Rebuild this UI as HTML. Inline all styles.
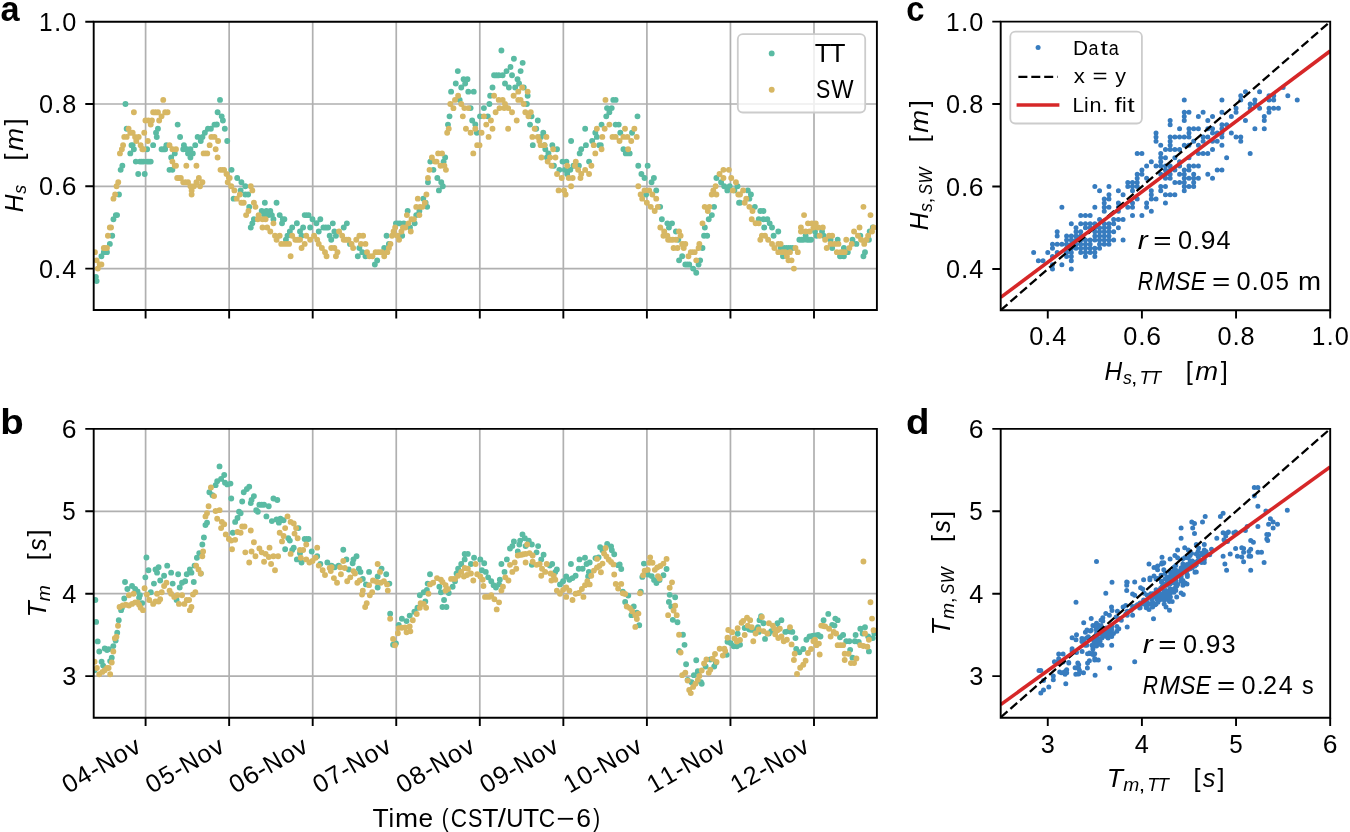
<!DOCTYPE html><html><head><meta charset="utf-8"><style>html,body{margin:0;padding:0;background:#fff;overflow:hidden}svg{display:block;will-change:transform}</style></head><body><svg width="1350" height="832" viewBox="0 0 1350 832" font-family='"Liberation Sans", sans-serif'><path d="M145.6 21.7V310.0M145.6 428.9V717.7M229.15 21.7V310.0M229.15 428.9V717.7M312.7 21.7V310.0M312.7 428.9V717.7M396.25 21.7V310.0M396.25 428.9V717.7M479.8 21.7V310.0M479.8 428.9V717.7M563.35 21.7V310.0M563.35 428.9V717.7M646.9 21.7V310.0M646.9 428.9V717.7M730.45 21.7V310.0M730.45 428.9V717.7M814 21.7V310.0M814 428.9V717.7M93.7 268.6H876.9M93.7 186.3H876.9M93.7 104H876.9M93.7 676.1H876.9M93.7 593.7H876.9M93.7 511.3H876.9" stroke="#b0b0b0" stroke-width="1.7" fill="none"/>
<clipPath id="ca"><rect x="93.7" y="21.7" width="783.2" height="288.3"/></clipPath>
<clipPath id="cb"><rect x="93.7" y="428.9" width="783.2" height="288.8"/></clipPath>
<clipPath id="cc"><rect x="1000.7" y="21.6" width="329.5" height="288.6"/></clipPath>
<clipPath id="cd"><rect x="1000.7" y="428.9" width="329.5" height="288.8"/></clipPath>
<path d="M92.94 276.83a2.95 2.95 0 1 0 5.9 0a2.95 2.95 0 1 0 -5.9 0M93.66 280.94a2.95 2.95 0 1 0 5.9 0a2.95 2.95 0 1 0 -5.9 0M98.47 256.26a2.95 2.95 0 1 0 5.9 0a2.95 2.95 0 1 0 -5.9 0M100.87 252.14a2.95 2.95 0 1 0 5.9 0a2.95 2.95 0 1 0 -5.9 0M104 252.14a2.95 2.95 0 1 0 5.9 0a2.95 2.95 0 1 0 -5.9 0M106.89 243.91a2.95 2.95 0 1 0 5.9 0a2.95 2.95 0 1 0 -5.9 0M109.29 235.68a2.95 2.95 0 1 0 5.9 0a2.95 2.95 0 1 0 -5.9 0M110.5 219.22a2.95 2.95 0 1 0 5.9 0a2.95 2.95 0 1 0 -5.9 0M112.9 215.1a2.95 2.95 0 1 0 5.9 0a2.95 2.95 0 1 0 -5.9 0M114.1 215.1a2.95 2.95 0 1 0 5.9 0a2.95 2.95 0 1 0 -5.9 0M116.03 194.53a2.95 2.95 0 1 0 5.9 0a2.95 2.95 0 1 0 -5.9 0M117.71 169.84a2.95 2.95 0 1 0 5.9 0a2.95 2.95 0 1 0 -5.9 0M119.4 165.72a2.95 2.95 0 1 0 5.9 0a2.95 2.95 0 1 0 -5.9 0M122.52 104a2.95 2.95 0 1 0 5.9 0a2.95 2.95 0 1 0 -5.9 0M123.73 128.69a2.95 2.95 0 1 0 5.9 0a2.95 2.95 0 1 0 -5.9 0M127.34 153.38a2.95 2.95 0 1 0 5.9 0a2.95 2.95 0 1 0 -5.9 0M128.54 145.15a2.95 2.95 0 1 0 5.9 0a2.95 2.95 0 1 0 -5.9 0M129.74 145.15a2.95 2.95 0 1 0 5.9 0a2.95 2.95 0 1 0 -5.9 0M130.94 149.27a2.95 2.95 0 1 0 5.9 0a2.95 2.95 0 1 0 -5.9 0M132.87 161.61a2.95 2.95 0 1 0 5.9 0a2.95 2.95 0 1 0 -5.9 0M135.27 173.95a2.95 2.95 0 1 0 5.9 0a2.95 2.95 0 1 0 -5.9 0M136.96 161.61a2.95 2.95 0 1 0 5.9 0a2.95 2.95 0 1 0 -5.9 0M140.57 161.61a2.95 2.95 0 1 0 5.9 0a2.95 2.95 0 1 0 -5.9 0M141.77 173.95a2.95 2.95 0 1 0 5.9 0a2.95 2.95 0 1 0 -5.9 0M144.17 149.27a2.95 2.95 0 1 0 5.9 0a2.95 2.95 0 1 0 -5.9 0M144.17 161.61a2.95 2.95 0 1 0 5.9 0a2.95 2.95 0 1 0 -5.9 0M147.78 161.61a2.95 2.95 0 1 0 5.9 0a2.95 2.95 0 1 0 -5.9 0M150.19 145.15a2.95 2.95 0 1 0 5.9 0a2.95 2.95 0 1 0 -5.9 0M153.07 132.81a2.95 2.95 0 1 0 5.9 0a2.95 2.95 0 1 0 -5.9 0M153.8 136.92a2.95 2.95 0 1 0 5.9 0a2.95 2.95 0 1 0 -5.9 0M155 128.69a2.95 2.95 0 1 0 5.9 0a2.95 2.95 0 1 0 -5.9 0M158.61 149.27a2.95 2.95 0 1 0 5.9 0a2.95 2.95 0 1 0 -5.9 0M162.21 149.27a2.95 2.95 0 1 0 5.9 0a2.95 2.95 0 1 0 -5.9 0M163.42 145.15a2.95 2.95 0 1 0 5.9 0a2.95 2.95 0 1 0 -5.9 0M166.54 169.84a2.95 2.95 0 1 0 5.9 0a2.95 2.95 0 1 0 -5.9 0M168.23 157.49a2.95 2.95 0 1 0 5.9 0a2.95 2.95 0 1 0 -5.9 0M169.43 169.84a2.95 2.95 0 1 0 5.9 0a2.95 2.95 0 1 0 -5.9 0M171.84 153.38a2.95 2.95 0 1 0 5.9 0a2.95 2.95 0 1 0 -5.9 0M174.72 124.58a2.95 2.95 0 1 0 5.9 0a2.95 2.95 0 1 0 -5.9 0M177.13 136.92a2.95 2.95 0 1 0 5.9 0a2.95 2.95 0 1 0 -5.9 0M180.26 149.27a2.95 2.95 0 1 0 5.9 0a2.95 2.95 0 1 0 -5.9 0M180.98 145.15a2.95 2.95 0 1 0 5.9 0a2.95 2.95 0 1 0 -5.9 0M183.86 149.27a2.95 2.95 0 1 0 5.9 0a2.95 2.95 0 1 0 -5.9 0M185.07 153.38a2.95 2.95 0 1 0 5.9 0a2.95 2.95 0 1 0 -5.9 0M187.47 149.27a2.95 2.95 0 1 0 5.9 0a2.95 2.95 0 1 0 -5.9 0M187.47 157.49a2.95 2.95 0 1 0 5.9 0a2.95 2.95 0 1 0 -5.9 0M189.88 153.38a2.95 2.95 0 1 0 5.9 0a2.95 2.95 0 1 0 -5.9 0M192.28 145.15a2.95 2.95 0 1 0 5.9 0a2.95 2.95 0 1 0 -5.9 0M194.69 136.92a2.95 2.95 0 1 0 5.9 0a2.95 2.95 0 1 0 -5.9 0M197.82 141.03a2.95 2.95 0 1 0 5.9 0a2.95 2.95 0 1 0 -5.9 0M199.5 136.92a2.95 2.95 0 1 0 5.9 0a2.95 2.95 0 1 0 -5.9 0M201.91 132.81a2.95 2.95 0 1 0 5.9 0a2.95 2.95 0 1 0 -5.9 0M205.03 128.69a2.95 2.95 0 1 0 5.9 0a2.95 2.95 0 1 0 -5.9 0M207.92 128.69a2.95 2.95 0 1 0 5.9 0a2.95 2.95 0 1 0 -5.9 0M211.53 124.58a2.95 2.95 0 1 0 5.9 0a2.95 2.95 0 1 0 -5.9 0M213.93 124.58a2.95 2.95 0 1 0 5.9 0a2.95 2.95 0 1 0 -5.9 0M214.65 112.23a2.95 2.95 0 1 0 5.9 0a2.95 2.95 0 1 0 -5.9 0M217.06 99.88a2.95 2.95 0 1 0 5.9 0a2.95 2.95 0 1 0 -5.9 0M218.74 116.34a2.95 2.95 0 1 0 5.9 0a2.95 2.95 0 1 0 -5.9 0M219.95 120.46a2.95 2.95 0 1 0 5.9 0a2.95 2.95 0 1 0 -5.9 0M221.87 128.69a2.95 2.95 0 1 0 5.9 0a2.95 2.95 0 1 0 -5.9 0M224.28 141.03a2.95 2.95 0 1 0 5.9 0a2.95 2.95 0 1 0 -5.9 0M228.61 169.84a2.95 2.95 0 1 0 5.9 0a2.95 2.95 0 1 0 -5.9 0M230.64 198.65a2.95 2.95 0 1 0 5.9 0a2.95 2.95 0 1 0 -5.9 0M234.24 178.07a2.95 2.95 0 1 0 5.9 0a2.95 2.95 0 1 0 -5.9 0M237.68 190.41a2.95 2.95 0 1 0 5.9 0a2.95 2.95 0 1 0 -5.9 0M238.46 182.19a2.95 2.95 0 1 0 5.9 0a2.95 2.95 0 1 0 -5.9 0M242.36 186.3a2.95 2.95 0 1 0 5.9 0a2.95 2.95 0 1 0 -5.9 0M242.36 194.53a2.95 2.95 0 1 0 5.9 0a2.95 2.95 0 1 0 -5.9 0M245.18 194.53a2.95 2.95 0 1 0 5.9 0a2.95 2.95 0 1 0 -5.9 0M246.27 206.87a2.95 2.95 0 1 0 5.9 0a2.95 2.95 0 1 0 -5.9 0M247.83 227.45a2.95 2.95 0 1 0 5.9 0a2.95 2.95 0 1 0 -5.9 0M249.39 223.33a2.95 2.95 0 1 0 5.9 0a2.95 2.95 0 1 0 -5.9 0M250.96 219.22a2.95 2.95 0 1 0 5.9 0a2.95 2.95 0 1 0 -5.9 0M258.77 210.99a2.95 2.95 0 1 0 5.9 0a2.95 2.95 0 1 0 -5.9 0M261.11 215.1a2.95 2.95 0 1 0 5.9 0a2.95 2.95 0 1 0 -5.9 0M261.89 202.76a2.95 2.95 0 1 0 5.9 0a2.95 2.95 0 1 0 -5.9 0M263.46 210.99a2.95 2.95 0 1 0 5.9 0a2.95 2.95 0 1 0 -5.9 0M265.8 215.1a2.95 2.95 0 1 0 5.9 0a2.95 2.95 0 1 0 -5.9 0M267.36 210.99a2.95 2.95 0 1 0 5.9 0a2.95 2.95 0 1 0 -5.9 0M268.93 215.1a2.95 2.95 0 1 0 5.9 0a2.95 2.95 0 1 0 -5.9 0M270.49 219.22a2.95 2.95 0 1 0 5.9 0a2.95 2.95 0 1 0 -5.9 0M273.61 202.76a2.95 2.95 0 1 0 5.9 0a2.95 2.95 0 1 0 -5.9 0M276.74 215.1a2.95 2.95 0 1 0 5.9 0a2.95 2.95 0 1 0 -5.9 0M279.08 223.33a2.95 2.95 0 1 0 5.9 0a2.95 2.95 0 1 0 -5.9 0M279.86 219.22a2.95 2.95 0 1 0 5.9 0a2.95 2.95 0 1 0 -5.9 0M281.43 219.22a2.95 2.95 0 1 0 5.9 0a2.95 2.95 0 1 0 -5.9 0M282.99 239.79a2.95 2.95 0 1 0 5.9 0a2.95 2.95 0 1 0 -5.9 0M284.55 235.68a2.95 2.95 0 1 0 5.9 0a2.95 2.95 0 1 0 -5.9 0M286.89 231.56a2.95 2.95 0 1 0 5.9 0a2.95 2.95 0 1 0 -5.9 0M289.24 227.45a2.95 2.95 0 1 0 5.9 0a2.95 2.95 0 1 0 -5.9 0M293.93 223.33a2.95 2.95 0 1 0 5.9 0a2.95 2.95 0 1 0 -5.9 0M297.05 231.56a2.95 2.95 0 1 0 5.9 0a2.95 2.95 0 1 0 -5.9 0M298.61 235.68a2.95 2.95 0 1 0 5.9 0a2.95 2.95 0 1 0 -5.9 0M300.18 227.45a2.95 2.95 0 1 0 5.9 0a2.95 2.95 0 1 0 -5.9 0M301.74 215.1a2.95 2.95 0 1 0 5.9 0a2.95 2.95 0 1 0 -5.9 0M305.64 215.1a2.95 2.95 0 1 0 5.9 0a2.95 2.95 0 1 0 -5.9 0M307.21 227.45a2.95 2.95 0 1 0 5.9 0a2.95 2.95 0 1 0 -5.9 0M309.55 219.22a2.95 2.95 0 1 0 5.9 0a2.95 2.95 0 1 0 -5.9 0M313.46 223.33a2.95 2.95 0 1 0 5.9 0a2.95 2.95 0 1 0 -5.9 0M315.8 231.56a2.95 2.95 0 1 0 5.9 0a2.95 2.95 0 1 0 -5.9 0M317.36 219.22a2.95 2.95 0 1 0 5.9 0a2.95 2.95 0 1 0 -5.9 0M320.49 227.45a2.95 2.95 0 1 0 5.9 0a2.95 2.95 0 1 0 -5.9 0M325.18 227.45a2.95 2.95 0 1 0 5.9 0a2.95 2.95 0 1 0 -5.9 0M326.74 235.68a2.95 2.95 0 1 0 5.9 0a2.95 2.95 0 1 0 -5.9 0M328.3 239.79a2.95 2.95 0 1 0 5.9 0a2.95 2.95 0 1 0 -5.9 0M329.86 223.33a2.95 2.95 0 1 0 5.9 0a2.95 2.95 0 1 0 -5.9 0M331.43 231.56a2.95 2.95 0 1 0 5.9 0a2.95 2.95 0 1 0 -5.9 0M332.99 235.68a2.95 2.95 0 1 0 5.9 0a2.95 2.95 0 1 0 -5.9 0M340.8 227.45a2.95 2.95 0 1 0 5.9 0a2.95 2.95 0 1 0 -5.9 0M343.93 223.33a2.95 2.95 0 1 0 5.9 0a2.95 2.95 0 1 0 -5.9 0M347.05 243.91a2.95 2.95 0 1 0 5.9 0a2.95 2.95 0 1 0 -5.9 0M354.86 256.26a2.95 2.95 0 1 0 5.9 0a2.95 2.95 0 1 0 -5.9 0M356.43 248.03a2.95 2.95 0 1 0 5.9 0a2.95 2.95 0 1 0 -5.9 0M359.39 252.14a2.95 2.95 0 1 0 5.9 0a2.95 2.95 0 1 0 -5.9 0M362.52 256.26a2.95 2.95 0 1 0 5.9 0a2.95 2.95 0 1 0 -5.9 0M371.89 264.49a2.95 2.95 0 1 0 5.9 0a2.95 2.95 0 1 0 -5.9 0M374.24 260.37a2.95 2.95 0 1 0 5.9 0a2.95 2.95 0 1 0 -5.9 0M381.27 248.03a2.95 2.95 0 1 0 5.9 0a2.95 2.95 0 1 0 -5.9 0M383.61 235.68a2.95 2.95 0 1 0 5.9 0a2.95 2.95 0 1 0 -5.9 0M385.96 243.91a2.95 2.95 0 1 0 5.9 0a2.95 2.95 0 1 0 -5.9 0M392.99 223.33a2.95 2.95 0 1 0 5.9 0a2.95 2.95 0 1 0 -5.9 0M396.89 223.33a2.95 2.95 0 1 0 5.9 0a2.95 2.95 0 1 0 -5.9 0M399.24 235.68a2.95 2.95 0 1 0 5.9 0a2.95 2.95 0 1 0 -5.9 0M400.8 223.33a2.95 2.95 0 1 0 5.9 0a2.95 2.95 0 1 0 -5.9 0M404.71 210.99a2.95 2.95 0 1 0 5.9 0a2.95 2.95 0 1 0 -5.9 0M407.05 227.45a2.95 2.95 0 1 0 5.9 0a2.95 2.95 0 1 0 -5.9 0M411.74 223.33a2.95 2.95 0 1 0 5.9 0a2.95 2.95 0 1 0 -5.9 0M413.3 215.1a2.95 2.95 0 1 0 5.9 0a2.95 2.95 0 1 0 -5.9 0M416.43 210.99a2.95 2.95 0 1 0 5.9 0a2.95 2.95 0 1 0 -5.9 0M420.33 198.65a2.95 2.95 0 1 0 5.9 0a2.95 2.95 0 1 0 -5.9 0M422.68 202.76a2.95 2.95 0 1 0 5.9 0a2.95 2.95 0 1 0 -5.9 0M424.24 206.87a2.95 2.95 0 1 0 5.9 0a2.95 2.95 0 1 0 -5.9 0M425.02 182.19a2.95 2.95 0 1 0 5.9 0a2.95 2.95 0 1 0 -5.9 0M427.36 161.61a2.95 2.95 0 1 0 5.9 0a2.95 2.95 0 1 0 -5.9 0M430.49 169.84a2.95 2.95 0 1 0 5.9 0a2.95 2.95 0 1 0 -5.9 0M434.39 178.07a2.95 2.95 0 1 0 5.9 0a2.95 2.95 0 1 0 -5.9 0M435.96 190.41a2.95 2.95 0 1 0 5.9 0a2.95 2.95 0 1 0 -5.9 0M438.3 182.19a2.95 2.95 0 1 0 5.9 0a2.95 2.95 0 1 0 -5.9 0M439.86 186.3a2.95 2.95 0 1 0 5.9 0a2.95 2.95 0 1 0 -5.9 0M440.64 161.61a2.95 2.95 0 1 0 5.9 0a2.95 2.95 0 1 0 -5.9 0M442.21 157.49a2.95 2.95 0 1 0 5.9 0a2.95 2.95 0 1 0 -5.9 0M445.02 124.58a2.95 2.95 0 1 0 5.9 0a2.95 2.95 0 1 0 -5.9 0M446.58 116.34a2.95 2.95 0 1 0 5.9 0a2.95 2.95 0 1 0 -5.9 0M448.14 91.66a2.95 2.95 0 1 0 5.9 0a2.95 2.95 0 1 0 -5.9 0M452.83 83.43a2.95 2.95 0 1 0 5.9 0a2.95 2.95 0 1 0 -5.9 0M454.86 71.08a2.95 2.95 0 1 0 5.9 0a2.95 2.95 0 1 0 -5.9 0M456.74 99.88a2.95 2.95 0 1 0 5.9 0a2.95 2.95 0 1 0 -5.9 0M458.3 87.54a2.95 2.95 0 1 0 5.9 0a2.95 2.95 0 1 0 -5.9 0M460.64 79.31a2.95 2.95 0 1 0 5.9 0a2.95 2.95 0 1 0 -5.9 0M462.21 83.43a2.95 2.95 0 1 0 5.9 0a2.95 2.95 0 1 0 -5.9 0M464.55 79.31a2.95 2.95 0 1 0 5.9 0a2.95 2.95 0 1 0 -5.9 0M465.33 91.66a2.95 2.95 0 1 0 5.9 0a2.95 2.95 0 1 0 -5.9 0M467.68 108.11a2.95 2.95 0 1 0 5.9 0a2.95 2.95 0 1 0 -5.9 0M469.24 120.46a2.95 2.95 0 1 0 5.9 0a2.95 2.95 0 1 0 -5.9 0M470.8 91.66a2.95 2.95 0 1 0 5.9 0a2.95 2.95 0 1 0 -5.9 0M472.36 124.58a2.95 2.95 0 1 0 5.9 0a2.95 2.95 0 1 0 -5.9 0M473.93 132.81a2.95 2.95 0 1 0 5.9 0a2.95 2.95 0 1 0 -5.9 0M477.05 116.34a2.95 2.95 0 1 0 5.9 0a2.95 2.95 0 1 0 -5.9 0M480.96 108.11a2.95 2.95 0 1 0 5.9 0a2.95 2.95 0 1 0 -5.9 0M484.86 116.34a2.95 2.95 0 1 0 5.9 0a2.95 2.95 0 1 0 -5.9 0M486.43 104a2.95 2.95 0 1 0 5.9 0a2.95 2.95 0 1 0 -5.9 0M487.21 95.77a2.95 2.95 0 1 0 5.9 0a2.95 2.95 0 1 0 -5.9 0M489.55 87.54a2.95 2.95 0 1 0 5.9 0a2.95 2.95 0 1 0 -5.9 0M491.11 75.2a2.95 2.95 0 1 0 5.9 0a2.95 2.95 0 1 0 -5.9 0M495.8 75.2a2.95 2.95 0 1 0 5.9 0a2.95 2.95 0 1 0 -5.9 0M498.46 50.5a2.95 2.95 0 1 0 5.9 0a2.95 2.95 0 1 0 -5.9 0M499.71 75.2a2.95 2.95 0 1 0 5.9 0a2.95 2.95 0 1 0 -5.9 0M502.05 83.43a2.95 2.95 0 1 0 5.9 0a2.95 2.95 0 1 0 -5.9 0M503.61 71.08a2.95 2.95 0 1 0 5.9 0a2.95 2.95 0 1 0 -5.9 0M505.96 87.54a2.95 2.95 0 1 0 5.9 0a2.95 2.95 0 1 0 -5.9 0M507.52 66.96a2.95 2.95 0 1 0 5.9 0a2.95 2.95 0 1 0 -5.9 0M509.08 75.2a2.95 2.95 0 1 0 5.9 0a2.95 2.95 0 1 0 -5.9 0M510.96 58.73a2.95 2.95 0 1 0 5.9 0a2.95 2.95 0 1 0 -5.9 0M512.21 87.54a2.95 2.95 0 1 0 5.9 0a2.95 2.95 0 1 0 -5.9 0M514.55 79.31a2.95 2.95 0 1 0 5.9 0a2.95 2.95 0 1 0 -5.9 0M516.11 83.43a2.95 2.95 0 1 0 5.9 0a2.95 2.95 0 1 0 -5.9 0M517.67 71.08a2.95 2.95 0 1 0 5.9 0a2.95 2.95 0 1 0 -5.9 0M519.71 62.85a2.95 2.95 0 1 0 5.9 0a2.95 2.95 0 1 0 -5.9 0M520.8 87.54a2.95 2.95 0 1 0 5.9 0a2.95 2.95 0 1 0 -5.9 0M523.92 104a2.95 2.95 0 1 0 5.9 0a2.95 2.95 0 1 0 -5.9 0M524.71 95.77a2.95 2.95 0 1 0 5.9 0a2.95 2.95 0 1 0 -5.9 0M527.05 124.58a2.95 2.95 0 1 0 5.9 0a2.95 2.95 0 1 0 -5.9 0M528.61 116.34a2.95 2.95 0 1 0 5.9 0a2.95 2.95 0 1 0 -5.9 0M529.86 145.15a2.95 2.95 0 1 0 5.9 0a2.95 2.95 0 1 0 -5.9 0M533.3 128.69a2.95 2.95 0 1 0 5.9 0a2.95 2.95 0 1 0 -5.9 0M534.86 120.46a2.95 2.95 0 1 0 5.9 0a2.95 2.95 0 1 0 -5.9 0M537.99 136.92a2.95 2.95 0 1 0 5.9 0a2.95 2.95 0 1 0 -5.9 0M540.33 132.81a2.95 2.95 0 1 0 5.9 0a2.95 2.95 0 1 0 -5.9 0M541.58 145.15a2.95 2.95 0 1 0 5.9 0a2.95 2.95 0 1 0 -5.9 0M542.36 149.27a2.95 2.95 0 1 0 5.9 0a2.95 2.95 0 1 0 -5.9 0M543.92 157.49a2.95 2.95 0 1 0 5.9 0a2.95 2.95 0 1 0 -5.9 0M545.49 153.38a2.95 2.95 0 1 0 5.9 0a2.95 2.95 0 1 0 -5.9 0M549.39 145.15a2.95 2.95 0 1 0 5.9 0a2.95 2.95 0 1 0 -5.9 0M550.96 165.72a2.95 2.95 0 1 0 5.9 0a2.95 2.95 0 1 0 -5.9 0M554.08 149.27a2.95 2.95 0 1 0 5.9 0a2.95 2.95 0 1 0 -5.9 0M556.42 169.84a2.95 2.95 0 1 0 5.9 0a2.95 2.95 0 1 0 -5.9 0M559.55 161.61a2.95 2.95 0 1 0 5.9 0a2.95 2.95 0 1 0 -5.9 0M561.89 169.84a2.95 2.95 0 1 0 5.9 0a2.95 2.95 0 1 0 -5.9 0M563.46 161.61a2.95 2.95 0 1 0 5.9 0a2.95 2.95 0 1 0 -5.9 0M564.24 173.95a2.95 2.95 0 1 0 5.9 0a2.95 2.95 0 1 0 -5.9 0M567.36 169.84a2.95 2.95 0 1 0 5.9 0a2.95 2.95 0 1 0 -5.9 0M568.14 141.03a2.95 2.95 0 1 0 5.9 0a2.95 2.95 0 1 0 -5.9 0M570.49 165.72a2.95 2.95 0 1 0 5.9 0a2.95 2.95 0 1 0 -5.9 0M575.96 165.72a2.95 2.95 0 1 0 5.9 0a2.95 2.95 0 1 0 -5.9 0M576.74 153.38a2.95 2.95 0 1 0 5.9 0a2.95 2.95 0 1 0 -5.9 0M578.3 149.27a2.95 2.95 0 1 0 5.9 0a2.95 2.95 0 1 0 -5.9 0M582.21 128.69a2.95 2.95 0 1 0 5.9 0a2.95 2.95 0 1 0 -5.9 0M582.99 145.15a2.95 2.95 0 1 0 5.9 0a2.95 2.95 0 1 0 -5.9 0M586.11 161.61a2.95 2.95 0 1 0 5.9 0a2.95 2.95 0 1 0 -5.9 0M589.24 141.03a2.95 2.95 0 1 0 5.9 0a2.95 2.95 0 1 0 -5.9 0M592.36 132.81a2.95 2.95 0 1 0 5.9 0a2.95 2.95 0 1 0 -5.9 0M593.92 136.92a2.95 2.95 0 1 0 5.9 0a2.95 2.95 0 1 0 -5.9 0M596.27 145.15a2.95 2.95 0 1 0 5.9 0a2.95 2.95 0 1 0 -5.9 0M597.83 145.15a2.95 2.95 0 1 0 5.9 0a2.95 2.95 0 1 0 -5.9 0M598.61 124.58a2.95 2.95 0 1 0 5.9 0a2.95 2.95 0 1 0 -5.9 0M603.3 116.34a2.95 2.95 0 1 0 5.9 0a2.95 2.95 0 1 0 -5.9 0M604.08 108.11a2.95 2.95 0 1 0 5.9 0a2.95 2.95 0 1 0 -5.9 0M606.42 112.23a2.95 2.95 0 1 0 5.9 0a2.95 2.95 0 1 0 -5.9 0M608.77 108.11a2.95 2.95 0 1 0 5.9 0a2.95 2.95 0 1 0 -5.9 0M610.33 99.88a2.95 2.95 0 1 0 5.9 0a2.95 2.95 0 1 0 -5.9 0M612.67 99.88a2.95 2.95 0 1 0 5.9 0a2.95 2.95 0 1 0 -5.9 0M612.67 124.58a2.95 2.95 0 1 0 5.9 0a2.95 2.95 0 1 0 -5.9 0M615.8 124.58a2.95 2.95 0 1 0 5.9 0a2.95 2.95 0 1 0 -5.9 0M617.36 132.81a2.95 2.95 0 1 0 5.9 0a2.95 2.95 0 1 0 -5.9 0M620.49 149.27a2.95 2.95 0 1 0 5.9 0a2.95 2.95 0 1 0 -5.9 0M622.83 153.38a2.95 2.95 0 1 0 5.9 0a2.95 2.95 0 1 0 -5.9 0M626.74 153.38a2.95 2.95 0 1 0 5.9 0a2.95 2.95 0 1 0 -5.9 0M629.08 132.81a2.95 2.95 0 1 0 5.9 0a2.95 2.95 0 1 0 -5.9 0M634.55 116.34a2.95 2.95 0 1 0 5.9 0a2.95 2.95 0 1 0 -5.9 0M635.33 165.72a2.95 2.95 0 1 0 5.9 0a2.95 2.95 0 1 0 -5.9 0M638.46 173.95a2.95 2.95 0 1 0 5.9 0a2.95 2.95 0 1 0 -5.9 0M641.58 178.07a2.95 2.95 0 1 0 5.9 0a2.95 2.95 0 1 0 -5.9 0M643.14 194.53a2.95 2.95 0 1 0 5.9 0a2.95 2.95 0 1 0 -5.9 0M644.71 165.72a2.95 2.95 0 1 0 5.9 0a2.95 2.95 0 1 0 -5.9 0M648.61 182.19a2.95 2.95 0 1 0 5.9 0a2.95 2.95 0 1 0 -5.9 0M650.96 178.07a2.95 2.95 0 1 0 5.9 0a2.95 2.95 0 1 0 -5.9 0M653.3 190.41a2.95 2.95 0 1 0 5.9 0a2.95 2.95 0 1 0 -5.9 0M657.21 206.87a2.95 2.95 0 1 0 5.9 0a2.95 2.95 0 1 0 -5.9 0M658.92 219.22a2.95 2.95 0 1 0 5.9 0a2.95 2.95 0 1 0 -5.9 0M664.39 223.33a2.95 2.95 0 1 0 5.9 0a2.95 2.95 0 1 0 -5.9 0M665.96 227.45a2.95 2.95 0 1 0 5.9 0a2.95 2.95 0 1 0 -5.9 0M669.08 223.33a2.95 2.95 0 1 0 5.9 0a2.95 2.95 0 1 0 -5.9 0M672.99 231.56a2.95 2.95 0 1 0 5.9 0a2.95 2.95 0 1 0 -5.9 0M675.33 239.79a2.95 2.95 0 1 0 5.9 0a2.95 2.95 0 1 0 -5.9 0M676.11 260.37a2.95 2.95 0 1 0 5.9 0a2.95 2.95 0 1 0 -5.9 0M679.24 256.26a2.95 2.95 0 1 0 5.9 0a2.95 2.95 0 1 0 -5.9 0M682.36 264.49a2.95 2.95 0 1 0 5.9 0a2.95 2.95 0 1 0 -5.9 0M686.27 264.49a2.95 2.95 0 1 0 5.9 0a2.95 2.95 0 1 0 -5.9 0M690.17 268.6a2.95 2.95 0 1 0 5.9 0a2.95 2.95 0 1 0 -5.9 0M693.3 272.71a2.95 2.95 0 1 0 5.9 0a2.95 2.95 0 1 0 -5.9 0M695.64 264.49a2.95 2.95 0 1 0 5.9 0a2.95 2.95 0 1 0 -5.9 0M697.21 260.37a2.95 2.95 0 1 0 5.9 0a2.95 2.95 0 1 0 -5.9 0M699.55 248.03a2.95 2.95 0 1 0 5.9 0a2.95 2.95 0 1 0 -5.9 0M701.11 235.68a2.95 2.95 0 1 0 5.9 0a2.95 2.95 0 1 0 -5.9 0M701.89 227.45a2.95 2.95 0 1 0 5.9 0a2.95 2.95 0 1 0 -5.9 0M704.24 235.68a2.95 2.95 0 1 0 5.9 0a2.95 2.95 0 1 0 -5.9 0M705.8 219.22a2.95 2.95 0 1 0 5.9 0a2.95 2.95 0 1 0 -5.9 0M708.92 215.1a2.95 2.95 0 1 0 5.9 0a2.95 2.95 0 1 0 -5.9 0M711.11 206.87a2.95 2.95 0 1 0 5.9 0a2.95 2.95 0 1 0 -5.9 0M713.46 178.07a2.95 2.95 0 1 0 5.9 0a2.95 2.95 0 1 0 -5.9 0M718.14 182.19a2.95 2.95 0 1 0 5.9 0a2.95 2.95 0 1 0 -5.9 0M721.27 186.3a2.95 2.95 0 1 0 5.9 0a2.95 2.95 0 1 0 -5.9 0M724.39 190.41a2.95 2.95 0 1 0 5.9 0a2.95 2.95 0 1 0 -5.9 0M726.74 186.3a2.95 2.95 0 1 0 5.9 0a2.95 2.95 0 1 0 -5.9 0M731.42 190.41a2.95 2.95 0 1 0 5.9 0a2.95 2.95 0 1 0 -5.9 0M734.55 186.3a2.95 2.95 0 1 0 5.9 0a2.95 2.95 0 1 0 -5.9 0M736.11 202.76a2.95 2.95 0 1 0 5.9 0a2.95 2.95 0 1 0 -5.9 0M737.05 202.76a2.95 2.95 0 1 0 5.9 0a2.95 2.95 0 1 0 -5.9 0M744.86 190.41a2.95 2.95 0 1 0 5.9 0a2.95 2.95 0 1 0 -5.9 0M746.42 198.65a2.95 2.95 0 1 0 5.9 0a2.95 2.95 0 1 0 -5.9 0M747.99 194.53a2.95 2.95 0 1 0 5.9 0a2.95 2.95 0 1 0 -5.9 0M751.89 206.87a2.95 2.95 0 1 0 5.9 0a2.95 2.95 0 1 0 -5.9 0M755.8 219.22a2.95 2.95 0 1 0 5.9 0a2.95 2.95 0 1 0 -5.9 0M757.36 210.99a2.95 2.95 0 1 0 5.9 0a2.95 2.95 0 1 0 -5.9 0M760.49 210.99a2.95 2.95 0 1 0 5.9 0a2.95 2.95 0 1 0 -5.9 0M760.49 219.22a2.95 2.95 0 1 0 5.9 0a2.95 2.95 0 1 0 -5.9 0M761.27 227.45a2.95 2.95 0 1 0 5.9 0a2.95 2.95 0 1 0 -5.9 0M764.39 219.22a2.95 2.95 0 1 0 5.9 0a2.95 2.95 0 1 0 -5.9 0M766.74 223.33a2.95 2.95 0 1 0 5.9 0a2.95 2.95 0 1 0 -5.9 0M769.08 227.45a2.95 2.95 0 1 0 5.9 0a2.95 2.95 0 1 0 -5.9 0M770.64 235.68a2.95 2.95 0 1 0 5.9 0a2.95 2.95 0 1 0 -5.9 0M775.33 231.56a2.95 2.95 0 1 0 5.9 0a2.95 2.95 0 1 0 -5.9 0M777.67 248.03a2.95 2.95 0 1 0 5.9 0a2.95 2.95 0 1 0 -5.9 0M780.02 256.26a2.95 2.95 0 1 0 5.9 0a2.95 2.95 0 1 0 -5.9 0M781.58 248.03a2.95 2.95 0 1 0 5.9 0a2.95 2.95 0 1 0 -5.9 0M785.49 248.03a2.95 2.95 0 1 0 5.9 0a2.95 2.95 0 1 0 -5.9 0M789.39 248.03a2.95 2.95 0 1 0 5.9 0a2.95 2.95 0 1 0 -5.9 0M796.42 239.79a2.95 2.95 0 1 0 5.9 0a2.95 2.95 0 1 0 -5.9 0M800.33 239.79a2.95 2.95 0 1 0 5.9 0a2.95 2.95 0 1 0 -5.9 0M802.67 235.68a2.95 2.95 0 1 0 5.9 0a2.95 2.95 0 1 0 -5.9 0M804.24 239.79a2.95 2.95 0 1 0 5.9 0a2.95 2.95 0 1 0 -5.9 0M808.14 239.79a2.95 2.95 0 1 0 5.9 0a2.95 2.95 0 1 0 -5.9 0M812.05 231.56a2.95 2.95 0 1 0 5.9 0a2.95 2.95 0 1 0 -5.9 0M813.61 235.68a2.95 2.95 0 1 0 5.9 0a2.95 2.95 0 1 0 -5.9 0M819.08 231.56a2.95 2.95 0 1 0 5.9 0a2.95 2.95 0 1 0 -5.9 0M820.64 235.68a2.95 2.95 0 1 0 5.9 0a2.95 2.95 0 1 0 -5.9 0M827.67 239.79a2.95 2.95 0 1 0 5.9 0a2.95 2.95 0 1 0 -5.9 0M829.24 248.03a2.95 2.95 0 1 0 5.9 0a2.95 2.95 0 1 0 -5.9 0M834.71 239.79a2.95 2.95 0 1 0 5.9 0a2.95 2.95 0 1 0 -5.9 0M837.05 256.26a2.95 2.95 0 1 0 5.9 0a2.95 2.95 0 1 0 -5.9 0M840.96 248.03a2.95 2.95 0 1 0 5.9 0a2.95 2.95 0 1 0 -5.9 0M840.96 256.26a2.95 2.95 0 1 0 5.9 0a2.95 2.95 0 1 0 -5.9 0M844.86 252.14a2.95 2.95 0 1 0 5.9 0a2.95 2.95 0 1 0 -5.9 0M849.55 239.79a2.95 2.95 0 1 0 5.9 0a2.95 2.95 0 1 0 -5.9 0M853.46 243.91a2.95 2.95 0 1 0 5.9 0a2.95 2.95 0 1 0 -5.9 0M857.36 235.68a2.95 2.95 0 1 0 5.9 0a2.95 2.95 0 1 0 -5.9 0M860.49 256.26a2.95 2.95 0 1 0 5.9 0a2.95 2.95 0 1 0 -5.9 0M862.05 252.14a2.95 2.95 0 1 0 5.9 0a2.95 2.95 0 1 0 -5.9 0M865.96 239.79a2.95 2.95 0 1 0 5.9 0a2.95 2.95 0 1 0 -5.9 0M866.74 231.56a2.95 2.95 0 1 0 5.9 0a2.95 2.95 0 1 0 -5.9 0M869.86 227.45a2.95 2.95 0 1 0 5.9 0a2.95 2.95 0 1 0 -5.9 0M138.76 161.61a2.95 2.95 0 1 0 5.9 0a2.95 2.95 0 1 0 -5.9 0M145.98 161.61a2.95 2.95 0 1 0 5.9 0a2.95 2.95 0 1 0 -5.9 0M160.41 149.27a2.95 2.95 0 1 0 5.9 0a2.95 2.95 0 1 0 -5.9 0M303.69 215.1a2.95 2.95 0 1 0 5.9 0a2.95 2.95 0 1 0 -5.9 0M322.83 227.45a2.95 2.95 0 1 0 5.9 0a2.95 2.95 0 1 0 -5.9 0M394.94 223.33a2.95 2.95 0 1 0 5.9 0a2.95 2.95 0 1 0 -5.9 0M493.46 75.2a2.95 2.95 0 1 0 5.9 0a2.95 2.95 0 1 0 -5.9 0M573.22 165.72a2.95 2.95 0 1 0 5.9 0a2.95 2.95 0 1 0 -5.9 0M624.78 153.38a2.95 2.95 0 1 0 5.9 0a2.95 2.95 0 1 0 -5.9 0M684.32 264.49a2.95 2.95 0 1 0 5.9 0a2.95 2.95 0 1 0 -5.9 0M783.53 248.03a2.95 2.95 0 1 0 5.9 0a2.95 2.95 0 1 0 -5.9 0M787.44 248.03a2.95 2.95 0 1 0 5.9 0a2.95 2.95 0 1 0 -5.9 0M798.38 239.79a2.95 2.95 0 1 0 5.9 0a2.95 2.95 0 1 0 -5.9 0M806.19 239.79a2.95 2.95 0 1 0 5.9 0a2.95 2.95 0 1 0 -5.9 0" fill="#5abba3" clip-path="url(#ca)"/>
<path d="M91.97 252.14a2.95 2.95 0 1 0 5.9 0a2.95 2.95 0 1 0 -5.9 0M93.66 260.37a2.95 2.95 0 1 0 5.9 0a2.95 2.95 0 1 0 -5.9 0M94.86 268.6a2.95 2.95 0 1 0 5.9 0a2.95 2.95 0 1 0 -5.9 0M96.79 264.49a2.95 2.95 0 1 0 5.9 0a2.95 2.95 0 1 0 -5.9 0M98.47 264.49a2.95 2.95 0 1 0 5.9 0a2.95 2.95 0 1 0 -5.9 0M100.87 248.03a2.95 2.95 0 1 0 5.9 0a2.95 2.95 0 1 0 -5.9 0M102.08 248.03a2.95 2.95 0 1 0 5.9 0a2.95 2.95 0 1 0 -5.9 0M104 248.03a2.95 2.95 0 1 0 5.9 0a2.95 2.95 0 1 0 -5.9 0M104.96 235.68a2.95 2.95 0 1 0 5.9 0a2.95 2.95 0 1 0 -5.9 0M106.89 227.45a2.95 2.95 0 1 0 5.9 0a2.95 2.95 0 1 0 -5.9 0M108.09 227.45a2.95 2.95 0 1 0 5.9 0a2.95 2.95 0 1 0 -5.9 0M110.5 198.65a2.95 2.95 0 1 0 5.9 0a2.95 2.95 0 1 0 -5.9 0M112.18 194.53a2.95 2.95 0 1 0 5.9 0a2.95 2.95 0 1 0 -5.9 0M113.62 186.3a2.95 2.95 0 1 0 5.9 0a2.95 2.95 0 1 0 -5.9 0M115.31 182.19a2.95 2.95 0 1 0 5.9 0a2.95 2.95 0 1 0 -5.9 0M116.99 153.38a2.95 2.95 0 1 0 5.9 0a2.95 2.95 0 1 0 -5.9 0M118.92 149.27a2.95 2.95 0 1 0 5.9 0a2.95 2.95 0 1 0 -5.9 0M120.12 145.15a2.95 2.95 0 1 0 5.9 0a2.95 2.95 0 1 0 -5.9 0M121.32 136.92a2.95 2.95 0 1 0 5.9 0a2.95 2.95 0 1 0 -5.9 0M123.73 136.92a2.95 2.95 0 1 0 5.9 0a2.95 2.95 0 1 0 -5.9 0M125.65 128.69a2.95 2.95 0 1 0 5.9 0a2.95 2.95 0 1 0 -5.9 0M127.34 132.81a2.95 2.95 0 1 0 5.9 0a2.95 2.95 0 1 0 -5.9 0M129.74 132.81a2.95 2.95 0 1 0 5.9 0a2.95 2.95 0 1 0 -5.9 0M130.94 112.23a2.95 2.95 0 1 0 5.9 0a2.95 2.95 0 1 0 -5.9 0M132.15 136.92a2.95 2.95 0 1 0 5.9 0a2.95 2.95 0 1 0 -5.9 0M133.35 141.03a2.95 2.95 0 1 0 5.9 0a2.95 2.95 0 1 0 -5.9 0M135.75 136.92a2.95 2.95 0 1 0 5.9 0a2.95 2.95 0 1 0 -5.9 0M137.68 145.15a2.95 2.95 0 1 0 5.9 0a2.95 2.95 0 1 0 -5.9 0M139.36 149.27a2.95 2.95 0 1 0 5.9 0a2.95 2.95 0 1 0 -5.9 0M140.57 149.27a2.95 2.95 0 1 0 5.9 0a2.95 2.95 0 1 0 -5.9 0M141.29 132.81a2.95 2.95 0 1 0 5.9 0a2.95 2.95 0 1 0 -5.9 0M142.49 120.46a2.95 2.95 0 1 0 5.9 0a2.95 2.95 0 1 0 -5.9 0M144.9 141.03a2.95 2.95 0 1 0 5.9 0a2.95 2.95 0 1 0 -5.9 0M145.38 120.46a2.95 2.95 0 1 0 5.9 0a2.95 2.95 0 1 0 -5.9 0M147.78 124.58a2.95 2.95 0 1 0 5.9 0a2.95 2.95 0 1 0 -5.9 0M148.98 120.46a2.95 2.95 0 1 0 5.9 0a2.95 2.95 0 1 0 -5.9 0M150.19 112.23a2.95 2.95 0 1 0 5.9 0a2.95 2.95 0 1 0 -5.9 0M152.59 112.23a2.95 2.95 0 1 0 5.9 0a2.95 2.95 0 1 0 -5.9 0M155 112.23a2.95 2.95 0 1 0 5.9 0a2.95 2.95 0 1 0 -5.9 0M156.2 120.46a2.95 2.95 0 1 0 5.9 0a2.95 2.95 0 1 0 -5.9 0M158.61 116.34a2.95 2.95 0 1 0 5.9 0a2.95 2.95 0 1 0 -5.9 0M160.29 99.88a2.95 2.95 0 1 0 5.9 0a2.95 2.95 0 1 0 -5.9 0M162.21 112.23a2.95 2.95 0 1 0 5.9 0a2.95 2.95 0 1 0 -5.9 0M164.62 112.23a2.95 2.95 0 1 0 5.9 0a2.95 2.95 0 1 0 -5.9 0M166.54 145.15a2.95 2.95 0 1 0 5.9 0a2.95 2.95 0 1 0 -5.9 0M169.43 149.27a2.95 2.95 0 1 0 5.9 0a2.95 2.95 0 1 0 -5.9 0M169.43 161.61a2.95 2.95 0 1 0 5.9 0a2.95 2.95 0 1 0 -5.9 0M171.84 165.72a2.95 2.95 0 1 0 5.9 0a2.95 2.95 0 1 0 -5.9 0M173.04 149.27a2.95 2.95 0 1 0 5.9 0a2.95 2.95 0 1 0 -5.9 0M173.04 165.72a2.95 2.95 0 1 0 5.9 0a2.95 2.95 0 1 0 -5.9 0M174.24 178.07a2.95 2.95 0 1 0 5.9 0a2.95 2.95 0 1 0 -5.9 0M177.85 178.07a2.95 2.95 0 1 0 5.9 0a2.95 2.95 0 1 0 -5.9 0M180.26 182.19a2.95 2.95 0 1 0 5.9 0a2.95 2.95 0 1 0 -5.9 0M182.66 182.19a2.95 2.95 0 1 0 5.9 0a2.95 2.95 0 1 0 -5.9 0M183.38 165.72a2.95 2.95 0 1 0 5.9 0a2.95 2.95 0 1 0 -5.9 0M185.07 182.19a2.95 2.95 0 1 0 5.9 0a2.95 2.95 0 1 0 -5.9 0M187.47 186.3a2.95 2.95 0 1 0 5.9 0a2.95 2.95 0 1 0 -5.9 0M188.68 190.41a2.95 2.95 0 1 0 5.9 0a2.95 2.95 0 1 0 -5.9 0M188.68 194.53a2.95 2.95 0 1 0 5.9 0a2.95 2.95 0 1 0 -5.9 0M191.08 186.3a2.95 2.95 0 1 0 5.9 0a2.95 2.95 0 1 0 -5.9 0M193.49 165.72a2.95 2.95 0 1 0 5.9 0a2.95 2.95 0 1 0 -5.9 0M193.49 182.19a2.95 2.95 0 1 0 5.9 0a2.95 2.95 0 1 0 -5.9 0M195.89 178.07a2.95 2.95 0 1 0 5.9 0a2.95 2.95 0 1 0 -5.9 0M197.09 186.3a2.95 2.95 0 1 0 5.9 0a2.95 2.95 0 1 0 -5.9 0M199.5 182.19a2.95 2.95 0 1 0 5.9 0a2.95 2.95 0 1 0 -5.9 0M200.7 153.38a2.95 2.95 0 1 0 5.9 0a2.95 2.95 0 1 0 -5.9 0M204.31 153.38a2.95 2.95 0 1 0 5.9 0a2.95 2.95 0 1 0 -5.9 0M206.72 145.15a2.95 2.95 0 1 0 5.9 0a2.95 2.95 0 1 0 -5.9 0M208.4 136.92a2.95 2.95 0 1 0 5.9 0a2.95 2.95 0 1 0 -5.9 0M211.53 136.92a2.95 2.95 0 1 0 5.9 0a2.95 2.95 0 1 0 -5.9 0M212.73 149.27a2.95 2.95 0 1 0 5.9 0a2.95 2.95 0 1 0 -5.9 0M214.65 157.49a2.95 2.95 0 1 0 5.9 0a2.95 2.95 0 1 0 -5.9 0M215.14 141.03a2.95 2.95 0 1 0 5.9 0a2.95 2.95 0 1 0 -5.9 0M217.54 169.84a2.95 2.95 0 1 0 5.9 0a2.95 2.95 0 1 0 -5.9 0M221.15 169.84a2.95 2.95 0 1 0 5.9 0a2.95 2.95 0 1 0 -5.9 0M223.56 173.95a2.95 2.95 0 1 0 5.9 0a2.95 2.95 0 1 0 -5.9 0M224.76 182.19a2.95 2.95 0 1 0 5.9 0a2.95 2.95 0 1 0 -5.9 0M225.96 178.07a2.95 2.95 0 1 0 5.9 0a2.95 2.95 0 1 0 -5.9 0M226.74 178.07a2.95 2.95 0 1 0 5.9 0a2.95 2.95 0 1 0 -5.9 0M228.3 186.3a2.95 2.95 0 1 0 5.9 0a2.95 2.95 0 1 0 -5.9 0M231.43 190.41a2.95 2.95 0 1 0 5.9 0a2.95 2.95 0 1 0 -5.9 0M233.77 198.65a2.95 2.95 0 1 0 5.9 0a2.95 2.95 0 1 0 -5.9 0M236.89 194.53a2.95 2.95 0 1 0 5.9 0a2.95 2.95 0 1 0 -5.9 0M238.46 202.76a2.95 2.95 0 1 0 5.9 0a2.95 2.95 0 1 0 -5.9 0M240.8 202.76a2.95 2.95 0 1 0 5.9 0a2.95 2.95 0 1 0 -5.9 0M243.14 215.1a2.95 2.95 0 1 0 5.9 0a2.95 2.95 0 1 0 -5.9 0M245.49 210.99a2.95 2.95 0 1 0 5.9 0a2.95 2.95 0 1 0 -5.9 0M247.83 186.3a2.95 2.95 0 1 0 5.9 0a2.95 2.95 0 1 0 -5.9 0M249.39 190.41a2.95 2.95 0 1 0 5.9 0a2.95 2.95 0 1 0 -5.9 0M250.96 202.76a2.95 2.95 0 1 0 5.9 0a2.95 2.95 0 1 0 -5.9 0M252.52 206.87a2.95 2.95 0 1 0 5.9 0a2.95 2.95 0 1 0 -5.9 0M254.86 219.22a2.95 2.95 0 1 0 5.9 0a2.95 2.95 0 1 0 -5.9 0M255.64 215.1a2.95 2.95 0 1 0 5.9 0a2.95 2.95 0 1 0 -5.9 0M259.55 219.22a2.95 2.95 0 1 0 5.9 0a2.95 2.95 0 1 0 -5.9 0M259.55 227.45a2.95 2.95 0 1 0 5.9 0a2.95 2.95 0 1 0 -5.9 0M262.68 219.22a2.95 2.95 0 1 0 5.9 0a2.95 2.95 0 1 0 -5.9 0M264.24 227.45a2.95 2.95 0 1 0 5.9 0a2.95 2.95 0 1 0 -5.9 0M267.36 231.56a2.95 2.95 0 1 0 5.9 0a2.95 2.95 0 1 0 -5.9 0M270.49 223.33a2.95 2.95 0 1 0 5.9 0a2.95 2.95 0 1 0 -5.9 0M272.05 235.68a2.95 2.95 0 1 0 5.9 0a2.95 2.95 0 1 0 -5.9 0M273.61 239.79a2.95 2.95 0 1 0 5.9 0a2.95 2.95 0 1 0 -5.9 0M276.74 235.68a2.95 2.95 0 1 0 5.9 0a2.95 2.95 0 1 0 -5.9 0M278.3 243.91a2.95 2.95 0 1 0 5.9 0a2.95 2.95 0 1 0 -5.9 0M282.99 243.91a2.95 2.95 0 1 0 5.9 0a2.95 2.95 0 1 0 -5.9 0M286.11 243.91a2.95 2.95 0 1 0 5.9 0a2.95 2.95 0 1 0 -5.9 0M287.68 256.26a2.95 2.95 0 1 0 5.9 0a2.95 2.95 0 1 0 -5.9 0M289.24 235.68a2.95 2.95 0 1 0 5.9 0a2.95 2.95 0 1 0 -5.9 0M292.36 239.79a2.95 2.95 0 1 0 5.9 0a2.95 2.95 0 1 0 -5.9 0M297.05 239.79a2.95 2.95 0 1 0 5.9 0a2.95 2.95 0 1 0 -5.9 0M298.61 248.03a2.95 2.95 0 1 0 5.9 0a2.95 2.95 0 1 0 -5.9 0M301.74 243.91a2.95 2.95 0 1 0 5.9 0a2.95 2.95 0 1 0 -5.9 0M303.3 235.68a2.95 2.95 0 1 0 5.9 0a2.95 2.95 0 1 0 -5.9 0M307.21 239.79a2.95 2.95 0 1 0 5.9 0a2.95 2.95 0 1 0 -5.9 0M311.11 235.68a2.95 2.95 0 1 0 5.9 0a2.95 2.95 0 1 0 -5.9 0M314.24 239.79a2.95 2.95 0 1 0 5.9 0a2.95 2.95 0 1 0 -5.9 0M315.8 243.91a2.95 2.95 0 1 0 5.9 0a2.95 2.95 0 1 0 -5.9 0M318.93 248.03a2.95 2.95 0 1 0 5.9 0a2.95 2.95 0 1 0 -5.9 0M322.05 252.14a2.95 2.95 0 1 0 5.9 0a2.95 2.95 0 1 0 -5.9 0M323.61 256.26a2.95 2.95 0 1 0 5.9 0a2.95 2.95 0 1 0 -5.9 0M328.3 248.03a2.95 2.95 0 1 0 5.9 0a2.95 2.95 0 1 0 -5.9 0M331.43 248.03a2.95 2.95 0 1 0 5.9 0a2.95 2.95 0 1 0 -5.9 0M332.99 256.26a2.95 2.95 0 1 0 5.9 0a2.95 2.95 0 1 0 -5.9 0M334.55 252.14a2.95 2.95 0 1 0 5.9 0a2.95 2.95 0 1 0 -5.9 0M336.11 231.56a2.95 2.95 0 1 0 5.9 0a2.95 2.95 0 1 0 -5.9 0M339.24 235.68a2.95 2.95 0 1 0 5.9 0a2.95 2.95 0 1 0 -5.9 0M340.8 239.79a2.95 2.95 0 1 0 5.9 0a2.95 2.95 0 1 0 -5.9 0M345.49 239.79a2.95 2.95 0 1 0 5.9 0a2.95 2.95 0 1 0 -5.9 0M348.61 243.91a2.95 2.95 0 1 0 5.9 0a2.95 2.95 0 1 0 -5.9 0M350.18 248.03a2.95 2.95 0 1 0 5.9 0a2.95 2.95 0 1 0 -5.9 0M353.3 239.79a2.95 2.95 0 1 0 5.9 0a2.95 2.95 0 1 0 -5.9 0M356.43 235.68a2.95 2.95 0 1 0 5.9 0a2.95 2.95 0 1 0 -5.9 0M357.99 243.91a2.95 2.95 0 1 0 5.9 0a2.95 2.95 0 1 0 -5.9 0M360.18 235.68a2.95 2.95 0 1 0 5.9 0a2.95 2.95 0 1 0 -5.9 0M362.52 243.91a2.95 2.95 0 1 0 5.9 0a2.95 2.95 0 1 0 -5.9 0M364.08 252.14a2.95 2.95 0 1 0 5.9 0a2.95 2.95 0 1 0 -5.9 0M366.43 256.26a2.95 2.95 0 1 0 5.9 0a2.95 2.95 0 1 0 -5.9 0M369.55 256.26a2.95 2.95 0 1 0 5.9 0a2.95 2.95 0 1 0 -5.9 0M372.68 252.14a2.95 2.95 0 1 0 5.9 0a2.95 2.95 0 1 0 -5.9 0M375.8 252.14a2.95 2.95 0 1 0 5.9 0a2.95 2.95 0 1 0 -5.9 0M378.93 252.14a2.95 2.95 0 1 0 5.9 0a2.95 2.95 0 1 0 -5.9 0M381.27 256.26a2.95 2.95 0 1 0 5.9 0a2.95 2.95 0 1 0 -5.9 0M384.39 252.14a2.95 2.95 0 1 0 5.9 0a2.95 2.95 0 1 0 -5.9 0M385.96 248.03a2.95 2.95 0 1 0 5.9 0a2.95 2.95 0 1 0 -5.9 0M387.52 243.91a2.95 2.95 0 1 0 5.9 0a2.95 2.95 0 1 0 -5.9 0M389.08 235.68a2.95 2.95 0 1 0 5.9 0a2.95 2.95 0 1 0 -5.9 0M390.64 231.56a2.95 2.95 0 1 0 5.9 0a2.95 2.95 0 1 0 -5.9 0M392.21 227.45a2.95 2.95 0 1 0 5.9 0a2.95 2.95 0 1 0 -5.9 0M394.55 235.68a2.95 2.95 0 1 0 5.9 0a2.95 2.95 0 1 0 -5.9 0M396.11 239.79a2.95 2.95 0 1 0 5.9 0a2.95 2.95 0 1 0 -5.9 0M398.46 231.56a2.95 2.95 0 1 0 5.9 0a2.95 2.95 0 1 0 -5.9 0M400.02 227.45a2.95 2.95 0 1 0 5.9 0a2.95 2.95 0 1 0 -5.9 0M402.36 227.45a2.95 2.95 0 1 0 5.9 0a2.95 2.95 0 1 0 -5.9 0M403.93 215.1a2.95 2.95 0 1 0 5.9 0a2.95 2.95 0 1 0 -5.9 0M405.49 223.33a2.95 2.95 0 1 0 5.9 0a2.95 2.95 0 1 0 -5.9 0M407.83 231.56a2.95 2.95 0 1 0 5.9 0a2.95 2.95 0 1 0 -5.9 0M408.61 219.22a2.95 2.95 0 1 0 5.9 0a2.95 2.95 0 1 0 -5.9 0M410.96 219.22a2.95 2.95 0 1 0 5.9 0a2.95 2.95 0 1 0 -5.9 0M413.3 206.87a2.95 2.95 0 1 0 5.9 0a2.95 2.95 0 1 0 -5.9 0M414.86 198.65a2.95 2.95 0 1 0 5.9 0a2.95 2.95 0 1 0 -5.9 0M416.43 215.1a2.95 2.95 0 1 0 5.9 0a2.95 2.95 0 1 0 -5.9 0M417.21 206.87a2.95 2.95 0 1 0 5.9 0a2.95 2.95 0 1 0 -5.9 0M419.55 206.87a2.95 2.95 0 1 0 5.9 0a2.95 2.95 0 1 0 -5.9 0M421.89 202.76a2.95 2.95 0 1 0 5.9 0a2.95 2.95 0 1 0 -5.9 0M423.46 194.53a2.95 2.95 0 1 0 5.9 0a2.95 2.95 0 1 0 -5.9 0M425.02 178.07a2.95 2.95 0 1 0 5.9 0a2.95 2.95 0 1 0 -5.9 0M426.58 169.84a2.95 2.95 0 1 0 5.9 0a2.95 2.95 0 1 0 -5.9 0M428.93 157.49a2.95 2.95 0 1 0 5.9 0a2.95 2.95 0 1 0 -5.9 0M432.05 161.61a2.95 2.95 0 1 0 5.9 0a2.95 2.95 0 1 0 -5.9 0M433.61 161.61a2.95 2.95 0 1 0 5.9 0a2.95 2.95 0 1 0 -5.9 0M435.18 153.38a2.95 2.95 0 1 0 5.9 0a2.95 2.95 0 1 0 -5.9 0M437.52 165.72a2.95 2.95 0 1 0 5.9 0a2.95 2.95 0 1 0 -5.9 0M439.08 153.38a2.95 2.95 0 1 0 5.9 0a2.95 2.95 0 1 0 -5.9 0M441.43 165.72a2.95 2.95 0 1 0 5.9 0a2.95 2.95 0 1 0 -5.9 0M442.99 169.84a2.95 2.95 0 1 0 5.9 0a2.95 2.95 0 1 0 -5.9 0M444.24 132.81a2.95 2.95 0 1 0 5.9 0a2.95 2.95 0 1 0 -5.9 0M445.8 128.69a2.95 2.95 0 1 0 5.9 0a2.95 2.95 0 1 0 -5.9 0M447.36 104a2.95 2.95 0 1 0 5.9 0a2.95 2.95 0 1 0 -5.9 0M450.49 108.11a2.95 2.95 0 1 0 5.9 0a2.95 2.95 0 1 0 -5.9 0M452.05 99.88a2.95 2.95 0 1 0 5.9 0a2.95 2.95 0 1 0 -5.9 0M455.18 95.77a2.95 2.95 0 1 0 5.9 0a2.95 2.95 0 1 0 -5.9 0M458.3 104a2.95 2.95 0 1 0 5.9 0a2.95 2.95 0 1 0 -5.9 0M459.86 116.34a2.95 2.95 0 1 0 5.9 0a2.95 2.95 0 1 0 -5.9 0M461.43 108.11a2.95 2.95 0 1 0 5.9 0a2.95 2.95 0 1 0 -5.9 0M462.99 128.69a2.95 2.95 0 1 0 5.9 0a2.95 2.95 0 1 0 -5.9 0M465.33 108.11a2.95 2.95 0 1 0 5.9 0a2.95 2.95 0 1 0 -5.9 0M467.68 132.81a2.95 2.95 0 1 0 5.9 0a2.95 2.95 0 1 0 -5.9 0M470.33 153.38a2.95 2.95 0 1 0 5.9 0a2.95 2.95 0 1 0 -5.9 0M472.36 128.69a2.95 2.95 0 1 0 5.9 0a2.95 2.95 0 1 0 -5.9 0M474.24 145.15a2.95 2.95 0 1 0 5.9 0a2.95 2.95 0 1 0 -5.9 0M476.58 145.15a2.95 2.95 0 1 0 5.9 0a2.95 2.95 0 1 0 -5.9 0M478.61 132.81a2.95 2.95 0 1 0 5.9 0a2.95 2.95 0 1 0 -5.9 0M480.96 116.34a2.95 2.95 0 1 0 5.9 0a2.95 2.95 0 1 0 -5.9 0M483.3 124.58a2.95 2.95 0 1 0 5.9 0a2.95 2.95 0 1 0 -5.9 0M485.64 136.92a2.95 2.95 0 1 0 5.9 0a2.95 2.95 0 1 0 -5.9 0M487.99 120.46a2.95 2.95 0 1 0 5.9 0a2.95 2.95 0 1 0 -5.9 0M489.55 128.69a2.95 2.95 0 1 0 5.9 0a2.95 2.95 0 1 0 -5.9 0M491.11 95.77a2.95 2.95 0 1 0 5.9 0a2.95 2.95 0 1 0 -5.9 0M492.68 112.23a2.95 2.95 0 1 0 5.9 0a2.95 2.95 0 1 0 -5.9 0M495.8 99.88a2.95 2.95 0 1 0 5.9 0a2.95 2.95 0 1 0 -5.9 0M496.58 108.11a2.95 2.95 0 1 0 5.9 0a2.95 2.95 0 1 0 -5.9 0M499.71 99.88a2.95 2.95 0 1 0 5.9 0a2.95 2.95 0 1 0 -5.9 0M501.27 108.11a2.95 2.95 0 1 0 5.9 0a2.95 2.95 0 1 0 -5.9 0M502.05 104a2.95 2.95 0 1 0 5.9 0a2.95 2.95 0 1 0 -5.9 0M505.18 108.11a2.95 2.95 0 1 0 5.9 0a2.95 2.95 0 1 0 -5.9 0M505.18 128.69a2.95 2.95 0 1 0 5.9 0a2.95 2.95 0 1 0 -5.9 0M509.08 112.23a2.95 2.95 0 1 0 5.9 0a2.95 2.95 0 1 0 -5.9 0M510.64 95.77a2.95 2.95 0 1 0 5.9 0a2.95 2.95 0 1 0 -5.9 0M513.77 120.46a2.95 2.95 0 1 0 5.9 0a2.95 2.95 0 1 0 -5.9 0M515.33 91.66a2.95 2.95 0 1 0 5.9 0a2.95 2.95 0 1 0 -5.9 0M515.33 99.88a2.95 2.95 0 1 0 5.9 0a2.95 2.95 0 1 0 -5.9 0M517.67 99.88a2.95 2.95 0 1 0 5.9 0a2.95 2.95 0 1 0 -5.9 0M519.24 87.54a2.95 2.95 0 1 0 5.9 0a2.95 2.95 0 1 0 -5.9 0M520.8 104a2.95 2.95 0 1 0 5.9 0a2.95 2.95 0 1 0 -5.9 0M522.36 112.23a2.95 2.95 0 1 0 5.9 0a2.95 2.95 0 1 0 -5.9 0M524.71 91.66a2.95 2.95 0 1 0 5.9 0a2.95 2.95 0 1 0 -5.9 0M525.49 116.34a2.95 2.95 0 1 0 5.9 0a2.95 2.95 0 1 0 -5.9 0M527.83 112.23a2.95 2.95 0 1 0 5.9 0a2.95 2.95 0 1 0 -5.9 0M529.39 136.92a2.95 2.95 0 1 0 5.9 0a2.95 2.95 0 1 0 -5.9 0M531.74 128.69a2.95 2.95 0 1 0 5.9 0a2.95 2.95 0 1 0 -5.9 0M534.86 136.92a2.95 2.95 0 1 0 5.9 0a2.95 2.95 0 1 0 -5.9 0M536.42 141.03a2.95 2.95 0 1 0 5.9 0a2.95 2.95 0 1 0 -5.9 0M537.67 145.15a2.95 2.95 0 1 0 5.9 0a2.95 2.95 0 1 0 -5.9 0M538.46 157.49a2.95 2.95 0 1 0 5.9 0a2.95 2.95 0 1 0 -5.9 0M541.58 145.15a2.95 2.95 0 1 0 5.9 0a2.95 2.95 0 1 0 -5.9 0M543.46 136.92a2.95 2.95 0 1 0 5.9 0a2.95 2.95 0 1 0 -5.9 0M544.71 161.61a2.95 2.95 0 1 0 5.9 0a2.95 2.95 0 1 0 -5.9 0M547.05 157.49a2.95 2.95 0 1 0 5.9 0a2.95 2.95 0 1 0 -5.9 0M548.61 165.72a2.95 2.95 0 1 0 5.9 0a2.95 2.95 0 1 0 -5.9 0M550.17 149.27a2.95 2.95 0 1 0 5.9 0a2.95 2.95 0 1 0 -5.9 0M552.52 157.49a2.95 2.95 0 1 0 5.9 0a2.95 2.95 0 1 0 -5.9 0M554.08 173.95a2.95 2.95 0 1 0 5.9 0a2.95 2.95 0 1 0 -5.9 0M555.64 190.41a2.95 2.95 0 1 0 5.9 0a2.95 2.95 0 1 0 -5.9 0M558.77 178.07a2.95 2.95 0 1 0 5.9 0a2.95 2.95 0 1 0 -5.9 0M561.11 190.41a2.95 2.95 0 1 0 5.9 0a2.95 2.95 0 1 0 -5.9 0M562.67 194.53a2.95 2.95 0 1 0 5.9 0a2.95 2.95 0 1 0 -5.9 0M564.24 165.72a2.95 2.95 0 1 0 5.9 0a2.95 2.95 0 1 0 -5.9 0M565.8 178.07a2.95 2.95 0 1 0 5.9 0a2.95 2.95 0 1 0 -5.9 0M568.14 186.3a2.95 2.95 0 1 0 5.9 0a2.95 2.95 0 1 0 -5.9 0M569.71 178.07a2.95 2.95 0 1 0 5.9 0a2.95 2.95 0 1 0 -5.9 0M572.05 165.72a2.95 2.95 0 1 0 5.9 0a2.95 2.95 0 1 0 -5.9 0M572.83 161.61a2.95 2.95 0 1 0 5.9 0a2.95 2.95 0 1 0 -5.9 0M575.17 169.84a2.95 2.95 0 1 0 5.9 0a2.95 2.95 0 1 0 -5.9 0M577.52 178.07a2.95 2.95 0 1 0 5.9 0a2.95 2.95 0 1 0 -5.9 0M578.3 173.95a2.95 2.95 0 1 0 5.9 0a2.95 2.95 0 1 0 -5.9 0M582.21 169.84a2.95 2.95 0 1 0 5.9 0a2.95 2.95 0 1 0 -5.9 0M586.11 173.95a2.95 2.95 0 1 0 5.9 0a2.95 2.95 0 1 0 -5.9 0M588.46 165.72a2.95 2.95 0 1 0 5.9 0a2.95 2.95 0 1 0 -5.9 0M590.8 145.15a2.95 2.95 0 1 0 5.9 0a2.95 2.95 0 1 0 -5.9 0M592.36 153.38a2.95 2.95 0 1 0 5.9 0a2.95 2.95 0 1 0 -5.9 0M593.92 128.69a2.95 2.95 0 1 0 5.9 0a2.95 2.95 0 1 0 -5.9 0M598.61 149.27a2.95 2.95 0 1 0 5.9 0a2.95 2.95 0 1 0 -5.9 0M599.39 136.92a2.95 2.95 0 1 0 5.9 0a2.95 2.95 0 1 0 -5.9 0M601.74 128.69a2.95 2.95 0 1 0 5.9 0a2.95 2.95 0 1 0 -5.9 0M602.52 99.88a2.95 2.95 0 1 0 5.9 0a2.95 2.95 0 1 0 -5.9 0M606.42 124.58a2.95 2.95 0 1 0 5.9 0a2.95 2.95 0 1 0 -5.9 0M609.55 136.92a2.95 2.95 0 1 0 5.9 0a2.95 2.95 0 1 0 -5.9 0M612.67 136.92a2.95 2.95 0 1 0 5.9 0a2.95 2.95 0 1 0 -5.9 0M616.58 141.03a2.95 2.95 0 1 0 5.9 0a2.95 2.95 0 1 0 -5.9 0M620.49 136.92a2.95 2.95 0 1 0 5.9 0a2.95 2.95 0 1 0 -5.9 0M622.05 128.69a2.95 2.95 0 1 0 5.9 0a2.95 2.95 0 1 0 -5.9 0M624.39 136.92a2.95 2.95 0 1 0 5.9 0a2.95 2.95 0 1 0 -5.9 0M625.17 149.27a2.95 2.95 0 1 0 5.9 0a2.95 2.95 0 1 0 -5.9 0M628.3 141.03a2.95 2.95 0 1 0 5.9 0a2.95 2.95 0 1 0 -5.9 0M631.42 128.69a2.95 2.95 0 1 0 5.9 0a2.95 2.95 0 1 0 -5.9 0M633.77 136.92a2.95 2.95 0 1 0 5.9 0a2.95 2.95 0 1 0 -5.9 0M635.33 186.3a2.95 2.95 0 1 0 5.9 0a2.95 2.95 0 1 0 -5.9 0M637.67 194.53a2.95 2.95 0 1 0 5.9 0a2.95 2.95 0 1 0 -5.9 0M639.24 198.65a2.95 2.95 0 1 0 5.9 0a2.95 2.95 0 1 0 -5.9 0M641.58 190.41a2.95 2.95 0 1 0 5.9 0a2.95 2.95 0 1 0 -5.9 0M643.92 202.76a2.95 2.95 0 1 0 5.9 0a2.95 2.95 0 1 0 -5.9 0M646.27 190.41a2.95 2.95 0 1 0 5.9 0a2.95 2.95 0 1 0 -5.9 0M647.83 206.87a2.95 2.95 0 1 0 5.9 0a2.95 2.95 0 1 0 -5.9 0M649.39 194.53a2.95 2.95 0 1 0 5.9 0a2.95 2.95 0 1 0 -5.9 0M651.74 210.99a2.95 2.95 0 1 0 5.9 0a2.95 2.95 0 1 0 -5.9 0M653.3 198.65a2.95 2.95 0 1 0 5.9 0a2.95 2.95 0 1 0 -5.9 0M654.86 206.87a2.95 2.95 0 1 0 5.9 0a2.95 2.95 0 1 0 -5.9 0M657.36 227.45a2.95 2.95 0 1 0 5.9 0a2.95 2.95 0 1 0 -5.9 0M660.49 235.68a2.95 2.95 0 1 0 5.9 0a2.95 2.95 0 1 0 -5.9 0M661.27 231.56a2.95 2.95 0 1 0 5.9 0a2.95 2.95 0 1 0 -5.9 0M664.39 235.68a2.95 2.95 0 1 0 5.9 0a2.95 2.95 0 1 0 -5.9 0M665.17 239.79a2.95 2.95 0 1 0 5.9 0a2.95 2.95 0 1 0 -5.9 0M669.86 239.79a2.95 2.95 0 1 0 5.9 0a2.95 2.95 0 1 0 -5.9 0M670.64 248.03a2.95 2.95 0 1 0 5.9 0a2.95 2.95 0 1 0 -5.9 0M672.99 239.79a2.95 2.95 0 1 0 5.9 0a2.95 2.95 0 1 0 -5.9 0M674.55 248.03a2.95 2.95 0 1 0 5.9 0a2.95 2.95 0 1 0 -5.9 0M676.11 231.56a2.95 2.95 0 1 0 5.9 0a2.95 2.95 0 1 0 -5.9 0M677.67 235.68a2.95 2.95 0 1 0 5.9 0a2.95 2.95 0 1 0 -5.9 0M679.24 243.91a2.95 2.95 0 1 0 5.9 0a2.95 2.95 0 1 0 -5.9 0M680.8 248.03a2.95 2.95 0 1 0 5.9 0a2.95 2.95 0 1 0 -5.9 0M682.36 243.91a2.95 2.95 0 1 0 5.9 0a2.95 2.95 0 1 0 -5.9 0M685.49 256.26a2.95 2.95 0 1 0 5.9 0a2.95 2.95 0 1 0 -5.9 0M687.83 252.14a2.95 2.95 0 1 0 5.9 0a2.95 2.95 0 1 0 -5.9 0M691.74 252.14a2.95 2.95 0 1 0 5.9 0a2.95 2.95 0 1 0 -5.9 0M693.3 260.37a2.95 2.95 0 1 0 5.9 0a2.95 2.95 0 1 0 -5.9 0M695.64 248.03a2.95 2.95 0 1 0 5.9 0a2.95 2.95 0 1 0 -5.9 0M696.42 243.91a2.95 2.95 0 1 0 5.9 0a2.95 2.95 0 1 0 -5.9 0M699.55 223.33a2.95 2.95 0 1 0 5.9 0a2.95 2.95 0 1 0 -5.9 0M701.74 206.87a2.95 2.95 0 1 0 5.9 0a2.95 2.95 0 1 0 -5.9 0M704.86 210.99a2.95 2.95 0 1 0 5.9 0a2.95 2.95 0 1 0 -5.9 0M706.42 206.87a2.95 2.95 0 1 0 5.9 0a2.95 2.95 0 1 0 -5.9 0M708.77 194.53a2.95 2.95 0 1 0 5.9 0a2.95 2.95 0 1 0 -5.9 0M710.33 190.41a2.95 2.95 0 1 0 5.9 0a2.95 2.95 0 1 0 -5.9 0M712.67 186.3a2.95 2.95 0 1 0 5.9 0a2.95 2.95 0 1 0 -5.9 0M713.46 194.53a2.95 2.95 0 1 0 5.9 0a2.95 2.95 0 1 0 -5.9 0M716.58 173.95a2.95 2.95 0 1 0 5.9 0a2.95 2.95 0 1 0 -5.9 0M720.49 169.84a2.95 2.95 0 1 0 5.9 0a2.95 2.95 0 1 0 -5.9 0M720.49 178.07a2.95 2.95 0 1 0 5.9 0a2.95 2.95 0 1 0 -5.9 0M725.96 169.84a2.95 2.95 0 1 0 5.9 0a2.95 2.95 0 1 0 -5.9 0M728.3 178.07a2.95 2.95 0 1 0 5.9 0a2.95 2.95 0 1 0 -5.9 0M729.86 190.41a2.95 2.95 0 1 0 5.9 0a2.95 2.95 0 1 0 -5.9 0M732.99 182.19a2.95 2.95 0 1 0 5.9 0a2.95 2.95 0 1 0 -5.9 0M735.33 194.53a2.95 2.95 0 1 0 5.9 0a2.95 2.95 0 1 0 -5.9 0M737.05 194.53a2.95 2.95 0 1 0 5.9 0a2.95 2.95 0 1 0 -5.9 0M740.17 190.41a2.95 2.95 0 1 0 5.9 0a2.95 2.95 0 1 0 -5.9 0M741.74 202.76a2.95 2.95 0 1 0 5.9 0a2.95 2.95 0 1 0 -5.9 0M743.3 198.65a2.95 2.95 0 1 0 5.9 0a2.95 2.95 0 1 0 -5.9 0M746.42 206.87a2.95 2.95 0 1 0 5.9 0a2.95 2.95 0 1 0 -5.9 0M748.77 219.22a2.95 2.95 0 1 0 5.9 0a2.95 2.95 0 1 0 -5.9 0M749.55 210.99a2.95 2.95 0 1 0 5.9 0a2.95 2.95 0 1 0 -5.9 0M752.67 223.33a2.95 2.95 0 1 0 5.9 0a2.95 2.95 0 1 0 -5.9 0M755.8 223.33a2.95 2.95 0 1 0 5.9 0a2.95 2.95 0 1 0 -5.9 0M757.36 239.79a2.95 2.95 0 1 0 5.9 0a2.95 2.95 0 1 0 -5.9 0M758.92 235.68a2.95 2.95 0 1 0 5.9 0a2.95 2.95 0 1 0 -5.9 0M762.05 235.68a2.95 2.95 0 1 0 5.9 0a2.95 2.95 0 1 0 -5.9 0M765.17 239.79a2.95 2.95 0 1 0 5.9 0a2.95 2.95 0 1 0 -5.9 0M769.08 243.91a2.95 2.95 0 1 0 5.9 0a2.95 2.95 0 1 0 -5.9 0M771.42 248.03a2.95 2.95 0 1 0 5.9 0a2.95 2.95 0 1 0 -5.9 0M775.33 243.91a2.95 2.95 0 1 0 5.9 0a2.95 2.95 0 1 0 -5.9 0M775.33 252.14a2.95 2.95 0 1 0 5.9 0a2.95 2.95 0 1 0 -5.9 0M777.67 243.91a2.95 2.95 0 1 0 5.9 0a2.95 2.95 0 1 0 -5.9 0M779.24 252.14a2.95 2.95 0 1 0 5.9 0a2.95 2.95 0 1 0 -5.9 0M782.36 252.14a2.95 2.95 0 1 0 5.9 0a2.95 2.95 0 1 0 -5.9 0M783.92 256.26a2.95 2.95 0 1 0 5.9 0a2.95 2.95 0 1 0 -5.9 0M785.49 260.37a2.95 2.95 0 1 0 5.9 0a2.95 2.95 0 1 0 -5.9 0M787.05 252.14a2.95 2.95 0 1 0 5.9 0a2.95 2.95 0 1 0 -5.9 0M788.61 260.37a2.95 2.95 0 1 0 5.9 0a2.95 2.95 0 1 0 -5.9 0M790.96 268.6a2.95 2.95 0 1 0 5.9 0a2.95 2.95 0 1 0 -5.9 0M792.52 248.03a2.95 2.95 0 1 0 5.9 0a2.95 2.95 0 1 0 -5.9 0M794.86 252.14a2.95 2.95 0 1 0 5.9 0a2.95 2.95 0 1 0 -5.9 0M797.99 227.45a2.95 2.95 0 1 0 5.9 0a2.95 2.95 0 1 0 -5.9 0M797.99 231.56a2.95 2.95 0 1 0 5.9 0a2.95 2.95 0 1 0 -5.9 0M801.11 215.1a2.95 2.95 0 1 0 5.9 0a2.95 2.95 0 1 0 -5.9 0M802.67 231.56a2.95 2.95 0 1 0 5.9 0a2.95 2.95 0 1 0 -5.9 0M805.02 223.33a2.95 2.95 0 1 0 5.9 0a2.95 2.95 0 1 0 -5.9 0M806.58 231.56a2.95 2.95 0 1 0 5.9 0a2.95 2.95 0 1 0 -5.9 0M808.92 223.33a2.95 2.95 0 1 0 5.9 0a2.95 2.95 0 1 0 -5.9 0M810.49 227.45a2.95 2.95 0 1 0 5.9 0a2.95 2.95 0 1 0 -5.9 0M812.83 223.33a2.95 2.95 0 1 0 5.9 0a2.95 2.95 0 1 0 -5.9 0M815.17 227.45a2.95 2.95 0 1 0 5.9 0a2.95 2.95 0 1 0 -5.9 0M816.74 235.68a2.95 2.95 0 1 0 5.9 0a2.95 2.95 0 1 0 -5.9 0M819.86 227.45a2.95 2.95 0 1 0 5.9 0a2.95 2.95 0 1 0 -5.9 0M822.21 239.79a2.95 2.95 0 1 0 5.9 0a2.95 2.95 0 1 0 -5.9 0M823.77 248.03a2.95 2.95 0 1 0 5.9 0a2.95 2.95 0 1 0 -5.9 0M826.11 235.68a2.95 2.95 0 1 0 5.9 0a2.95 2.95 0 1 0 -5.9 0M827.67 243.91a2.95 2.95 0 1 0 5.9 0a2.95 2.95 0 1 0 -5.9 0M829.24 235.68a2.95 2.95 0 1 0 5.9 0a2.95 2.95 0 1 0 -5.9 0M831.58 243.91a2.95 2.95 0 1 0 5.9 0a2.95 2.95 0 1 0 -5.9 0M833.92 252.14a2.95 2.95 0 1 0 5.9 0a2.95 2.95 0 1 0 -5.9 0M835.49 243.91a2.95 2.95 0 1 0 5.9 0a2.95 2.95 0 1 0 -5.9 0M837.83 252.14a2.95 2.95 0 1 0 5.9 0a2.95 2.95 0 1 0 -5.9 0M841.74 252.14a2.95 2.95 0 1 0 5.9 0a2.95 2.95 0 1 0 -5.9 0M843.3 239.79a2.95 2.95 0 1 0 5.9 0a2.95 2.95 0 1 0 -5.9 0M846.42 248.03a2.95 2.95 0 1 0 5.9 0a2.95 2.95 0 1 0 -5.9 0M848.77 243.91a2.95 2.95 0 1 0 5.9 0a2.95 2.95 0 1 0 -5.9 0M851.11 231.56a2.95 2.95 0 1 0 5.9 0a2.95 2.95 0 1 0 -5.9 0M855.02 235.68a2.95 2.95 0 1 0 5.9 0a2.95 2.95 0 1 0 -5.9 0M856.58 227.45a2.95 2.95 0 1 0 5.9 0a2.95 2.95 0 1 0 -5.9 0M858.14 239.79a2.95 2.95 0 1 0 5.9 0a2.95 2.95 0 1 0 -5.9 0M860.49 206.87a2.95 2.95 0 1 0 5.9 0a2.95 2.95 0 1 0 -5.9 0M861.27 243.91a2.95 2.95 0 1 0 5.9 0a2.95 2.95 0 1 0 -5.9 0M863.61 239.79a2.95 2.95 0 1 0 5.9 0a2.95 2.95 0 1 0 -5.9 0M865.17 235.68a2.95 2.95 0 1 0 5.9 0a2.95 2.95 0 1 0 -5.9 0M867.52 215.1a2.95 2.95 0 1 0 5.9 0a2.95 2.95 0 1 0 -5.9 0M869.08 231.56a2.95 2.95 0 1 0 5.9 0a2.95 2.95 0 1 0 -5.9 0M870.64 227.45a2.95 2.95 0 1 0 5.9 0a2.95 2.95 0 1 0 -5.9 0M176.05 178.07a2.95 2.95 0 1 0 5.9 0a2.95 2.95 0 1 0 -5.9 0M202.51 153.38a2.95 2.95 0 1 0 5.9 0a2.95 2.95 0 1 0 -5.9 0M219.35 169.84a2.95 2.95 0 1 0 5.9 0a2.95 2.95 0 1 0 -5.9 0M280.64 243.91a2.95 2.95 0 1 0 5.9 0a2.95 2.95 0 1 0 -5.9 0M294.71 239.79a2.95 2.95 0 1 0 5.9 0a2.95 2.95 0 1 0 -5.9 0M343.14 239.79a2.95 2.95 0 1 0 5.9 0a2.95 2.95 0 1 0 -5.9 0M667.52 239.79a2.95 2.95 0 1 0 5.9 0a2.95 2.95 0 1 0 -5.9 0M689.78 252.14a2.95 2.95 0 1 0 5.9 0a2.95 2.95 0 1 0 -5.9 0M839.78 252.14a2.95 2.95 0 1 0 5.9 0a2.95 2.95 0 1 0 -5.9 0" fill="#d7b763" clip-path="url(#ca)"/>
<path d="M91.61 670.31a2.95 2.95 0 1 0 5.9 0a2.95 2.95 0 1 0 -5.9 0M92.39 600a2.95 2.95 0 1 0 5.9 0a2.95 2.95 0 1 0 -5.9 0M93.17 621.88a2.95 2.95 0 1 0 5.9 0a2.95 2.95 0 1 0 -5.9 0M94.74 641.41a2.95 2.95 0 1 0 5.9 0a2.95 2.95 0 1 0 -5.9 0M96.3 651.56a2.95 2.95 0 1 0 5.9 0a2.95 2.95 0 1 0 -5.9 0M98.64 661.72a2.95 2.95 0 1 0 5.9 0a2.95 2.95 0 1 0 -5.9 0M100.21 665.62a2.95 2.95 0 1 0 5.9 0a2.95 2.95 0 1 0 -5.9 0M101.77 648.44a2.95 2.95 0 1 0 5.9 0a2.95 2.95 0 1 0 -5.9 0M104.11 650a2.95 2.95 0 1 0 5.9 0a2.95 2.95 0 1 0 -5.9 0M105.67 649.22a2.95 2.95 0 1 0 5.9 0a2.95 2.95 0 1 0 -5.9 0M107.24 660.94a2.95 2.95 0 1 0 5.9 0a2.95 2.95 0 1 0 -5.9 0M108.8 657.81a2.95 2.95 0 1 0 5.9 0a2.95 2.95 0 1 0 -5.9 0M110.36 646.09a2.95 2.95 0 1 0 5.9 0a2.95 2.95 0 1 0 -5.9 0M112.71 640.62a2.95 2.95 0 1 0 5.9 0a2.95 2.95 0 1 0 -5.9 0M114.27 632.81a2.95 2.95 0 1 0 5.9 0a2.95 2.95 0 1 0 -5.9 0M115.83 620.31a2.95 2.95 0 1 0 5.9 0a2.95 2.95 0 1 0 -5.9 0M118.17 610.16a2.95 2.95 0 1 0 5.9 0a2.95 2.95 0 1 0 -5.9 0M118.96 607.81a2.95 2.95 0 1 0 5.9 0a2.95 2.95 0 1 0 -5.9 0M121.3 598.44a2.95 2.95 0 1 0 5.9 0a2.95 2.95 0 1 0 -5.9 0M122.08 582.03a2.95 2.95 0 1 0 5.9 0a2.95 2.95 0 1 0 -5.9 0M124.42 589.06a2.95 2.95 0 1 0 5.9 0a2.95 2.95 0 1 0 -5.9 0M129.11 585.94a2.95 2.95 0 1 0 5.9 0a2.95 2.95 0 1 0 -5.9 0M132.24 589.06a2.95 2.95 0 1 0 5.9 0a2.95 2.95 0 1 0 -5.9 0M134.58 591.41a2.95 2.95 0 1 0 5.9 0a2.95 2.95 0 1 0 -5.9 0M136.14 597.66a2.95 2.95 0 1 0 5.9 0a2.95 2.95 0 1 0 -5.9 0M136.93 595.31a2.95 2.95 0 1 0 5.9 0a2.95 2.95 0 1 0 -5.9 0M139.27 603.12a2.95 2.95 0 1 0 5.9 0a2.95 2.95 0 1 0 -5.9 0M142.39 577.34a2.95 2.95 0 1 0 5.9 0a2.95 2.95 0 1 0 -5.9 0M143.49 557.5a2.95 2.95 0 1 0 5.9 0a2.95 2.95 0 1 0 -5.9 0M145.52 570.31a2.95 2.95 0 1 0 5.9 0a2.95 2.95 0 1 0 -5.9 0M147.86 592.19a2.95 2.95 0 1 0 5.9 0a2.95 2.95 0 1 0 -5.9 0M150.99 583.59a2.95 2.95 0 1 0 5.9 0a2.95 2.95 0 1 0 -5.9 0M152.55 569.53a2.95 2.95 0 1 0 5.9 0a2.95 2.95 0 1 0 -5.9 0M154.11 572.66a2.95 2.95 0 1 0 5.9 0a2.95 2.95 0 1 0 -5.9 0M155.68 567.19a2.95 2.95 0 1 0 5.9 0a2.95 2.95 0 1 0 -5.9 0M157.24 580.47a2.95 2.95 0 1 0 5.9 0a2.95 2.95 0 1 0 -5.9 0M161.14 575.78a2.95 2.95 0 1 0 5.9 0a2.95 2.95 0 1 0 -5.9 0M164.27 565.62a2.95 2.95 0 1 0 5.9 0a2.95 2.95 0 1 0 -5.9 0M168.18 572.66a2.95 2.95 0 1 0 5.9 0a2.95 2.95 0 1 0 -5.9 0M169.74 583.59a2.95 2.95 0 1 0 5.9 0a2.95 2.95 0 1 0 -5.9 0M173.64 600a2.95 2.95 0 1 0 5.9 0a2.95 2.95 0 1 0 -5.9 0M175.21 574.22a2.95 2.95 0 1 0 5.9 0a2.95 2.95 0 1 0 -5.9 0M176.77 587.5a2.95 2.95 0 1 0 5.9 0a2.95 2.95 0 1 0 -5.9 0M179.11 582.81a2.95 2.95 0 1 0 5.9 0a2.95 2.95 0 1 0 -5.9 0M182.24 581.25a2.95 2.95 0 1 0 5.9 0a2.95 2.95 0 1 0 -5.9 0M183.8 574.22a2.95 2.95 0 1 0 5.9 0a2.95 2.95 0 1 0 -5.9 0M186.93 569.53a2.95 2.95 0 1 0 5.9 0a2.95 2.95 0 1 0 -5.9 0M188.49 572.66a2.95 2.95 0 1 0 5.9 0a2.95 2.95 0 1 0 -5.9 0M190.83 582.03a2.95 2.95 0 1 0 5.9 0a2.95 2.95 0 1 0 -5.9 0M191.61 565.62a2.95 2.95 0 1 0 5.9 0a2.95 2.95 0 1 0 -5.9 0M193.96 557.81a2.95 2.95 0 1 0 5.9 0a2.95 2.95 0 1 0 -5.9 0M196.3 553.12a2.95 2.95 0 1 0 5.9 0a2.95 2.95 0 1 0 -5.9 0M197.83 573.44a2.95 2.95 0 1 0 5.9 0a2.95 2.95 0 1 0 -5.9 0M199.39 544.53a2.95 2.95 0 1 0 5.9 0a2.95 2.95 0 1 0 -5.9 0M200.96 537.5a2.95 2.95 0 1 0 5.9 0a2.95 2.95 0 1 0 -5.9 0M202.52 525a2.95 2.95 0 1 0 5.9 0a2.95 2.95 0 1 0 -5.9 0M204.08 522.66a2.95 2.95 0 1 0 5.9 0a2.95 2.95 0 1 0 -5.9 0M206.43 492.19a2.95 2.95 0 1 0 5.9 0a2.95 2.95 0 1 0 -5.9 0M209.55 495.31a2.95 2.95 0 1 0 5.9 0a2.95 2.95 0 1 0 -5.9 0M212.68 485.16a2.95 2.95 0 1 0 5.9 0a2.95 2.95 0 1 0 -5.9 0M214.24 481.25a2.95 2.95 0 1 0 5.9 0a2.95 2.95 0 1 0 -5.9 0M216.58 466.41a2.95 2.95 0 1 0 5.9 0a2.95 2.95 0 1 0 -5.9 0M218.14 478.91a2.95 2.95 0 1 0 5.9 0a2.95 2.95 0 1 0 -5.9 0M221.27 475a2.95 2.95 0 1 0 5.9 0a2.95 2.95 0 1 0 -5.9 0M222.05 482.81a2.95 2.95 0 1 0 5.9 0a2.95 2.95 0 1 0 -5.9 0M224.39 484.38a2.95 2.95 0 1 0 5.9 0a2.95 2.95 0 1 0 -5.9 0M227.52 483.59a2.95 2.95 0 1 0 5.9 0a2.95 2.95 0 1 0 -5.9 0M228.3 498.44a2.95 2.95 0 1 0 5.9 0a2.95 2.95 0 1 0 -5.9 0M229.86 532.81a2.95 2.95 0 1 0 5.9 0a2.95 2.95 0 1 0 -5.9 0M232.21 521.88a2.95 2.95 0 1 0 5.9 0a2.95 2.95 0 1 0 -5.9 0M234.55 517.97a2.95 2.95 0 1 0 5.9 0a2.95 2.95 0 1 0 -5.9 0M236.11 511.72a2.95 2.95 0 1 0 5.9 0a2.95 2.95 0 1 0 -5.9 0M237.68 513.28a2.95 2.95 0 1 0 5.9 0a2.95 2.95 0 1 0 -5.9 0M239.24 501.56a2.95 2.95 0 1 0 5.9 0a2.95 2.95 0 1 0 -5.9 0M240.8 492.19a2.95 2.95 0 1 0 5.9 0a2.95 2.95 0 1 0 -5.9 0M243.93 489.06a2.95 2.95 0 1 0 5.9 0a2.95 2.95 0 1 0 -5.9 0M246.27 486.72a2.95 2.95 0 1 0 5.9 0a2.95 2.95 0 1 0 -5.9 0M247.83 503.12a2.95 2.95 0 1 0 5.9 0a2.95 2.95 0 1 0 -5.9 0M248.61 500a2.95 2.95 0 1 0 5.9 0a2.95 2.95 0 1 0 -5.9 0M250.96 496.09a2.95 2.95 0 1 0 5.9 0a2.95 2.95 0 1 0 -5.9 0M253.3 510.16a2.95 2.95 0 1 0 5.9 0a2.95 2.95 0 1 0 -5.9 0M254.86 511.72a2.95 2.95 0 1 0 5.9 0a2.95 2.95 0 1 0 -5.9 0M256.43 504.69a2.95 2.95 0 1 0 5.9 0a2.95 2.95 0 1 0 -5.9 0M261.11 504.69a2.95 2.95 0 1 0 5.9 0a2.95 2.95 0 1 0 -5.9 0M263.46 516.41a2.95 2.95 0 1 0 5.9 0a2.95 2.95 0 1 0 -5.9 0M265.8 506.25a2.95 2.95 0 1 0 5.9 0a2.95 2.95 0 1 0 -5.9 0M268.93 521.09a2.95 2.95 0 1 0 5.9 0a2.95 2.95 0 1 0 -5.9 0M270.49 498.44a2.95 2.95 0 1 0 5.9 0a2.95 2.95 0 1 0 -5.9 0M273.61 519.53a2.95 2.95 0 1 0 5.9 0a2.95 2.95 0 1 0 -5.9 0M274.39 500a2.95 2.95 0 1 0 5.9 0a2.95 2.95 0 1 0 -5.9 0M275.96 522.66a2.95 2.95 0 1 0 5.9 0a2.95 2.95 0 1 0 -5.9 0M277.52 518.75a2.95 2.95 0 1 0 5.9 0a2.95 2.95 0 1 0 -5.9 0M280.64 520.31a2.95 2.95 0 1 0 5.9 0a2.95 2.95 0 1 0 -5.9 0M282.21 549.22a2.95 2.95 0 1 0 5.9 0a2.95 2.95 0 1 0 -5.9 0M285.33 538.28a2.95 2.95 0 1 0 5.9 0a2.95 2.95 0 1 0 -5.9 0M286.89 540.62a2.95 2.95 0 1 0 5.9 0a2.95 2.95 0 1 0 -5.9 0M289.24 550a2.95 2.95 0 1 0 5.9 0a2.95 2.95 0 1 0 -5.9 0M290.8 547.66a2.95 2.95 0 1 0 5.9 0a2.95 2.95 0 1 0 -5.9 0M293.93 559.38a2.95 2.95 0 1 0 5.9 0a2.95 2.95 0 1 0 -5.9 0M295.49 528.12a2.95 2.95 0 1 0 5.9 0a2.95 2.95 0 1 0 -5.9 0M297.05 553.12a2.95 2.95 0 1 0 5.9 0a2.95 2.95 0 1 0 -5.9 0M298.61 562.5a2.95 2.95 0 1 0 5.9 0a2.95 2.95 0 1 0 -5.9 0M301.74 539.06a2.95 2.95 0 1 0 5.9 0a2.95 2.95 0 1 0 -5.9 0M305.64 539.06a2.95 2.95 0 1 0 5.9 0a2.95 2.95 0 1 0 -5.9 0M308.77 551.56a2.95 2.95 0 1 0 5.9 0a2.95 2.95 0 1 0 -5.9 0M314.24 556.25a2.95 2.95 0 1 0 5.9 0a2.95 2.95 0 1 0 -5.9 0M317.36 564.06a2.95 2.95 0 1 0 5.9 0a2.95 2.95 0 1 0 -5.9 0M324.39 562.5a2.95 2.95 0 1 0 5.9 0a2.95 2.95 0 1 0 -5.9 0M328.61 565.62a2.95 2.95 0 1 0 5.9 0a2.95 2.95 0 1 0 -5.9 0M331.74 567.19a2.95 2.95 0 1 0 5.9 0a2.95 2.95 0 1 0 -5.9 0M335.64 565.62a2.95 2.95 0 1 0 5.9 0a2.95 2.95 0 1 0 -5.9 0M340.33 549.69a2.95 2.95 0 1 0 5.9 0a2.95 2.95 0 1 0 -5.9 0M343.46 559.38a2.95 2.95 0 1 0 5.9 0a2.95 2.95 0 1 0 -5.9 0M345.8 569.53a2.95 2.95 0 1 0 5.9 0a2.95 2.95 0 1 0 -5.9 0M349.71 563.28a2.95 2.95 0 1 0 5.9 0a2.95 2.95 0 1 0 -5.9 0M350.49 559.38a2.95 2.95 0 1 0 5.9 0a2.95 2.95 0 1 0 -5.9 0M353.61 556.25a2.95 2.95 0 1 0 5.9 0a2.95 2.95 0 1 0 -5.9 0M355.96 568.75a2.95 2.95 0 1 0 5.9 0a2.95 2.95 0 1 0 -5.9 0M357.52 571.88a2.95 2.95 0 1 0 5.9 0a2.95 2.95 0 1 0 -5.9 0M359.86 578.91a2.95 2.95 0 1 0 5.9 0a2.95 2.95 0 1 0 -5.9 0M362.99 584.38a2.95 2.95 0 1 0 5.9 0a2.95 2.95 0 1 0 -5.9 0M366.11 571.88a2.95 2.95 0 1 0 5.9 0a2.95 2.95 0 1 0 -5.9 0M374.71 576.56a2.95 2.95 0 1 0 5.9 0a2.95 2.95 0 1 0 -5.9 0M374.71 587.5a2.95 2.95 0 1 0 5.9 0a2.95 2.95 0 1 0 -5.9 0M378.61 568.75a2.95 2.95 0 1 0 5.9 0a2.95 2.95 0 1 0 -5.9 0M383.3 574.22a2.95 2.95 0 1 0 5.9 0a2.95 2.95 0 1 0 -5.9 0M386.43 583.59a2.95 2.95 0 1 0 5.9 0a2.95 2.95 0 1 0 -5.9 0M387.21 613.75a2.95 2.95 0 1 0 5.9 0a2.95 2.95 0 1 0 -5.9 0M390.13 644.81a2.95 2.95 0 1 0 5.9 0a2.95 2.95 0 1 0 -5.9 0M393.01 643.37a2.95 2.95 0 1 0 5.9 0a2.95 2.95 0 1 0 -5.9 0M395.8 625a2.95 2.95 0 1 0 5.9 0a2.95 2.95 0 1 0 -5.9 0M398.93 618.75a2.95 2.95 0 1 0 5.9 0a2.95 2.95 0 1 0 -5.9 0M403.61 621.09a2.95 2.95 0 1 0 5.9 0a2.95 2.95 0 1 0 -5.9 0M406.74 615.62a2.95 2.95 0 1 0 5.9 0a2.95 2.95 0 1 0 -5.9 0M411.43 611.72a2.95 2.95 0 1 0 5.9 0a2.95 2.95 0 1 0 -5.9 0M414.55 607.81a2.95 2.95 0 1 0 5.9 0a2.95 2.95 0 1 0 -5.9 0M416.89 595.31a2.95 2.95 0 1 0 5.9 0a2.95 2.95 0 1 0 -5.9 0M420.8 592.19a2.95 2.95 0 1 0 5.9 0a2.95 2.95 0 1 0 -5.9 0M422.36 601.56a2.95 2.95 0 1 0 5.9 0a2.95 2.95 0 1 0 -5.9 0M423.93 589.84a2.95 2.95 0 1 0 5.9 0a2.95 2.95 0 1 0 -5.9 0M424.71 583.59a2.95 2.95 0 1 0 5.9 0a2.95 2.95 0 1 0 -5.9 0M427.05 574.22a2.95 2.95 0 1 0 5.9 0a2.95 2.95 0 1 0 -5.9 0M436.43 586.72a2.95 2.95 0 1 0 5.9 0a2.95 2.95 0 1 0 -5.9 0M437.99 592.19a2.95 2.95 0 1 0 5.9 0a2.95 2.95 0 1 0 -5.9 0M439.55 607.03a2.95 2.95 0 1 0 5.9 0a2.95 2.95 0 1 0 -5.9 0M441.11 600a2.95 2.95 0 1 0 5.9 0a2.95 2.95 0 1 0 -5.9 0M443.46 607.03a2.95 2.95 0 1 0 5.9 0a2.95 2.95 0 1 0 -5.9 0M445.8 592.97a2.95 2.95 0 1 0 5.9 0a2.95 2.95 0 1 0 -5.9 0M449.71 586.72a2.95 2.95 0 1 0 5.9 0a2.95 2.95 0 1 0 -5.9 0M452.05 581.25a2.95 2.95 0 1 0 5.9 0a2.95 2.95 0 1 0 -5.9 0M453.61 573.44a2.95 2.95 0 1 0 5.9 0a2.95 2.95 0 1 0 -5.9 0M455.18 568.75a2.95 2.95 0 1 0 5.9 0a2.95 2.95 0 1 0 -5.9 0M458.3 564.06a2.95 2.95 0 1 0 5.9 0a2.95 2.95 0 1 0 -5.9 0M461.74 553.91a2.95 2.95 0 1 0 5.9 0a2.95 2.95 0 1 0 -5.9 0M461.74 559.38a2.95 2.95 0 1 0 5.9 0a2.95 2.95 0 1 0 -5.9 0M464.86 553.91a2.95 2.95 0 1 0 5.9 0a2.95 2.95 0 1 0 -5.9 0M467.99 564.06a2.95 2.95 0 1 0 5.9 0a2.95 2.95 0 1 0 -5.9 0M471.11 557.81a2.95 2.95 0 1 0 5.9 0a2.95 2.95 0 1 0 -5.9 0M477.36 559.38a2.95 2.95 0 1 0 5.9 0a2.95 2.95 0 1 0 -5.9 0M478.93 570.31a2.95 2.95 0 1 0 5.9 0a2.95 2.95 0 1 0 -5.9 0M481.27 563.28a2.95 2.95 0 1 0 5.9 0a2.95 2.95 0 1 0 -5.9 0M482.83 571.88a2.95 2.95 0 1 0 5.9 0a2.95 2.95 0 1 0 -5.9 0M485.18 577.34a2.95 2.95 0 1 0 5.9 0a2.95 2.95 0 1 0 -5.9 0M488.3 581.25a2.95 2.95 0 1 0 5.9 0a2.95 2.95 0 1 0 -5.9 0M490.64 585.16a2.95 2.95 0 1 0 5.9 0a2.95 2.95 0 1 0 -5.9 0M492.99 587.5a2.95 2.95 0 1 0 5.9 0a2.95 2.95 0 1 0 -5.9 0M496.11 584.38a2.95 2.95 0 1 0 5.9 0a2.95 2.95 0 1 0 -5.9 0M496.89 579.69a2.95 2.95 0 1 0 5.9 0a2.95 2.95 0 1 0 -5.9 0M498.46 564.06a2.95 2.95 0 1 0 5.9 0a2.95 2.95 0 1 0 -5.9 0M501.58 571.88a2.95 2.95 0 1 0 5.9 0a2.95 2.95 0 1 0 -5.9 0M503.93 559.38a2.95 2.95 0 1 0 5.9 0a2.95 2.95 0 1 0 -5.9 0M507.05 548.44a2.95 2.95 0 1 0 5.9 0a2.95 2.95 0 1 0 -5.9 0M509.39 546.09a2.95 2.95 0 1 0 5.9 0a2.95 2.95 0 1 0 -5.9 0M510.96 541.41a2.95 2.95 0 1 0 5.9 0a2.95 2.95 0 1 0 -5.9 0M514.86 551.56a2.95 2.95 0 1 0 5.9 0a2.95 2.95 0 1 0 -5.9 0M516.42 544.53a2.95 2.95 0 1 0 5.9 0a2.95 2.95 0 1 0 -5.9 0M517.21 540.62a2.95 2.95 0 1 0 5.9 0a2.95 2.95 0 1 0 -5.9 0M519.55 534.38a2.95 2.95 0 1 0 5.9 0a2.95 2.95 0 1 0 -5.9 0M521.89 538.28a2.95 2.95 0 1 0 5.9 0a2.95 2.95 0 1 0 -5.9 0M522.67 546.09a2.95 2.95 0 1 0 5.9 0a2.95 2.95 0 1 0 -5.9 0M525.8 540.62a2.95 2.95 0 1 0 5.9 0a2.95 2.95 0 1 0 -5.9 0M528.92 544.53a2.95 2.95 0 1 0 5.9 0a2.95 2.95 0 1 0 -5.9 0M528.92 564.84a2.95 2.95 0 1 0 5.9 0a2.95 2.95 0 1 0 -5.9 0M533.61 552.34a2.95 2.95 0 1 0 5.9 0a2.95 2.95 0 1 0 -5.9 0M535.17 546.09a2.95 2.95 0 1 0 5.9 0a2.95 2.95 0 1 0 -5.9 0M538.3 559.38a2.95 2.95 0 1 0 5.9 0a2.95 2.95 0 1 0 -5.9 0M540.64 554.69a2.95 2.95 0 1 0 5.9 0a2.95 2.95 0 1 0 -5.9 0M546.89 565.62a2.95 2.95 0 1 0 5.9 0a2.95 2.95 0 1 0 -5.9 0M549.24 564.06a2.95 2.95 0 1 0 5.9 0a2.95 2.95 0 1 0 -5.9 0M552.36 571.88a2.95 2.95 0 1 0 5.9 0a2.95 2.95 0 1 0 -5.9 0M553.92 569.53a2.95 2.95 0 1 0 5.9 0a2.95 2.95 0 1 0 -5.9 0M557.05 584.38a2.95 2.95 0 1 0 5.9 0a2.95 2.95 0 1 0 -5.9 0M560.17 581.25a2.95 2.95 0 1 0 5.9 0a2.95 2.95 0 1 0 -5.9 0M563.3 576.56a2.95 2.95 0 1 0 5.9 0a2.95 2.95 0 1 0 -5.9 0M566.42 579.69a2.95 2.95 0 1 0 5.9 0a2.95 2.95 0 1 0 -5.9 0M567.99 564.06a2.95 2.95 0 1 0 5.9 0a2.95 2.95 0 1 0 -5.9 0M569.55 578.12a2.95 2.95 0 1 0 5.9 0a2.95 2.95 0 1 0 -5.9 0M572.67 575.78a2.95 2.95 0 1 0 5.9 0a2.95 2.95 0 1 0 -5.9 0M575.8 568.75a2.95 2.95 0 1 0 5.9 0a2.95 2.95 0 1 0 -5.9 0M576.58 559.38a2.95 2.95 0 1 0 5.9 0a2.95 2.95 0 1 0 -5.9 0M579.71 568.75a2.95 2.95 0 1 0 5.9 0a2.95 2.95 0 1 0 -5.9 0M582.05 557.81a2.95 2.95 0 1 0 5.9 0a2.95 2.95 0 1 0 -5.9 0M583.61 564.06a2.95 2.95 0 1 0 5.9 0a2.95 2.95 0 1 0 -5.9 0M585.17 576.56a2.95 2.95 0 1 0 5.9 0a2.95 2.95 0 1 0 -5.9 0M585.96 571.88a2.95 2.95 0 1 0 5.9 0a2.95 2.95 0 1 0 -5.9 0M586.74 562.5a2.95 2.95 0 1 0 5.9 0a2.95 2.95 0 1 0 -5.9 0M592.52 558.12a2.95 2.95 0 1 0 5.9 0a2.95 2.95 0 1 0 -5.9 0M595.64 557.34a2.95 2.95 0 1 0 5.9 0a2.95 2.95 0 1 0 -5.9 0M597.21 547.19a2.95 2.95 0 1 0 5.9 0a2.95 2.95 0 1 0 -5.9 0M599.55 550.31a2.95 2.95 0 1 0 5.9 0a2.95 2.95 0 1 0 -5.9 0M604.24 544.06a2.95 2.95 0 1 0 5.9 0a2.95 2.95 0 1 0 -5.9 0M608.14 546.41a2.95 2.95 0 1 0 5.9 0a2.95 2.95 0 1 0 -5.9 0M608.92 550.31a2.95 2.95 0 1 0 5.9 0a2.95 2.95 0 1 0 -5.9 0M611.27 554.22a2.95 2.95 0 1 0 5.9 0a2.95 2.95 0 1 0 -5.9 0M615.17 565.16a2.95 2.95 0 1 0 5.9 0a2.95 2.95 0 1 0 -5.9 0M616.74 564.38a2.95 2.95 0 1 0 5.9 0a2.95 2.95 0 1 0 -5.9 0M618.3 569.06a2.95 2.95 0 1 0 5.9 0a2.95 2.95 0 1 0 -5.9 0M619.86 591.72a2.95 2.95 0 1 0 5.9 0a2.95 2.95 0 1 0 -5.9 0M622.21 601.88a2.95 2.95 0 1 0 5.9 0a2.95 2.95 0 1 0 -5.9 0M625.33 595.62a2.95 2.95 0 1 0 5.9 0a2.95 2.95 0 1 0 -5.9 0M628.46 615.16a2.95 2.95 0 1 0 5.9 0a2.95 2.95 0 1 0 -5.9 0M630.8 606.56a2.95 2.95 0 1 0 5.9 0a2.95 2.95 0 1 0 -5.9 0M633.92 612.81a2.95 2.95 0 1 0 5.9 0a2.95 2.95 0 1 0 -5.9 0M636.27 625.31a2.95 2.95 0 1 0 5.9 0a2.95 2.95 0 1 0 -5.9 0M637.83 591.72a2.95 2.95 0 1 0 5.9 0a2.95 2.95 0 1 0 -5.9 0M639.39 576.88a2.95 2.95 0 1 0 5.9 0a2.95 2.95 0 1 0 -5.9 0M640.96 563.59a2.95 2.95 0 1 0 5.9 0a2.95 2.95 0 1 0 -5.9 0M644.86 574.53a2.95 2.95 0 1 0 5.9 0a2.95 2.95 0 1 0 -5.9 0M648.77 576.09a2.95 2.95 0 1 0 5.9 0a2.95 2.95 0 1 0 -5.9 0M651.11 580a2.95 2.95 0 1 0 5.9 0a2.95 2.95 0 1 0 -5.9 0M653.46 583.12a2.95 2.95 0 1 0 5.9 0a2.95 2.95 0 1 0 -5.9 0M656.58 580a2.95 2.95 0 1 0 5.9 0a2.95 2.95 0 1 0 -5.9 0M660.49 575.31a2.95 2.95 0 1 0 5.9 0a2.95 2.95 0 1 0 -5.9 0M663.61 569.06a2.95 2.95 0 1 0 5.9 0a2.95 2.95 0 1 0 -5.9 0M665.96 601.88a2.95 2.95 0 1 0 5.9 0a2.95 2.95 0 1 0 -5.9 0M666.74 594.84a2.95 2.95 0 1 0 5.9 0a2.95 2.95 0 1 0 -5.9 0M668.3 606.56a2.95 2.95 0 1 0 5.9 0a2.95 2.95 0 1 0 -5.9 0M669.86 619.84a2.95 2.95 0 1 0 5.9 0a2.95 2.95 0 1 0 -5.9 0M672.21 597.19a2.95 2.95 0 1 0 5.9 0a2.95 2.95 0 1 0 -5.9 0M674.55 622.19a2.95 2.95 0 1 0 5.9 0a2.95 2.95 0 1 0 -5.9 0M676.11 650.94a2.95 2.95 0 1 0 5.9 0a2.95 2.95 0 1 0 -5.9 0M680.02 634.69a2.95 2.95 0 1 0 5.9 0a2.95 2.95 0 1 0 -5.9 0M681.58 644.84a2.95 2.95 0 1 0 5.9 0a2.95 2.95 0 1 0 -5.9 0M683.14 664.22a2.95 2.95 0 1 0 5.9 0a2.95 2.95 0 1 0 -5.9 0M684.71 679.84a2.95 2.95 0 1 0 5.9 0a2.95 2.95 0 1 0 -5.9 0M688.61 682.19a2.95 2.95 0 1 0 5.9 0a2.95 2.95 0 1 0 -5.9 0M690.96 675.16a2.95 2.95 0 1 0 5.9 0a2.95 2.95 0 1 0 -5.9 0M693.3 660.31a2.95 2.95 0 1 0 5.9 0a2.95 2.95 0 1 0 -5.9 0M694.86 671.25a2.95 2.95 0 1 0 5.9 0a2.95 2.95 0 1 0 -5.9 0M697.99 682.19a2.95 2.95 0 1 0 5.9 0a2.95 2.95 0 1 0 -5.9 0M698.77 683.75a2.95 2.95 0 1 0 5.9 0a2.95 2.95 0 1 0 -5.9 0M702.67 666.56a2.95 2.95 0 1 0 5.9 0a2.95 2.95 0 1 0 -5.9 0M707.36 659.53a2.95 2.95 0 1 0 5.9 0a2.95 2.95 0 1 0 -5.9 0M711.27 666.56a2.95 2.95 0 1 0 5.9 0a2.95 2.95 0 1 0 -5.9 0M712.83 662.66a2.95 2.95 0 1 0 5.9 0a2.95 2.95 0 1 0 -5.9 0M723.77 654.84a2.95 2.95 0 1 0 5.9 0a2.95 2.95 0 1 0 -5.9 0M724.55 641.72a2.95 2.95 0 1 0 5.9 0a2.95 2.95 0 1 0 -5.9 0M727.67 643.12a2.95 2.95 0 1 0 5.9 0a2.95 2.95 0 1 0 -5.9 0M730.8 646.25a2.95 2.95 0 1 0 5.9 0a2.95 2.95 0 1 0 -5.9 0M733.92 646.25a2.95 2.95 0 1 0 5.9 0a2.95 2.95 0 1 0 -5.9 0M734.71 633.75a2.95 2.95 0 1 0 5.9 0a2.95 2.95 0 1 0 -5.9 0M737.05 644.69a2.95 2.95 0 1 0 5.9 0a2.95 2.95 0 1 0 -5.9 0M741.74 627.97a2.95 2.95 0 1 0 5.9 0a2.95 2.95 0 1 0 -5.9 0M746.42 629.53a2.95 2.95 0 1 0 5.9 0a2.95 2.95 0 1 0 -5.9 0M751.11 630.31a2.95 2.95 0 1 0 5.9 0a2.95 2.95 0 1 0 -5.9 0M755.02 627.19a2.95 2.95 0 1 0 5.9 0a2.95 2.95 0 1 0 -5.9 0M755.8 631.88a2.95 2.95 0 1 0 5.9 0a2.95 2.95 0 1 0 -5.9 0M756.58 620.16a2.95 2.95 0 1 0 5.9 0a2.95 2.95 0 1 0 -5.9 0M758.14 616.25a2.95 2.95 0 1 0 5.9 0a2.95 2.95 0 1 0 -5.9 0M760.49 623.28a2.95 2.95 0 1 0 5.9 0a2.95 2.95 0 1 0 -5.9 0M762.05 638.91a2.95 2.95 0 1 0 5.9 0a2.95 2.95 0 1 0 -5.9 0M765.96 633.44a2.95 2.95 0 1 0 5.9 0a2.95 2.95 0 1 0 -5.9 0M768.3 631.09a2.95 2.95 0 1 0 5.9 0a2.95 2.95 0 1 0 -5.9 0M774.55 623.28a2.95 2.95 0 1 0 5.9 0a2.95 2.95 0 1 0 -5.9 0M776.11 628.75a2.95 2.95 0 1 0 5.9 0a2.95 2.95 0 1 0 -5.9 0M778.46 620.16a2.95 2.95 0 1 0 5.9 0a2.95 2.95 0 1 0 -5.9 0M782.36 631.88a2.95 2.95 0 1 0 5.9 0a2.95 2.95 0 1 0 -5.9 0M785.49 631.09a2.95 2.95 0 1 0 5.9 0a2.95 2.95 0 1 0 -5.9 0M789.39 631.88a2.95 2.95 0 1 0 5.9 0a2.95 2.95 0 1 0 -5.9 0M792.52 638.12a2.95 2.95 0 1 0 5.9 0a2.95 2.95 0 1 0 -5.9 0M793.3 649.06a2.95 2.95 0 1 0 5.9 0a2.95 2.95 0 1 0 -5.9 0M796.42 652.19a2.95 2.95 0 1 0 5.9 0a2.95 2.95 0 1 0 -5.9 0M800.33 649.06a2.95 2.95 0 1 0 5.9 0a2.95 2.95 0 1 0 -5.9 0M803.46 639.69a2.95 2.95 0 1 0 5.9 0a2.95 2.95 0 1 0 -5.9 0M806.58 636.56a2.95 2.95 0 1 0 5.9 0a2.95 2.95 0 1 0 -5.9 0M810.49 635.78a2.95 2.95 0 1 0 5.9 0a2.95 2.95 0 1 0 -5.9 0M815.17 635a2.95 2.95 0 1 0 5.9 0a2.95 2.95 0 1 0 -5.9 0M817.52 636.56a2.95 2.95 0 1 0 5.9 0a2.95 2.95 0 1 0 -5.9 0M820.64 620.16a2.95 2.95 0 1 0 5.9 0a2.95 2.95 0 1 0 -5.9 0M825.33 613.91a2.95 2.95 0 1 0 5.9 0a2.95 2.95 0 1 0 -5.9 0M829.24 624.84a2.95 2.95 0 1 0 5.9 0a2.95 2.95 0 1 0 -5.9 0M831.58 625.62a2.95 2.95 0 1 0 5.9 0a2.95 2.95 0 1 0 -5.9 0M832.36 618.59a2.95 2.95 0 1 0 5.9 0a2.95 2.95 0 1 0 -5.9 0M834.71 620.16a2.95 2.95 0 1 0 5.9 0a2.95 2.95 0 1 0 -5.9 0M837.05 637.34a2.95 2.95 0 1 0 5.9 0a2.95 2.95 0 1 0 -5.9 0M840.17 635a2.95 2.95 0 1 0 5.9 0a2.95 2.95 0 1 0 -5.9 0M843.3 641.25a2.95 2.95 0 1 0 5.9 0a2.95 2.95 0 1 0 -5.9 0M846.42 641.25a2.95 2.95 0 1 0 5.9 0a2.95 2.95 0 1 0 -5.9 0M847.21 649.84a2.95 2.95 0 1 0 5.9 0a2.95 2.95 0 1 0 -5.9 0M849.55 657.66a2.95 2.95 0 1 0 5.9 0a2.95 2.95 0 1 0 -5.9 0M851.89 641.25a2.95 2.95 0 1 0 5.9 0a2.95 2.95 0 1 0 -5.9 0M852.67 635a2.95 2.95 0 1 0 5.9 0a2.95 2.95 0 1 0 -5.9 0M855.8 642.03a2.95 2.95 0 1 0 5.9 0a2.95 2.95 0 1 0 -5.9 0M857.36 628.75a2.95 2.95 0 1 0 5.9 0a2.95 2.95 0 1 0 -5.9 0M859.71 633.44a2.95 2.95 0 1 0 5.9 0a2.95 2.95 0 1 0 -5.9 0M862.05 627.19a2.95 2.95 0 1 0 5.9 0a2.95 2.95 0 1 0 -5.9 0M865.17 636.56a2.95 2.95 0 1 0 5.9 0a2.95 2.95 0 1 0 -5.9 0M865.96 651.41a2.95 2.95 0 1 0 5.9 0a2.95 2.95 0 1 0 -5.9 0M869.86 638.12a2.95 2.95 0 1 0 5.9 0a2.95 2.95 0 1 0 -5.9 0M871.42 633.44a2.95 2.95 0 1 0 5.9 0a2.95 2.95 0 1 0 -5.9 0M258.77 504.69a2.95 2.95 0 1 0 5.9 0a2.95 2.95 0 1 0 -5.9 0M303.69 539.06a2.95 2.95 0 1 0 5.9 0a2.95 2.95 0 1 0 -5.9 0M748.77 629.92a2.95 2.95 0 1 0 5.9 0a2.95 2.95 0 1 0 -5.9 0M787.44 631.48a2.95 2.95 0 1 0 5.9 0a2.95 2.95 0 1 0 -5.9 0M808.53 636.17a2.95 2.95 0 1 0 5.9 0a2.95 2.95 0 1 0 -5.9 0M812.83 635.39a2.95 2.95 0 1 0 5.9 0a2.95 2.95 0 1 0 -5.9 0" fill="#5abba3" clip-path="url(#cb)"/>
<path d="M91.61 661.72a2.95 2.95 0 1 0 5.9 0a2.95 2.95 0 1 0 -5.9 0M93.96 667.97a2.95 2.95 0 1 0 5.9 0a2.95 2.95 0 1 0 -5.9 0M96.3 674.22a2.95 2.95 0 1 0 5.9 0a2.95 2.95 0 1 0 -5.9 0M99.42 671.88a2.95 2.95 0 1 0 5.9 0a2.95 2.95 0 1 0 -5.9 0M101.77 670.31a2.95 2.95 0 1 0 5.9 0a2.95 2.95 0 1 0 -5.9 0M104.11 667.97a2.95 2.95 0 1 0 5.9 0a2.95 2.95 0 1 0 -5.9 0M105.67 667.97a2.95 2.95 0 1 0 5.9 0a2.95 2.95 0 1 0 -5.9 0M107.24 674.22a2.95 2.95 0 1 0 5.9 0a2.95 2.95 0 1 0 -5.9 0M108.8 662.5a2.95 2.95 0 1 0 5.9 0a2.95 2.95 0 1 0 -5.9 0M110.36 651.56a2.95 2.95 0 1 0 5.9 0a2.95 2.95 0 1 0 -5.9 0M111.92 638.28a2.95 2.95 0 1 0 5.9 0a2.95 2.95 0 1 0 -5.9 0M113.49 636.72a2.95 2.95 0 1 0 5.9 0a2.95 2.95 0 1 0 -5.9 0M115.05 625.78a2.95 2.95 0 1 0 5.9 0a2.95 2.95 0 1 0 -5.9 0M116.61 607.03a2.95 2.95 0 1 0 5.9 0a2.95 2.95 0 1 0 -5.9 0M119.74 605.47a2.95 2.95 0 1 0 5.9 0a2.95 2.95 0 1 0 -5.9 0M122.86 604.69a2.95 2.95 0 1 0 5.9 0a2.95 2.95 0 1 0 -5.9 0M125.99 595.31a2.95 2.95 0 1 0 5.9 0a2.95 2.95 0 1 0 -5.9 0M125.99 605.47a2.95 2.95 0 1 0 5.9 0a2.95 2.95 0 1 0 -5.9 0M129.11 603.91a2.95 2.95 0 1 0 5.9 0a2.95 2.95 0 1 0 -5.9 0M130.68 593.75a2.95 2.95 0 1 0 5.9 0a2.95 2.95 0 1 0 -5.9 0M132.24 602.34a2.95 2.95 0 1 0 5.9 0a2.95 2.95 0 1 0 -5.9 0M134.58 602.34a2.95 2.95 0 1 0 5.9 0a2.95 2.95 0 1 0 -5.9 0M136.14 604.69a2.95 2.95 0 1 0 5.9 0a2.95 2.95 0 1 0 -5.9 0M137.71 607.81a2.95 2.95 0 1 0 5.9 0a2.95 2.95 0 1 0 -5.9 0M140.05 610.16a2.95 2.95 0 1 0 5.9 0a2.95 2.95 0 1 0 -5.9 0M141.61 588.28a2.95 2.95 0 1 0 5.9 0a2.95 2.95 0 1 0 -5.9 0M143.96 594.53a2.95 2.95 0 1 0 5.9 0a2.95 2.95 0 1 0 -5.9 0M146.3 600a2.95 2.95 0 1 0 5.9 0a2.95 2.95 0 1 0 -5.9 0M150.21 603.91a2.95 2.95 0 1 0 5.9 0a2.95 2.95 0 1 0 -5.9 0M152.55 601.56a2.95 2.95 0 1 0 5.9 0a2.95 2.95 0 1 0 -5.9 0M154.11 593.75a2.95 2.95 0 1 0 5.9 0a2.95 2.95 0 1 0 -5.9 0M155.68 601.56a2.95 2.95 0 1 0 5.9 0a2.95 2.95 0 1 0 -5.9 0M157.24 599.22a2.95 2.95 0 1 0 5.9 0a2.95 2.95 0 1 0 -5.9 0M158.8 592.19a2.95 2.95 0 1 0 5.9 0a2.95 2.95 0 1 0 -5.9 0M161.14 585.94a2.95 2.95 0 1 0 5.9 0a2.95 2.95 0 1 0 -5.9 0M163.49 582.81a2.95 2.95 0 1 0 5.9 0a2.95 2.95 0 1 0 -5.9 0M166.61 590.62a2.95 2.95 0 1 0 5.9 0a2.95 2.95 0 1 0 -5.9 0M168.18 593.75a2.95 2.95 0 1 0 5.9 0a2.95 2.95 0 1 0 -5.9 0M171.3 596.88a2.95 2.95 0 1 0 5.9 0a2.95 2.95 0 1 0 -5.9 0M174.43 595.31a2.95 2.95 0 1 0 5.9 0a2.95 2.95 0 1 0 -5.9 0M175.99 603.91a2.95 2.95 0 1 0 5.9 0a2.95 2.95 0 1 0 -5.9 0M179.11 595.31a2.95 2.95 0 1 0 5.9 0a2.95 2.95 0 1 0 -5.9 0M181.46 603.91a2.95 2.95 0 1 0 5.9 0a2.95 2.95 0 1 0 -5.9 0M183.8 600a2.95 2.95 0 1 0 5.9 0a2.95 2.95 0 1 0 -5.9 0M186.14 600a2.95 2.95 0 1 0 5.9 0a2.95 2.95 0 1 0 -5.9 0M186.93 610.16a2.95 2.95 0 1 0 5.9 0a2.95 2.95 0 1 0 -5.9 0M188.49 607.03a2.95 2.95 0 1 0 5.9 0a2.95 2.95 0 1 0 -5.9 0M190.05 594.53a2.95 2.95 0 1 0 5.9 0a2.95 2.95 0 1 0 -5.9 0M192.39 592.19a2.95 2.95 0 1 0 5.9 0a2.95 2.95 0 1 0 -5.9 0M193.18 565.62a2.95 2.95 0 1 0 5.9 0a2.95 2.95 0 1 0 -5.9 0M195.52 569.53a2.95 2.95 0 1 0 5.9 0a2.95 2.95 0 1 0 -5.9 0M197.83 573.44a2.95 2.95 0 1 0 5.9 0a2.95 2.95 0 1 0 -5.9 0M199.39 556.25a2.95 2.95 0 1 0 5.9 0a2.95 2.95 0 1 0 -5.9 0M200.18 551.56a2.95 2.95 0 1 0 5.9 0a2.95 2.95 0 1 0 -5.9 0M202.52 516.41a2.95 2.95 0 1 0 5.9 0a2.95 2.95 0 1 0 -5.9 0M204.08 513.28a2.95 2.95 0 1 0 5.9 0a2.95 2.95 0 1 0 -5.9 0M205.64 506.25a2.95 2.95 0 1 0 5.9 0a2.95 2.95 0 1 0 -5.9 0M207.99 487.5a2.95 2.95 0 1 0 5.9 0a2.95 2.95 0 1 0 -5.9 0M211.11 496.09a2.95 2.95 0 1 0 5.9 0a2.95 2.95 0 1 0 -5.9 0M212.68 510.94a2.95 2.95 0 1 0 5.9 0a2.95 2.95 0 1 0 -5.9 0M214.24 518.75a2.95 2.95 0 1 0 5.9 0a2.95 2.95 0 1 0 -5.9 0M216.58 510.16a2.95 2.95 0 1 0 5.9 0a2.95 2.95 0 1 0 -5.9 0M218.14 528.12a2.95 2.95 0 1 0 5.9 0a2.95 2.95 0 1 0 -5.9 0M218.93 521.88a2.95 2.95 0 1 0 5.9 0a2.95 2.95 0 1 0 -5.9 0M221.27 524.22a2.95 2.95 0 1 0 5.9 0a2.95 2.95 0 1 0 -5.9 0M222.83 534.38a2.95 2.95 0 1 0 5.9 0a2.95 2.95 0 1 0 -5.9 0M225.96 539.06a2.95 2.95 0 1 0 5.9 0a2.95 2.95 0 1 0 -5.9 0M228.3 540.62a2.95 2.95 0 1 0 5.9 0a2.95 2.95 0 1 0 -5.9 0M229.08 549.22a2.95 2.95 0 1 0 5.9 0a2.95 2.95 0 1 0 -5.9 0M232.21 539.84a2.95 2.95 0 1 0 5.9 0a2.95 2.95 0 1 0 -5.9 0M234.55 532.03a2.95 2.95 0 1 0 5.9 0a2.95 2.95 0 1 0 -5.9 0M237.68 532.81a2.95 2.95 0 1 0 5.9 0a2.95 2.95 0 1 0 -5.9 0M239.24 526.56a2.95 2.95 0 1 0 5.9 0a2.95 2.95 0 1 0 -5.9 0M241.58 526.56a2.95 2.95 0 1 0 5.9 0a2.95 2.95 0 1 0 -5.9 0M242.36 552.34a2.95 2.95 0 1 0 5.9 0a2.95 2.95 0 1 0 -5.9 0M246.27 562.5a2.95 2.95 0 1 0 5.9 0a2.95 2.95 0 1 0 -5.9 0M247.83 530.47a2.95 2.95 0 1 0 5.9 0a2.95 2.95 0 1 0 -5.9 0M248.61 551.56a2.95 2.95 0 1 0 5.9 0a2.95 2.95 0 1 0 -5.9 0M250.96 542.19a2.95 2.95 0 1 0 5.9 0a2.95 2.95 0 1 0 -5.9 0M252.52 556.25a2.95 2.95 0 1 0 5.9 0a2.95 2.95 0 1 0 -5.9 0M256.43 548.44a2.95 2.95 0 1 0 5.9 0a2.95 2.95 0 1 0 -5.9 0M258.77 552.34a2.95 2.95 0 1 0 5.9 0a2.95 2.95 0 1 0 -5.9 0M261.11 561.72a2.95 2.95 0 1 0 5.9 0a2.95 2.95 0 1 0 -5.9 0M262.68 553.91a2.95 2.95 0 1 0 5.9 0a2.95 2.95 0 1 0 -5.9 0M265.8 557.03a2.95 2.95 0 1 0 5.9 0a2.95 2.95 0 1 0 -5.9 0M266.58 547.66a2.95 2.95 0 1 0 5.9 0a2.95 2.95 0 1 0 -5.9 0M268.14 564.06a2.95 2.95 0 1 0 5.9 0a2.95 2.95 0 1 0 -5.9 0M270.49 556.25a2.95 2.95 0 1 0 5.9 0a2.95 2.95 0 1 0 -5.9 0M272.05 570.31a2.95 2.95 0 1 0 5.9 0a2.95 2.95 0 1 0 -5.9 0M275.18 556.25a2.95 2.95 0 1 0 5.9 0a2.95 2.95 0 1 0 -5.9 0M276.74 532.81a2.95 2.95 0 1 0 5.9 0a2.95 2.95 0 1 0 -5.9 0M279.08 541.41a2.95 2.95 0 1 0 5.9 0a2.95 2.95 0 1 0 -5.9 0M280.64 535.94a2.95 2.95 0 1 0 5.9 0a2.95 2.95 0 1 0 -5.9 0M282.21 528.12a2.95 2.95 0 1 0 5.9 0a2.95 2.95 0 1 0 -5.9 0M284.55 516.41a2.95 2.95 0 1 0 5.9 0a2.95 2.95 0 1 0 -5.9 0M287.68 521.88a2.95 2.95 0 1 0 5.9 0a2.95 2.95 0 1 0 -5.9 0M287.68 553.91a2.95 2.95 0 1 0 5.9 0a2.95 2.95 0 1 0 -5.9 0M290.8 523.44a2.95 2.95 0 1 0 5.9 0a2.95 2.95 0 1 0 -5.9 0M291.58 533.59a2.95 2.95 0 1 0 5.9 0a2.95 2.95 0 1 0 -5.9 0M293.14 528.12a2.95 2.95 0 1 0 5.9 0a2.95 2.95 0 1 0 -5.9 0M294.71 538.28a2.95 2.95 0 1 0 5.9 0a2.95 2.95 0 1 0 -5.9 0M297.05 550a2.95 2.95 0 1 0 5.9 0a2.95 2.95 0 1 0 -5.9 0M297.83 557.81a2.95 2.95 0 1 0 5.9 0a2.95 2.95 0 1 0 -5.9 0M300.18 550a2.95 2.95 0 1 0 5.9 0a2.95 2.95 0 1 0 -5.9 0M303.3 544.53a2.95 2.95 0 1 0 5.9 0a2.95 2.95 0 1 0 -5.9 0M303.3 559.38a2.95 2.95 0 1 0 5.9 0a2.95 2.95 0 1 0 -5.9 0M306.43 562.5a2.95 2.95 0 1 0 5.9 0a2.95 2.95 0 1 0 -5.9 0M309.55 560.94a2.95 2.95 0 1 0 5.9 0a2.95 2.95 0 1 0 -5.9 0M312.68 557.81a2.95 2.95 0 1 0 5.9 0a2.95 2.95 0 1 0 -5.9 0M314.24 547.66a2.95 2.95 0 1 0 5.9 0a2.95 2.95 0 1 0 -5.9 0M315.8 565.62a2.95 2.95 0 1 0 5.9 0a2.95 2.95 0 1 0 -5.9 0M319.71 570.31a2.95 2.95 0 1 0 5.9 0a2.95 2.95 0 1 0 -5.9 0M322.05 575a2.95 2.95 0 1 0 5.9 0a2.95 2.95 0 1 0 -5.9 0M326.74 567.97a2.95 2.95 0 1 0 5.9 0a2.95 2.95 0 1 0 -5.9 0M327.83 571.09a2.95 2.95 0 1 0 5.9 0a2.95 2.95 0 1 0 -5.9 0M328.61 567.19a2.95 2.95 0 1 0 5.9 0a2.95 2.95 0 1 0 -5.9 0M330.96 578.12a2.95 2.95 0 1 0 5.9 0a2.95 2.95 0 1 0 -5.9 0M334.08 582.81a2.95 2.95 0 1 0 5.9 0a2.95 2.95 0 1 0 -5.9 0M337.21 567.19a2.95 2.95 0 1 0 5.9 0a2.95 2.95 0 1 0 -5.9 0M337.99 574.22a2.95 2.95 0 1 0 5.9 0a2.95 2.95 0 1 0 -5.9 0M340.33 560.94a2.95 2.95 0 1 0 5.9 0a2.95 2.95 0 1 0 -5.9 0M341.89 567.97a2.95 2.95 0 1 0 5.9 0a2.95 2.95 0 1 0 -5.9 0M344.24 581.25a2.95 2.95 0 1 0 5.9 0a2.95 2.95 0 1 0 -5.9 0M347.36 577.34a2.95 2.95 0 1 0 5.9 0a2.95 2.95 0 1 0 -5.9 0M350.49 571.09a2.95 2.95 0 1 0 5.9 0a2.95 2.95 0 1 0 -5.9 0M352.05 573.44a2.95 2.95 0 1 0 5.9 0a2.95 2.95 0 1 0 -5.9 0M354.39 582.81a2.95 2.95 0 1 0 5.9 0a2.95 2.95 0 1 0 -5.9 0M356.74 580.47a2.95 2.95 0 1 0 5.9 0a2.95 2.95 0 1 0 -5.9 0M359.08 594.53a2.95 2.95 0 1 0 5.9 0a2.95 2.95 0 1 0 -5.9 0M359.86 590.62a2.95 2.95 0 1 0 5.9 0a2.95 2.95 0 1 0 -5.9 0M362.21 607.03a2.95 2.95 0 1 0 5.9 0a2.95 2.95 0 1 0 -5.9 0M363.77 603.12a2.95 2.95 0 1 0 5.9 0a2.95 2.95 0 1 0 -5.9 0M366.11 585.16a2.95 2.95 0 1 0 5.9 0a2.95 2.95 0 1 0 -5.9 0M366.89 595.31a2.95 2.95 0 1 0 5.9 0a2.95 2.95 0 1 0 -5.9 0M369.24 592.19a2.95 2.95 0 1 0 5.9 0a2.95 2.95 0 1 0 -5.9 0M370.02 580.47a2.95 2.95 0 1 0 5.9 0a2.95 2.95 0 1 0 -5.9 0M373.93 582.03a2.95 2.95 0 1 0 5.9 0a2.95 2.95 0 1 0 -5.9 0M374.71 564.06a2.95 2.95 0 1 0 5.9 0a2.95 2.95 0 1 0 -5.9 0M377.05 571.88a2.95 2.95 0 1 0 5.9 0a2.95 2.95 0 1 0 -5.9 0M377.83 582.81a2.95 2.95 0 1 0 5.9 0a2.95 2.95 0 1 0 -5.9 0M380.96 581.25a2.95 2.95 0 1 0 5.9 0a2.95 2.95 0 1 0 -5.9 0M384.08 584.38a2.95 2.95 0 1 0 5.9 0a2.95 2.95 0 1 0 -5.9 0M384.86 590.62a2.95 2.95 0 1 0 5.9 0a2.95 2.95 0 1 0 -5.9 0M387.21 618.75a2.95 2.95 0 1 0 5.9 0a2.95 2.95 0 1 0 -5.9 0M390.13 639.04a2.95 2.95 0 1 0 5.9 0a2.95 2.95 0 1 0 -5.9 0M392.05 645.29a2.95 2.95 0 1 0 5.9 0a2.95 2.95 0 1 0 -5.9 0M394.93 633.27a2.95 2.95 0 1 0 5.9 0a2.95 2.95 0 1 0 -5.9 0M395.8 628.12a2.95 2.95 0 1 0 5.9 0a2.95 2.95 0 1 0 -5.9 0M402.05 627.34a2.95 2.95 0 1 0 5.9 0a2.95 2.95 0 1 0 -5.9 0M403.59 632.31a2.95 2.95 0 1 0 5.9 0a2.95 2.95 0 1 0 -5.9 0M406.74 626.56a2.95 2.95 0 1 0 5.9 0a2.95 2.95 0 1 0 -5.9 0M407.43 631.35a2.95 2.95 0 1 0 5.9 0a2.95 2.95 0 1 0 -5.9 0M409.86 620.31a2.95 2.95 0 1 0 5.9 0a2.95 2.95 0 1 0 -5.9 0M413.77 614.06a2.95 2.95 0 1 0 5.9 0a2.95 2.95 0 1 0 -5.9 0M416.89 607.81a2.95 2.95 0 1 0 5.9 0a2.95 2.95 0 1 0 -5.9 0M417.68 603.12a2.95 2.95 0 1 0 5.9 0a2.95 2.95 0 1 0 -5.9 0M420.8 603.91a2.95 2.95 0 1 0 5.9 0a2.95 2.95 0 1 0 -5.9 0M423.14 607.81a2.95 2.95 0 1 0 5.9 0a2.95 2.95 0 1 0 -5.9 0M425.49 593.75a2.95 2.95 0 1 0 5.9 0a2.95 2.95 0 1 0 -5.9 0M427.05 584.38a2.95 2.95 0 1 0 5.9 0a2.95 2.95 0 1 0 -5.9 0M430.18 582.81a2.95 2.95 0 1 0 5.9 0a2.95 2.95 0 1 0 -5.9 0M434.08 578.12a2.95 2.95 0 1 0 5.9 0a2.95 2.95 0 1 0 -5.9 0M437.99 579.69a2.95 2.95 0 1 0 5.9 0a2.95 2.95 0 1 0 -5.9 0M439.55 582.03a2.95 2.95 0 1 0 5.9 0a2.95 2.95 0 1 0 -5.9 0M442.68 585.16a2.95 2.95 0 1 0 5.9 0a2.95 2.95 0 1 0 -5.9 0M442.68 590.62a2.95 2.95 0 1 0 5.9 0a2.95 2.95 0 1 0 -5.9 0M445.02 589.06a2.95 2.95 0 1 0 5.9 0a2.95 2.95 0 1 0 -5.9 0M448.14 578.91a2.95 2.95 0 1 0 5.9 0a2.95 2.95 0 1 0 -5.9 0M452.05 578.91a2.95 2.95 0 1 0 5.9 0a2.95 2.95 0 1 0 -5.9 0M455.18 575.78a2.95 2.95 0 1 0 5.9 0a2.95 2.95 0 1 0 -5.9 0M458.3 571.88a2.95 2.95 0 1 0 5.9 0a2.95 2.95 0 1 0 -5.9 0M460.96 576.56a2.95 2.95 0 1 0 5.9 0a2.95 2.95 0 1 0 -5.9 0M461.74 567.97a2.95 2.95 0 1 0 5.9 0a2.95 2.95 0 1 0 -5.9 0M464.08 575a2.95 2.95 0 1 0 5.9 0a2.95 2.95 0 1 0 -5.9 0M464.86 568.75a2.95 2.95 0 1 0 5.9 0a2.95 2.95 0 1 0 -5.9 0M467.99 573.44a2.95 2.95 0 1 0 5.9 0a2.95 2.95 0 1 0 -5.9 0M470.33 580.47a2.95 2.95 0 1 0 5.9 0a2.95 2.95 0 1 0 -5.9 0M472.68 564.06a2.95 2.95 0 1 0 5.9 0a2.95 2.95 0 1 0 -5.9 0M474.24 574.22a2.95 2.95 0 1 0 5.9 0a2.95 2.95 0 1 0 -5.9 0M477.36 576.56a2.95 2.95 0 1 0 5.9 0a2.95 2.95 0 1 0 -5.9 0M479.71 579.69a2.95 2.95 0 1 0 5.9 0a2.95 2.95 0 1 0 -5.9 0M480.49 585.94a2.95 2.95 0 1 0 5.9 0a2.95 2.95 0 1 0 -5.9 0M482.05 596.88a2.95 2.95 0 1 0 5.9 0a2.95 2.95 0 1 0 -5.9 0M485.96 596.88a2.95 2.95 0 1 0 5.9 0a2.95 2.95 0 1 0 -5.9 0M488.3 595.31a2.95 2.95 0 1 0 5.9 0a2.95 2.95 0 1 0 -5.9 0M491.43 599.22a2.95 2.95 0 1 0 5.9 0a2.95 2.95 0 1 0 -5.9 0M493.77 609.38a2.95 2.95 0 1 0 5.9 0a2.95 2.95 0 1 0 -5.9 0M496.11 602.34a2.95 2.95 0 1 0 5.9 0a2.95 2.95 0 1 0 -5.9 0M498.46 590.62a2.95 2.95 0 1 0 5.9 0a2.95 2.95 0 1 0 -5.9 0M500.02 586.72a2.95 2.95 0 1 0 5.9 0a2.95 2.95 0 1 0 -5.9 0M502.36 577.34a2.95 2.95 0 1 0 5.9 0a2.95 2.95 0 1 0 -5.9 0M505.49 580.47a2.95 2.95 0 1 0 5.9 0a2.95 2.95 0 1 0 -5.9 0M507.05 564.84a2.95 2.95 0 1 0 5.9 0a2.95 2.95 0 1 0 -5.9 0M509.39 571.88a2.95 2.95 0 1 0 5.9 0a2.95 2.95 0 1 0 -5.9 0M511.74 562.5a2.95 2.95 0 1 0 5.9 0a2.95 2.95 0 1 0 -5.9 0M513.3 568.75a2.95 2.95 0 1 0 5.9 0a2.95 2.95 0 1 0 -5.9 0M514.86 555.47a2.95 2.95 0 1 0 5.9 0a2.95 2.95 0 1 0 -5.9 0M518.77 554.69a2.95 2.95 0 1 0 5.9 0a2.95 2.95 0 1 0 -5.9 0M522.67 553.91a2.95 2.95 0 1 0 5.9 0a2.95 2.95 0 1 0 -5.9 0M522.67 562.5a2.95 2.95 0 1 0 5.9 0a2.95 2.95 0 1 0 -5.9 0M524.24 544.53a2.95 2.95 0 1 0 5.9 0a2.95 2.95 0 1 0 -5.9 0M526.58 553.12a2.95 2.95 0 1 0 5.9 0a2.95 2.95 0 1 0 -5.9 0M529.71 555.47a2.95 2.95 0 1 0 5.9 0a2.95 2.95 0 1 0 -5.9 0M529.71 561.72a2.95 2.95 0 1 0 5.9 0a2.95 2.95 0 1 0 -5.9 0M533.61 564.84a2.95 2.95 0 1 0 5.9 0a2.95 2.95 0 1 0 -5.9 0M536.74 564.06a2.95 2.95 0 1 0 5.9 0a2.95 2.95 0 1 0 -5.9 0M538.3 575.78a2.95 2.95 0 1 0 5.9 0a2.95 2.95 0 1 0 -5.9 0M539.08 568.75a2.95 2.95 0 1 0 5.9 0a2.95 2.95 0 1 0 -5.9 0M542.21 571.88a2.95 2.95 0 1 0 5.9 0a2.95 2.95 0 1 0 -5.9 0M543.77 564.06a2.95 2.95 0 1 0 5.9 0a2.95 2.95 0 1 0 -5.9 0M547.67 573.44a2.95 2.95 0 1 0 5.9 0a2.95 2.95 0 1 0 -5.9 0M548.46 580.47a2.95 2.95 0 1 0 5.9 0a2.95 2.95 0 1 0 -5.9 0M550.8 575.78a2.95 2.95 0 1 0 5.9 0a2.95 2.95 0 1 0 -5.9 0M552.36 579.69a2.95 2.95 0 1 0 5.9 0a2.95 2.95 0 1 0 -5.9 0M553.92 590.62a2.95 2.95 0 1 0 5.9 0a2.95 2.95 0 1 0 -5.9 0M557.05 593.75a2.95 2.95 0 1 0 5.9 0a2.95 2.95 0 1 0 -5.9 0M560.17 589.84a2.95 2.95 0 1 0 5.9 0a2.95 2.95 0 1 0 -5.9 0M563.3 587.5a2.95 2.95 0 1 0 5.9 0a2.95 2.95 0 1 0 -5.9 0M563.3 596.88a2.95 2.95 0 1 0 5.9 0a2.95 2.95 0 1 0 -5.9 0M566.42 590.62a2.95 2.95 0 1 0 5.9 0a2.95 2.95 0 1 0 -5.9 0M569.55 600a2.95 2.95 0 1 0 5.9 0a2.95 2.95 0 1 0 -5.9 0M572.67 593.75a2.95 2.95 0 1 0 5.9 0a2.95 2.95 0 1 0 -5.9 0M575.8 592.97a2.95 2.95 0 1 0 5.9 0a2.95 2.95 0 1 0 -5.9 0M578.92 589.06a2.95 2.95 0 1 0 5.9 0a2.95 2.95 0 1 0 -5.9 0M580.49 596.88a2.95 2.95 0 1 0 5.9 0a2.95 2.95 0 1 0 -5.9 0M582.05 585.16a2.95 2.95 0 1 0 5.9 0a2.95 2.95 0 1 0 -5.9 0M584.39 581.25a2.95 2.95 0 1 0 5.9 0a2.95 2.95 0 1 0 -5.9 0M586.74 584.38a2.95 2.95 0 1 0 5.9 0a2.95 2.95 0 1 0 -5.9 0M588.3 575.78a2.95 2.95 0 1 0 5.9 0a2.95 2.95 0 1 0 -5.9 0M590.96 570.62a2.95 2.95 0 1 0 5.9 0a2.95 2.95 0 1 0 -5.9 0M594.08 558.91a2.95 2.95 0 1 0 5.9 0a2.95 2.95 0 1 0 -5.9 0M594.08 567.5a2.95 2.95 0 1 0 5.9 0a2.95 2.95 0 1 0 -5.9 0M596.42 565.94a2.95 2.95 0 1 0 5.9 0a2.95 2.95 0 1 0 -5.9 0M597.99 572.19a2.95 2.95 0 1 0 5.9 0a2.95 2.95 0 1 0 -5.9 0M599.55 563.59a2.95 2.95 0 1 0 5.9 0a2.95 2.95 0 1 0 -5.9 0M601.11 553.44a2.95 2.95 0 1 0 5.9 0a2.95 2.95 0 1 0 -5.9 0M602.67 547.97a2.95 2.95 0 1 0 5.9 0a2.95 2.95 0 1 0 -5.9 0M603.46 556.56a2.95 2.95 0 1 0 5.9 0a2.95 2.95 0 1 0 -5.9 0M605.8 559.69a2.95 2.95 0 1 0 5.9 0a2.95 2.95 0 1 0 -5.9 0M608.14 562.03a2.95 2.95 0 1 0 5.9 0a2.95 2.95 0 1 0 -5.9 0M610.49 564.38a2.95 2.95 0 1 0 5.9 0a2.95 2.95 0 1 0 -5.9 0M611.27 574.53a2.95 2.95 0 1 0 5.9 0a2.95 2.95 0 1 0 -5.9 0M612.83 583.91a2.95 2.95 0 1 0 5.9 0a2.95 2.95 0 1 0 -5.9 0M615.17 588.59a2.95 2.95 0 1 0 5.9 0a2.95 2.95 0 1 0 -5.9 0M618.3 583.91a2.95 2.95 0 1 0 5.9 0a2.95 2.95 0 1 0 -5.9 0M619.86 593.28a2.95 2.95 0 1 0 5.9 0a2.95 2.95 0 1 0 -5.9 0M622.21 594.06a2.95 2.95 0 1 0 5.9 0a2.95 2.95 0 1 0 -5.9 0M623.77 606.56a2.95 2.95 0 1 0 5.9 0a2.95 2.95 0 1 0 -5.9 0M626.89 608.12a2.95 2.95 0 1 0 5.9 0a2.95 2.95 0 1 0 -5.9 0M629.24 611.25a2.95 2.95 0 1 0 5.9 0a2.95 2.95 0 1 0 -5.9 0M632.36 615.16a2.95 2.95 0 1 0 5.9 0a2.95 2.95 0 1 0 -5.9 0M632.36 626.88a2.95 2.95 0 1 0 5.9 0a2.95 2.95 0 1 0 -5.9 0M633.92 619.06a2.95 2.95 0 1 0 5.9 0a2.95 2.95 0 1 0 -5.9 0M635.49 613.59a2.95 2.95 0 1 0 5.9 0a2.95 2.95 0 1 0 -5.9 0M637.05 593.28a2.95 2.95 0 1 0 5.9 0a2.95 2.95 0 1 0 -5.9 0M640.17 575.31a2.95 2.95 0 1 0 5.9 0a2.95 2.95 0 1 0 -5.9 0M641.74 570.62a2.95 2.95 0 1 0 5.9 0a2.95 2.95 0 1 0 -5.9 0M644.86 569.84a2.95 2.95 0 1 0 5.9 0a2.95 2.95 0 1 0 -5.9 0M646.42 562.81a2.95 2.95 0 1 0 5.9 0a2.95 2.95 0 1 0 -5.9 0M647.21 557.34a2.95 2.95 0 1 0 5.9 0a2.95 2.95 0 1 0 -5.9 0M649.55 562.81a2.95 2.95 0 1 0 5.9 0a2.95 2.95 0 1 0 -5.9 0M651.89 569.84a2.95 2.95 0 1 0 5.9 0a2.95 2.95 0 1 0 -5.9 0M654.24 567.5a2.95 2.95 0 1 0 5.9 0a2.95 2.95 0 1 0 -5.9 0M655.02 576.09a2.95 2.95 0 1 0 5.9 0a2.95 2.95 0 1 0 -5.9 0M656.58 578.44a2.95 2.95 0 1 0 5.9 0a2.95 2.95 0 1 0 -5.9 0M657.36 565.94a2.95 2.95 0 1 0 5.9 0a2.95 2.95 0 1 0 -5.9 0M660.49 563.59a2.95 2.95 0 1 0 5.9 0a2.95 2.95 0 1 0 -5.9 0M663.61 558.91a2.95 2.95 0 1 0 5.9 0a2.95 2.95 0 1 0 -5.9 0M665.17 615.16a2.95 2.95 0 1 0 5.9 0a2.95 2.95 0 1 0 -5.9 0M666.74 587.81a2.95 2.95 0 1 0 5.9 0a2.95 2.95 0 1 0 -5.9 0M669.08 582.34a2.95 2.95 0 1 0 5.9 0a2.95 2.95 0 1 0 -5.9 0M670.64 610.47a2.95 2.95 0 1 0 5.9 0a2.95 2.95 0 1 0 -5.9 0M672.21 605.78a2.95 2.95 0 1 0 5.9 0a2.95 2.95 0 1 0 -5.9 0M673.77 615.16a2.95 2.95 0 1 0 5.9 0a2.95 2.95 0 1 0 -5.9 0M676.11 634.69a2.95 2.95 0 1 0 5.9 0a2.95 2.95 0 1 0 -5.9 0M677.67 652.5a2.95 2.95 0 1 0 5.9 0a2.95 2.95 0 1 0 -5.9 0M679.24 675.16a2.95 2.95 0 1 0 5.9 0a2.95 2.95 0 1 0 -5.9 0M682.36 672.81a2.95 2.95 0 1 0 5.9 0a2.95 2.95 0 1 0 -5.9 0M684.71 680.62a2.95 2.95 0 1 0 5.9 0a2.95 2.95 0 1 0 -5.9 0M686.27 690a2.95 2.95 0 1 0 5.9 0a2.95 2.95 0 1 0 -5.9 0M687.83 693.12a2.95 2.95 0 1 0 5.9 0a2.95 2.95 0 1 0 -5.9 0M690.17 686.88a2.95 2.95 0 1 0 5.9 0a2.95 2.95 0 1 0 -5.9 0M692.52 683.75a2.95 2.95 0 1 0 5.9 0a2.95 2.95 0 1 0 -5.9 0M694.86 679.84a2.95 2.95 0 1 0 5.9 0a2.95 2.95 0 1 0 -5.9 0M696.42 675.94a2.95 2.95 0 1 0 5.9 0a2.95 2.95 0 1 0 -5.9 0M698.77 670.47a2.95 2.95 0 1 0 5.9 0a2.95 2.95 0 1 0 -5.9 0M701.11 663.44a2.95 2.95 0 1 0 5.9 0a2.95 2.95 0 1 0 -5.9 0M703.46 659.53a2.95 2.95 0 1 0 5.9 0a2.95 2.95 0 1 0 -5.9 0M705.8 672.81a2.95 2.95 0 1 0 5.9 0a2.95 2.95 0 1 0 -5.9 0M707.36 669.69a2.95 2.95 0 1 0 5.9 0a2.95 2.95 0 1 0 -5.9 0M709.71 658.75a2.95 2.95 0 1 0 5.9 0a2.95 2.95 0 1 0 -5.9 0M712.05 654.06a2.95 2.95 0 1 0 5.9 0a2.95 2.95 0 1 0 -5.9 0M713.61 661.88a2.95 2.95 0 1 0 5.9 0a2.95 2.95 0 1 0 -5.9 0M716.74 648.75a2.95 2.95 0 1 0 5.9 0a2.95 2.95 0 1 0 -5.9 0M719.86 655.62a2.95 2.95 0 1 0 5.9 0a2.95 2.95 0 1 0 -5.9 0M721.42 648.75a2.95 2.95 0 1 0 5.9 0a2.95 2.95 0 1 0 -5.9 0M722.21 650.94a2.95 2.95 0 1 0 5.9 0a2.95 2.95 0 1 0 -5.9 0M724.55 637.81a2.95 2.95 0 1 0 5.9 0a2.95 2.95 0 1 0 -5.9 0M725.33 630a2.95 2.95 0 1 0 5.9 0a2.95 2.95 0 1 0 -5.9 0M729.24 632.19a2.95 2.95 0 1 0 5.9 0a2.95 2.95 0 1 0 -5.9 0M731.58 638.44a2.95 2.95 0 1 0 5.9 0a2.95 2.95 0 1 0 -5.9 0M733.92 641.56a2.95 2.95 0 1 0 5.9 0a2.95 2.95 0 1 0 -5.9 0M734.71 628.28a2.95 2.95 0 1 0 5.9 0a2.95 2.95 0 1 0 -5.9 0M737.05 640a2.95 2.95 0 1 0 5.9 0a2.95 2.95 0 1 0 -5.9 0M738.61 622.81a2.95 2.95 0 1 0 5.9 0a2.95 2.95 0 1 0 -5.9 0M740.17 620.94a2.95 2.95 0 1 0 5.9 0a2.95 2.95 0 1 0 -5.9 0M741.74 635a2.95 2.95 0 1 0 5.9 0a2.95 2.95 0 1 0 -5.9 0M744.08 617.81a2.95 2.95 0 1 0 5.9 0a2.95 2.95 0 1 0 -5.9 0M744.86 625.62a2.95 2.95 0 1 0 5.9 0a2.95 2.95 0 1 0 -5.9 0M747.21 620.16a2.95 2.95 0 1 0 5.9 0a2.95 2.95 0 1 0 -5.9 0M748.77 627.19a2.95 2.95 0 1 0 5.9 0a2.95 2.95 0 1 0 -5.9 0M750.33 641.25a2.95 2.95 0 1 0 5.9 0a2.95 2.95 0 1 0 -5.9 0M752.67 633.44a2.95 2.95 0 1 0 5.9 0a2.95 2.95 0 1 0 -5.9 0M755.8 629.53a2.95 2.95 0 1 0 5.9 0a2.95 2.95 0 1 0 -5.9 0M758.92 617.03a2.95 2.95 0 1 0 5.9 0a2.95 2.95 0 1 0 -5.9 0M760.49 631.09a2.95 2.95 0 1 0 5.9 0a2.95 2.95 0 1 0 -5.9 0M764.39 633.44a2.95 2.95 0 1 0 5.9 0a2.95 2.95 0 1 0 -5.9 0M765.96 623.28a2.95 2.95 0 1 0 5.9 0a2.95 2.95 0 1 0 -5.9 0M769.86 625.62a2.95 2.95 0 1 0 5.9 0a2.95 2.95 0 1 0 -5.9 0M771.42 628.75a2.95 2.95 0 1 0 5.9 0a2.95 2.95 0 1 0 -5.9 0M772.21 634.22a2.95 2.95 0 1 0 5.9 0a2.95 2.95 0 1 0 -5.9 0M774.55 630.31a2.95 2.95 0 1 0 5.9 0a2.95 2.95 0 1 0 -5.9 0M775.33 638.12a2.95 2.95 0 1 0 5.9 0a2.95 2.95 0 1 0 -5.9 0M776.89 628.75a2.95 2.95 0 1 0 5.9 0a2.95 2.95 0 1 0 -5.9 0M778.46 636.56a2.95 2.95 0 1 0 5.9 0a2.95 2.95 0 1 0 -5.9 0M780.8 641.25a2.95 2.95 0 1 0 5.9 0a2.95 2.95 0 1 0 -5.9 0M783.92 639.69a2.95 2.95 0 1 0 5.9 0a2.95 2.95 0 1 0 -5.9 0M787.05 627.19a2.95 2.95 0 1 0 5.9 0a2.95 2.95 0 1 0 -5.9 0M788.61 644.38a2.95 2.95 0 1 0 5.9 0a2.95 2.95 0 1 0 -5.9 0M790.96 660a2.95 2.95 0 1 0 5.9 0a2.95 2.95 0 1 0 -5.9 0M791.74 653.75a2.95 2.95 0 1 0 5.9 0a2.95 2.95 0 1 0 -5.9 0M794.08 674.06a2.95 2.95 0 1 0 5.9 0a2.95 2.95 0 1 0 -5.9 0M797.21 667.81a2.95 2.95 0 1 0 5.9 0a2.95 2.95 0 1 0 -5.9 0M800.33 664.69a2.95 2.95 0 1 0 5.9 0a2.95 2.95 0 1 0 -5.9 0M802.67 660.78a2.95 2.95 0 1 0 5.9 0a2.95 2.95 0 1 0 -5.9 0M805.02 652.97a2.95 2.95 0 1 0 5.9 0a2.95 2.95 0 1 0 -5.9 0M808.14 649.06a2.95 2.95 0 1 0 5.9 0a2.95 2.95 0 1 0 -5.9 0M810.49 641.25a2.95 2.95 0 1 0 5.9 0a2.95 2.95 0 1 0 -5.9 0M812.05 639.69a2.95 2.95 0 1 0 5.9 0a2.95 2.95 0 1 0 -5.9 0M813.61 645.16a2.95 2.95 0 1 0 5.9 0a2.95 2.95 0 1 0 -5.9 0M815.96 643.59a2.95 2.95 0 1 0 5.9 0a2.95 2.95 0 1 0 -5.9 0M816.74 654.53a2.95 2.95 0 1 0 5.9 0a2.95 2.95 0 1 0 -5.9 0M818.3 625.62a2.95 2.95 0 1 0 5.9 0a2.95 2.95 0 1 0 -5.9 0M822.21 626.41a2.95 2.95 0 1 0 5.9 0a2.95 2.95 0 1 0 -5.9 0M826.11 628.75a2.95 2.95 0 1 0 5.9 0a2.95 2.95 0 1 0 -5.9 0M827.67 636.56a2.95 2.95 0 1 0 5.9 0a2.95 2.95 0 1 0 -5.9 0M830.8 631.88a2.95 2.95 0 1 0 5.9 0a2.95 2.95 0 1 0 -5.9 0M833.14 633.44a2.95 2.95 0 1 0 5.9 0a2.95 2.95 0 1 0 -5.9 0M834.71 645.16a2.95 2.95 0 1 0 5.9 0a2.95 2.95 0 1 0 -5.9 0M840.17 645.16a2.95 2.95 0 1 0 5.9 0a2.95 2.95 0 1 0 -5.9 0M841.74 653.75a2.95 2.95 0 1 0 5.9 0a2.95 2.95 0 1 0 -5.9 0M841.74 660a2.95 2.95 0 1 0 5.9 0a2.95 2.95 0 1 0 -5.9 0M845.64 653.75a2.95 2.95 0 1 0 5.9 0a2.95 2.95 0 1 0 -5.9 0M847.99 663.12a2.95 2.95 0 1 0 5.9 0a2.95 2.95 0 1 0 -5.9 0M851.11 663.12a2.95 2.95 0 1 0 5.9 0a2.95 2.95 0 1 0 -5.9 0M853.46 658.44a2.95 2.95 0 1 0 5.9 0a2.95 2.95 0 1 0 -5.9 0M857.36 645.16a2.95 2.95 0 1 0 5.9 0a2.95 2.95 0 1 0 -5.9 0M860.49 561.56a2.95 2.95 0 1 0 5.9 0a2.95 2.95 0 1 0 -5.9 0M860.49 645.94a2.95 2.95 0 1 0 5.9 0a2.95 2.95 0 1 0 -5.9 0M862.05 633.44a2.95 2.95 0 1 0 5.9 0a2.95 2.95 0 1 0 -5.9 0M864.39 646.72a2.95 2.95 0 1 0 5.9 0a2.95 2.95 0 1 0 -5.9 0M865.96 639.69a2.95 2.95 0 1 0 5.9 0a2.95 2.95 0 1 0 -5.9 0M867.52 602.19a2.95 2.95 0 1 0 5.9 0a2.95 2.95 0 1 0 -5.9 0M869.08 618.59a2.95 2.95 0 1 0 5.9 0a2.95 2.95 0 1 0 -5.9 0M870.64 630.31a2.95 2.95 0 1 0 5.9 0a2.95 2.95 0 1 0 -5.9 0M398.93 627.73a2.95 2.95 0 1 0 5.9 0a2.95 2.95 0 1 0 -5.9 0M450.1 578.91a2.95 2.95 0 1 0 5.9 0a2.95 2.95 0 1 0 -5.9 0M484 596.88a2.95 2.95 0 1 0 5.9 0a2.95 2.95 0 1 0 -5.9 0M516.82 555.08a2.95 2.95 0 1 0 5.9 0a2.95 2.95 0 1 0 -5.9 0M520.72 554.3a2.95 2.95 0 1 0 5.9 0a2.95 2.95 0 1 0 -5.9 0M820.25 626.02a2.95 2.95 0 1 0 5.9 0a2.95 2.95 0 1 0 -5.9 0M837.44 645.16a2.95 2.95 0 1 0 5.9 0a2.95 2.95 0 1 0 -5.9 0" fill="#d7b763" clip-path="url(#cb)"/>
<path d="M1031.15 252.49a2.5 2.5 0 1 0 5 0a2.5 2.5 0 1 0 -5 0M1035.86 260.73a2.5 2.5 0 1 0 5 0a2.5 2.5 0 1 0 -5 0M1040.56 260.73a2.5 2.5 0 1 0 5 0a2.5 2.5 0 1 0 -5 0M1045.27 252.49a2.5 2.5 0 1 0 5 0a2.5 2.5 0 1 0 -5 0M1049.98 268.98a2.5 2.5 0 1 0 5 0a2.5 2.5 0 1 0 -5 0M1049.98 264.86a2.5 2.5 0 1 0 5 0a2.5 2.5 0 1 0 -5 0M1049.98 256.61a2.5 2.5 0 1 0 5 0a2.5 2.5 0 1 0 -5 0M1049.98 248.37a2.5 2.5 0 1 0 5 0a2.5 2.5 0 1 0 -5 0M1049.98 244.24a2.5 2.5 0 1 0 5 0a2.5 2.5 0 1 0 -5 0M1054.68 252.49a2.5 2.5 0 1 0 5 0a2.5 2.5 0 1 0 -5 0M1054.68 244.24a2.5 2.5 0 1 0 5 0a2.5 2.5 0 1 0 -5 0M1054.68 236a2.5 2.5 0 1 0 5 0a2.5 2.5 0 1 0 -5 0M1054.68 231.87a2.5 2.5 0 1 0 5 0a2.5 2.5 0 1 0 -5 0M1059.39 264.86a2.5 2.5 0 1 0 5 0a2.5 2.5 0 1 0 -5 0M1059.39 244.24a2.5 2.5 0 1 0 5 0a2.5 2.5 0 1 0 -5 0M1059.39 207.13a2.5 2.5 0 1 0 5 0a2.5 2.5 0 1 0 -5 0M1064.1 256.61a2.5 2.5 0 1 0 5 0a2.5 2.5 0 1 0 -5 0M1064.1 252.49a2.5 2.5 0 1 0 5 0a2.5 2.5 0 1 0 -5 0M1064.1 248.37a2.5 2.5 0 1 0 5 0a2.5 2.5 0 1 0 -5 0M1064.1 244.24a2.5 2.5 0 1 0 5 0a2.5 2.5 0 1 0 -5 0M1064.1 240.12a2.5 2.5 0 1 0 5 0a2.5 2.5 0 1 0 -5 0M1064.1 236a2.5 2.5 0 1 0 5 0a2.5 2.5 0 1 0 -5 0M1068.81 268.98a2.5 2.5 0 1 0 5 0a2.5 2.5 0 1 0 -5 0M1068.81 260.73a2.5 2.5 0 1 0 5 0a2.5 2.5 0 1 0 -5 0M1068.81 256.61a2.5 2.5 0 1 0 5 0a2.5 2.5 0 1 0 -5 0M1068.81 252.49a2.5 2.5 0 1 0 5 0a2.5 2.5 0 1 0 -5 0M1068.81 248.37a2.5 2.5 0 1 0 5 0a2.5 2.5 0 1 0 -5 0M1068.81 244.24a2.5 2.5 0 1 0 5 0a2.5 2.5 0 1 0 -5 0M1068.81 240.12a2.5 2.5 0 1 0 5 0a2.5 2.5 0 1 0 -5 0M1068.81 236a2.5 2.5 0 1 0 5 0a2.5 2.5 0 1 0 -5 0M1068.81 223.63a2.5 2.5 0 1 0 5 0a2.5 2.5 0 1 0 -5 0M1073.51 248.37a2.5 2.5 0 1 0 5 0a2.5 2.5 0 1 0 -5 0M1073.51 244.24a2.5 2.5 0 1 0 5 0a2.5 2.5 0 1 0 -5 0M1073.51 240.12a2.5 2.5 0 1 0 5 0a2.5 2.5 0 1 0 -5 0M1073.51 236a2.5 2.5 0 1 0 5 0a2.5 2.5 0 1 0 -5 0M1073.51 231.87a2.5 2.5 0 1 0 5 0a2.5 2.5 0 1 0 -5 0M1073.51 227.75a2.5 2.5 0 1 0 5 0a2.5 2.5 0 1 0 -5 0M1078.22 252.49a2.5 2.5 0 1 0 5 0a2.5 2.5 0 1 0 -5 0M1078.22 248.37a2.5 2.5 0 1 0 5 0a2.5 2.5 0 1 0 -5 0M1078.22 244.24a2.5 2.5 0 1 0 5 0a2.5 2.5 0 1 0 -5 0M1078.22 240.12a2.5 2.5 0 1 0 5 0a2.5 2.5 0 1 0 -5 0M1078.22 236a2.5 2.5 0 1 0 5 0a2.5 2.5 0 1 0 -5 0M1078.22 231.87a2.5 2.5 0 1 0 5 0a2.5 2.5 0 1 0 -5 0M1078.22 223.63a2.5 2.5 0 1 0 5 0a2.5 2.5 0 1 0 -5 0M1078.22 215.38a2.5 2.5 0 1 0 5 0a2.5 2.5 0 1 0 -5 0M1082.93 256.61a2.5 2.5 0 1 0 5 0a2.5 2.5 0 1 0 -5 0M1082.93 252.49a2.5 2.5 0 1 0 5 0a2.5 2.5 0 1 0 -5 0M1082.93 248.37a2.5 2.5 0 1 0 5 0a2.5 2.5 0 1 0 -5 0M1082.93 244.24a2.5 2.5 0 1 0 5 0a2.5 2.5 0 1 0 -5 0M1082.93 240.12a2.5 2.5 0 1 0 5 0a2.5 2.5 0 1 0 -5 0M1082.93 227.75a2.5 2.5 0 1 0 5 0a2.5 2.5 0 1 0 -5 0M1082.93 223.63a2.5 2.5 0 1 0 5 0a2.5 2.5 0 1 0 -5 0M1082.93 215.38a2.5 2.5 0 1 0 5 0a2.5 2.5 0 1 0 -5 0M1087.63 252.49a2.5 2.5 0 1 0 5 0a2.5 2.5 0 1 0 -5 0M1087.63 248.37a2.5 2.5 0 1 0 5 0a2.5 2.5 0 1 0 -5 0M1087.63 244.24a2.5 2.5 0 1 0 5 0a2.5 2.5 0 1 0 -5 0M1087.63 240.12a2.5 2.5 0 1 0 5 0a2.5 2.5 0 1 0 -5 0M1087.63 227.75a2.5 2.5 0 1 0 5 0a2.5 2.5 0 1 0 -5 0M1087.63 223.63a2.5 2.5 0 1 0 5 0a2.5 2.5 0 1 0 -5 0M1087.63 215.38a2.5 2.5 0 1 0 5 0a2.5 2.5 0 1 0 -5 0M1092.34 256.61a2.5 2.5 0 1 0 5 0a2.5 2.5 0 1 0 -5 0M1092.34 252.49a2.5 2.5 0 1 0 5 0a2.5 2.5 0 1 0 -5 0M1092.34 248.37a2.5 2.5 0 1 0 5 0a2.5 2.5 0 1 0 -5 0M1092.34 240.12a2.5 2.5 0 1 0 5 0a2.5 2.5 0 1 0 -5 0M1092.34 236a2.5 2.5 0 1 0 5 0a2.5 2.5 0 1 0 -5 0M1092.34 231.87a2.5 2.5 0 1 0 5 0a2.5 2.5 0 1 0 -5 0M1092.34 227.75a2.5 2.5 0 1 0 5 0a2.5 2.5 0 1 0 -5 0M1092.34 223.63a2.5 2.5 0 1 0 5 0a2.5 2.5 0 1 0 -5 0M1092.34 207.13a2.5 2.5 0 1 0 5 0a2.5 2.5 0 1 0 -5 0M1092.34 186.52a2.5 2.5 0 1 0 5 0a2.5 2.5 0 1 0 -5 0M1097.05 248.37a2.5 2.5 0 1 0 5 0a2.5 2.5 0 1 0 -5 0M1097.05 244.24a2.5 2.5 0 1 0 5 0a2.5 2.5 0 1 0 -5 0M1097.05 240.12a2.5 2.5 0 1 0 5 0a2.5 2.5 0 1 0 -5 0M1097.05 236a2.5 2.5 0 1 0 5 0a2.5 2.5 0 1 0 -5 0M1097.05 231.87a2.5 2.5 0 1 0 5 0a2.5 2.5 0 1 0 -5 0M1097.05 227.75a2.5 2.5 0 1 0 5 0a2.5 2.5 0 1 0 -5 0M1097.05 219.5a2.5 2.5 0 1 0 5 0a2.5 2.5 0 1 0 -5 0M1097.05 190.64a2.5 2.5 0 1 0 5 0a2.5 2.5 0 1 0 -5 0M1101.75 244.24a2.5 2.5 0 1 0 5 0a2.5 2.5 0 1 0 -5 0M1101.75 240.12a2.5 2.5 0 1 0 5 0a2.5 2.5 0 1 0 -5 0M1101.75 236a2.5 2.5 0 1 0 5 0a2.5 2.5 0 1 0 -5 0M1101.75 231.87a2.5 2.5 0 1 0 5 0a2.5 2.5 0 1 0 -5 0M1101.75 227.75a2.5 2.5 0 1 0 5 0a2.5 2.5 0 1 0 -5 0M1101.75 223.63a2.5 2.5 0 1 0 5 0a2.5 2.5 0 1 0 -5 0M1101.75 211.26a2.5 2.5 0 1 0 5 0a2.5 2.5 0 1 0 -5 0M1101.75 207.13a2.5 2.5 0 1 0 5 0a2.5 2.5 0 1 0 -5 0M1101.75 203.01a2.5 2.5 0 1 0 5 0a2.5 2.5 0 1 0 -5 0M1101.75 198.89a2.5 2.5 0 1 0 5 0a2.5 2.5 0 1 0 -5 0M1106.46 244.24a2.5 2.5 0 1 0 5 0a2.5 2.5 0 1 0 -5 0M1106.46 240.12a2.5 2.5 0 1 0 5 0a2.5 2.5 0 1 0 -5 0M1106.46 236a2.5 2.5 0 1 0 5 0a2.5 2.5 0 1 0 -5 0M1106.46 231.87a2.5 2.5 0 1 0 5 0a2.5 2.5 0 1 0 -5 0M1106.46 227.75a2.5 2.5 0 1 0 5 0a2.5 2.5 0 1 0 -5 0M1106.46 223.63a2.5 2.5 0 1 0 5 0a2.5 2.5 0 1 0 -5 0M1106.46 207.13a2.5 2.5 0 1 0 5 0a2.5 2.5 0 1 0 -5 0M1106.46 198.89a2.5 2.5 0 1 0 5 0a2.5 2.5 0 1 0 -5 0M1106.46 194.77a2.5 2.5 0 1 0 5 0a2.5 2.5 0 1 0 -5 0M1106.46 186.52a2.5 2.5 0 1 0 5 0a2.5 2.5 0 1 0 -5 0M1111.17 240.12a2.5 2.5 0 1 0 5 0a2.5 2.5 0 1 0 -5 0M1111.17 231.87a2.5 2.5 0 1 0 5 0a2.5 2.5 0 1 0 -5 0M1111.17 223.63a2.5 2.5 0 1 0 5 0a2.5 2.5 0 1 0 -5 0M1111.17 219.5a2.5 2.5 0 1 0 5 0a2.5 2.5 0 1 0 -5 0M1115.88 227.75a2.5 2.5 0 1 0 5 0a2.5 2.5 0 1 0 -5 0M1115.88 219.5a2.5 2.5 0 1 0 5 0a2.5 2.5 0 1 0 -5 0M1115.88 211.26a2.5 2.5 0 1 0 5 0a2.5 2.5 0 1 0 -5 0M1115.88 207.13a2.5 2.5 0 1 0 5 0a2.5 2.5 0 1 0 -5 0M1115.88 203.01a2.5 2.5 0 1 0 5 0a2.5 2.5 0 1 0 -5 0M1115.88 190.64a2.5 2.5 0 1 0 5 0a2.5 2.5 0 1 0 -5 0M1120.58 240.12a2.5 2.5 0 1 0 5 0a2.5 2.5 0 1 0 -5 0M1120.58 219.5a2.5 2.5 0 1 0 5 0a2.5 2.5 0 1 0 -5 0M1120.58 194.77a2.5 2.5 0 1 0 5 0a2.5 2.5 0 1 0 -5 0M1125.29 207.13a2.5 2.5 0 1 0 5 0a2.5 2.5 0 1 0 -5 0M1125.29 186.52a2.5 2.5 0 1 0 5 0a2.5 2.5 0 1 0 -5 0M1125.29 182.4a2.5 2.5 0 1 0 5 0a2.5 2.5 0 1 0 -5 0M1130 215.38a2.5 2.5 0 1 0 5 0a2.5 2.5 0 1 0 -5 0M1130 207.13a2.5 2.5 0 1 0 5 0a2.5 2.5 0 1 0 -5 0M1130 203.01a2.5 2.5 0 1 0 5 0a2.5 2.5 0 1 0 -5 0M1130 190.64a2.5 2.5 0 1 0 5 0a2.5 2.5 0 1 0 -5 0M1130 186.52a2.5 2.5 0 1 0 5 0a2.5 2.5 0 1 0 -5 0M1130 182.4a2.5 2.5 0 1 0 5 0a2.5 2.5 0 1 0 -5 0M1134.7 198.89a2.5 2.5 0 1 0 5 0a2.5 2.5 0 1 0 -5 0M1134.7 186.52a2.5 2.5 0 1 0 5 0a2.5 2.5 0 1 0 -5 0M1134.7 182.4a2.5 2.5 0 1 0 5 0a2.5 2.5 0 1 0 -5 0M1134.7 178.27a2.5 2.5 0 1 0 5 0a2.5 2.5 0 1 0 -5 0M1134.7 174.15a2.5 2.5 0 1 0 5 0a2.5 2.5 0 1 0 -5 0M1134.7 153.54a2.5 2.5 0 1 0 5 0a2.5 2.5 0 1 0 -5 0M1139.41 215.38a2.5 2.5 0 1 0 5 0a2.5 2.5 0 1 0 -5 0M1139.41 174.15a2.5 2.5 0 1 0 5 0a2.5 2.5 0 1 0 -5 0M1139.41 170.03a2.5 2.5 0 1 0 5 0a2.5 2.5 0 1 0 -5 0M1139.41 153.54a2.5 2.5 0 1 0 5 0a2.5 2.5 0 1 0 -5 0M1144.12 207.13a2.5 2.5 0 1 0 5 0a2.5 2.5 0 1 0 -5 0M1144.12 203.01a2.5 2.5 0 1 0 5 0a2.5 2.5 0 1 0 -5 0M1144.12 178.27a2.5 2.5 0 1 0 5 0a2.5 2.5 0 1 0 -5 0M1144.12 165.91a2.5 2.5 0 1 0 5 0a2.5 2.5 0 1 0 -5 0M1148.82 211.26a2.5 2.5 0 1 0 5 0a2.5 2.5 0 1 0 -5 0M1148.82 198.89a2.5 2.5 0 1 0 5 0a2.5 2.5 0 1 0 -5 0M1148.82 194.77a2.5 2.5 0 1 0 5 0a2.5 2.5 0 1 0 -5 0M1148.82 190.64a2.5 2.5 0 1 0 5 0a2.5 2.5 0 1 0 -5 0M1148.82 161.78a2.5 2.5 0 1 0 5 0a2.5 2.5 0 1 0 -5 0M1153.53 198.89a2.5 2.5 0 1 0 5 0a2.5 2.5 0 1 0 -5 0M1153.53 165.91a2.5 2.5 0 1 0 5 0a2.5 2.5 0 1 0 -5 0M1153.53 141.17a2.5 2.5 0 1 0 5 0a2.5 2.5 0 1 0 -5 0M1153.53 137.04a2.5 2.5 0 1 0 5 0a2.5 2.5 0 1 0 -5 0M1153.53 132.92a2.5 2.5 0 1 0 5 0a2.5 2.5 0 1 0 -5 0M1158.24 190.64a2.5 2.5 0 1 0 5 0a2.5 2.5 0 1 0 -5 0M1158.24 186.52a2.5 2.5 0 1 0 5 0a2.5 2.5 0 1 0 -5 0M1158.24 174.15a2.5 2.5 0 1 0 5 0a2.5 2.5 0 1 0 -5 0M1158.24 165.91a2.5 2.5 0 1 0 5 0a2.5 2.5 0 1 0 -5 0M1158.24 161.78a2.5 2.5 0 1 0 5 0a2.5 2.5 0 1 0 -5 0M1158.24 157.66a2.5 2.5 0 1 0 5 0a2.5 2.5 0 1 0 -5 0M1158.24 153.54a2.5 2.5 0 1 0 5 0a2.5 2.5 0 1 0 -5 0M1158.24 145.29a2.5 2.5 0 1 0 5 0a2.5 2.5 0 1 0 -5 0M1162.95 203.01a2.5 2.5 0 1 0 5 0a2.5 2.5 0 1 0 -5 0M1162.95 194.77a2.5 2.5 0 1 0 5 0a2.5 2.5 0 1 0 -5 0M1162.95 186.52a2.5 2.5 0 1 0 5 0a2.5 2.5 0 1 0 -5 0M1162.95 178.27a2.5 2.5 0 1 0 5 0a2.5 2.5 0 1 0 -5 0M1162.95 174.15a2.5 2.5 0 1 0 5 0a2.5 2.5 0 1 0 -5 0M1162.95 170.03a2.5 2.5 0 1 0 5 0a2.5 2.5 0 1 0 -5 0M1162.95 165.91a2.5 2.5 0 1 0 5 0a2.5 2.5 0 1 0 -5 0M1162.95 157.66a2.5 2.5 0 1 0 5 0a2.5 2.5 0 1 0 -5 0M1162.95 149.41a2.5 2.5 0 1 0 5 0a2.5 2.5 0 1 0 -5 0M1167.65 194.77a2.5 2.5 0 1 0 5 0a2.5 2.5 0 1 0 -5 0M1167.65 178.27a2.5 2.5 0 1 0 5 0a2.5 2.5 0 1 0 -5 0M1167.65 174.15a2.5 2.5 0 1 0 5 0a2.5 2.5 0 1 0 -5 0M1167.65 170.03a2.5 2.5 0 1 0 5 0a2.5 2.5 0 1 0 -5 0M1167.65 165.91a2.5 2.5 0 1 0 5 0a2.5 2.5 0 1 0 -5 0M1167.65 149.41a2.5 2.5 0 1 0 5 0a2.5 2.5 0 1 0 -5 0M1167.65 145.29a2.5 2.5 0 1 0 5 0a2.5 2.5 0 1 0 -5 0M1167.65 141.17a2.5 2.5 0 1 0 5 0a2.5 2.5 0 1 0 -5 0M1167.65 137.04a2.5 2.5 0 1 0 5 0a2.5 2.5 0 1 0 -5 0M1167.65 124.68a2.5 2.5 0 1 0 5 0a2.5 2.5 0 1 0 -5 0M1167.65 120.55a2.5 2.5 0 1 0 5 0a2.5 2.5 0 1 0 -5 0M1172.36 194.77a2.5 2.5 0 1 0 5 0a2.5 2.5 0 1 0 -5 0M1172.36 182.4a2.5 2.5 0 1 0 5 0a2.5 2.5 0 1 0 -5 0M1172.36 170.03a2.5 2.5 0 1 0 5 0a2.5 2.5 0 1 0 -5 0M1172.36 157.66a2.5 2.5 0 1 0 5 0a2.5 2.5 0 1 0 -5 0M1172.36 149.41a2.5 2.5 0 1 0 5 0a2.5 2.5 0 1 0 -5 0M1172.36 137.04a2.5 2.5 0 1 0 5 0a2.5 2.5 0 1 0 -5 0M1177.07 182.4a2.5 2.5 0 1 0 5 0a2.5 2.5 0 1 0 -5 0M1177.07 174.15a2.5 2.5 0 1 0 5 0a2.5 2.5 0 1 0 -5 0M1177.07 165.91a2.5 2.5 0 1 0 5 0a2.5 2.5 0 1 0 -5 0M1177.07 161.78a2.5 2.5 0 1 0 5 0a2.5 2.5 0 1 0 -5 0M1177.07 149.41a2.5 2.5 0 1 0 5 0a2.5 2.5 0 1 0 -5 0M1177.07 137.04a2.5 2.5 0 1 0 5 0a2.5 2.5 0 1 0 -5 0M1177.07 128.8a2.5 2.5 0 1 0 5 0a2.5 2.5 0 1 0 -5 0M1181.77 190.64a2.5 2.5 0 1 0 5 0a2.5 2.5 0 1 0 -5 0M1181.77 186.52a2.5 2.5 0 1 0 5 0a2.5 2.5 0 1 0 -5 0M1181.77 182.4a2.5 2.5 0 1 0 5 0a2.5 2.5 0 1 0 -5 0M1181.77 178.27a2.5 2.5 0 1 0 5 0a2.5 2.5 0 1 0 -5 0M1181.77 174.15a2.5 2.5 0 1 0 5 0a2.5 2.5 0 1 0 -5 0M1181.77 170.03a2.5 2.5 0 1 0 5 0a2.5 2.5 0 1 0 -5 0M1181.77 145.29a2.5 2.5 0 1 0 5 0a2.5 2.5 0 1 0 -5 0M1181.77 137.04a2.5 2.5 0 1 0 5 0a2.5 2.5 0 1 0 -5 0M1181.77 120.55a2.5 2.5 0 1 0 5 0a2.5 2.5 0 1 0 -5 0M1181.77 116.43a2.5 2.5 0 1 0 5 0a2.5 2.5 0 1 0 -5 0M1181.77 112.31a2.5 2.5 0 1 0 5 0a2.5 2.5 0 1 0 -5 0M1181.77 99.94a2.5 2.5 0 1 0 5 0a2.5 2.5 0 1 0 -5 0M1186.48 186.52a2.5 2.5 0 1 0 5 0a2.5 2.5 0 1 0 -5 0M1186.48 178.27a2.5 2.5 0 1 0 5 0a2.5 2.5 0 1 0 -5 0M1186.48 170.03a2.5 2.5 0 1 0 5 0a2.5 2.5 0 1 0 -5 0M1186.48 165.91a2.5 2.5 0 1 0 5 0a2.5 2.5 0 1 0 -5 0M1186.48 157.66a2.5 2.5 0 1 0 5 0a2.5 2.5 0 1 0 -5 0M1186.48 145.29a2.5 2.5 0 1 0 5 0a2.5 2.5 0 1 0 -5 0M1186.48 137.04a2.5 2.5 0 1 0 5 0a2.5 2.5 0 1 0 -5 0M1186.48 132.92a2.5 2.5 0 1 0 5 0a2.5 2.5 0 1 0 -5 0M1186.48 128.8a2.5 2.5 0 1 0 5 0a2.5 2.5 0 1 0 -5 0M1186.48 112.31a2.5 2.5 0 1 0 5 0a2.5 2.5 0 1 0 -5 0M1191.19 186.52a2.5 2.5 0 1 0 5 0a2.5 2.5 0 1 0 -5 0M1191.19 182.4a2.5 2.5 0 1 0 5 0a2.5 2.5 0 1 0 -5 0M1191.19 178.27a2.5 2.5 0 1 0 5 0a2.5 2.5 0 1 0 -5 0M1191.19 174.15a2.5 2.5 0 1 0 5 0a2.5 2.5 0 1 0 -5 0M1191.19 165.91a2.5 2.5 0 1 0 5 0a2.5 2.5 0 1 0 -5 0M1191.19 141.17a2.5 2.5 0 1 0 5 0a2.5 2.5 0 1 0 -5 0M1191.19 128.8a2.5 2.5 0 1 0 5 0a2.5 2.5 0 1 0 -5 0M1195.89 178.27a2.5 2.5 0 1 0 5 0a2.5 2.5 0 1 0 -5 0M1195.89 165.91a2.5 2.5 0 1 0 5 0a2.5 2.5 0 1 0 -5 0M1195.89 153.54a2.5 2.5 0 1 0 5 0a2.5 2.5 0 1 0 -5 0M1195.89 145.29a2.5 2.5 0 1 0 5 0a2.5 2.5 0 1 0 -5 0M1195.89 128.8a2.5 2.5 0 1 0 5 0a2.5 2.5 0 1 0 -5 0M1195.89 116.43a2.5 2.5 0 1 0 5 0a2.5 2.5 0 1 0 -5 0M1200.6 153.54a2.5 2.5 0 1 0 5 0a2.5 2.5 0 1 0 -5 0M1200.6 141.17a2.5 2.5 0 1 0 5 0a2.5 2.5 0 1 0 -5 0M1200.6 137.04a2.5 2.5 0 1 0 5 0a2.5 2.5 0 1 0 -5 0M1200.6 112.31a2.5 2.5 0 1 0 5 0a2.5 2.5 0 1 0 -5 0M1205.31 174.15a2.5 2.5 0 1 0 5 0a2.5 2.5 0 1 0 -5 0M1205.31 153.54a2.5 2.5 0 1 0 5 0a2.5 2.5 0 1 0 -5 0M1205.31 137.04a2.5 2.5 0 1 0 5 0a2.5 2.5 0 1 0 -5 0M1205.31 128.8a2.5 2.5 0 1 0 5 0a2.5 2.5 0 1 0 -5 0M1205.31 120.55a2.5 2.5 0 1 0 5 0a2.5 2.5 0 1 0 -5 0M1210.02 178.27a2.5 2.5 0 1 0 5 0a2.5 2.5 0 1 0 -5 0M1210.02 149.41a2.5 2.5 0 1 0 5 0a2.5 2.5 0 1 0 -5 0M1210.02 141.17a2.5 2.5 0 1 0 5 0a2.5 2.5 0 1 0 -5 0M1210.02 132.92a2.5 2.5 0 1 0 5 0a2.5 2.5 0 1 0 -5 0M1210.02 128.8a2.5 2.5 0 1 0 5 0a2.5 2.5 0 1 0 -5 0M1210.02 116.43a2.5 2.5 0 1 0 5 0a2.5 2.5 0 1 0 -5 0M1214.72 170.03a2.5 2.5 0 1 0 5 0a2.5 2.5 0 1 0 -5 0M1214.72 141.17a2.5 2.5 0 1 0 5 0a2.5 2.5 0 1 0 -5 0M1214.72 132.92a2.5 2.5 0 1 0 5 0a2.5 2.5 0 1 0 -5 0M1219.43 170.03a2.5 2.5 0 1 0 5 0a2.5 2.5 0 1 0 -5 0M1219.43 145.29a2.5 2.5 0 1 0 5 0a2.5 2.5 0 1 0 -5 0M1219.43 137.04a2.5 2.5 0 1 0 5 0a2.5 2.5 0 1 0 -5 0M1219.43 132.92a2.5 2.5 0 1 0 5 0a2.5 2.5 0 1 0 -5 0M1219.43 128.8a2.5 2.5 0 1 0 5 0a2.5 2.5 0 1 0 -5 0M1219.43 124.68a2.5 2.5 0 1 0 5 0a2.5 2.5 0 1 0 -5 0M1219.43 112.31a2.5 2.5 0 1 0 5 0a2.5 2.5 0 1 0 -5 0M1219.43 99.94a2.5 2.5 0 1 0 5 0a2.5 2.5 0 1 0 -5 0M1224.14 157.66a2.5 2.5 0 1 0 5 0a2.5 2.5 0 1 0 -5 0M1224.14 124.68a2.5 2.5 0 1 0 5 0a2.5 2.5 0 1 0 -5 0M1228.84 132.92a2.5 2.5 0 1 0 5 0a2.5 2.5 0 1 0 -5 0M1228.84 116.43a2.5 2.5 0 1 0 5 0a2.5 2.5 0 1 0 -5 0M1233.55 137.04a2.5 2.5 0 1 0 5 0a2.5 2.5 0 1 0 -5 0M1233.55 112.31a2.5 2.5 0 1 0 5 0a2.5 2.5 0 1 0 -5 0M1233.55 108.18a2.5 2.5 0 1 0 5 0a2.5 2.5 0 1 0 -5 0M1238.26 141.17a2.5 2.5 0 1 0 5 0a2.5 2.5 0 1 0 -5 0M1238.26 137.04a2.5 2.5 0 1 0 5 0a2.5 2.5 0 1 0 -5 0M1238.26 99.94a2.5 2.5 0 1 0 5 0a2.5 2.5 0 1 0 -5 0M1238.26 95.81a2.5 2.5 0 1 0 5 0a2.5 2.5 0 1 0 -5 0M1242.96 120.55a2.5 2.5 0 1 0 5 0a2.5 2.5 0 1 0 -5 0M1242.96 91.69a2.5 2.5 0 1 0 5 0a2.5 2.5 0 1 0 -5 0M1247.67 153.54a2.5 2.5 0 1 0 5 0a2.5 2.5 0 1 0 -5 0M1247.67 108.18a2.5 2.5 0 1 0 5 0a2.5 2.5 0 1 0 -5 0M1247.67 104.06a2.5 2.5 0 1 0 5 0a2.5 2.5 0 1 0 -5 0M1252.38 128.8a2.5 2.5 0 1 0 5 0a2.5 2.5 0 1 0 -5 0M1252.38 104.06a2.5 2.5 0 1 0 5 0a2.5 2.5 0 1 0 -5 0M1252.38 99.94a2.5 2.5 0 1 0 5 0a2.5 2.5 0 1 0 -5 0M1257.09 108.18a2.5 2.5 0 1 0 5 0a2.5 2.5 0 1 0 -5 0M1257.09 91.69a2.5 2.5 0 1 0 5 0a2.5 2.5 0 1 0 -5 0M1261.79 128.8a2.5 2.5 0 1 0 5 0a2.5 2.5 0 1 0 -5 0M1261.79 120.55a2.5 2.5 0 1 0 5 0a2.5 2.5 0 1 0 -5 0M1261.79 116.43a2.5 2.5 0 1 0 5 0a2.5 2.5 0 1 0 -5 0M1266.5 112.31a2.5 2.5 0 1 0 5 0a2.5 2.5 0 1 0 -5 0M1266.5 108.18a2.5 2.5 0 1 0 5 0a2.5 2.5 0 1 0 -5 0M1266.5 99.94a2.5 2.5 0 1 0 5 0a2.5 2.5 0 1 0 -5 0M1266.5 95.81a2.5 2.5 0 1 0 5 0a2.5 2.5 0 1 0 -5 0M1271.21 108.18a2.5 2.5 0 1 0 5 0a2.5 2.5 0 1 0 -5 0M1271.21 99.94a2.5 2.5 0 1 0 5 0a2.5 2.5 0 1 0 -5 0M1271.21 95.81a2.5 2.5 0 1 0 5 0a2.5 2.5 0 1 0 -5 0M1275.91 108.18a2.5 2.5 0 1 0 5 0a2.5 2.5 0 1 0 -5 0M1280.62 87.57a2.5 2.5 0 1 0 5 0a2.5 2.5 0 1 0 -5 0M1285.33 95.81a2.5 2.5 0 1 0 5 0a2.5 2.5 0 1 0 -5 0M1294.74 99.94a2.5 2.5 0 1 0 5 0a2.5 2.5 0 1 0 -5 0" fill="#377cbf" clip-path="url(#cc)"/>
<path d="M1036.5 670.5a2.5 2.5 0 1 0 5 0a2.5 2.5 0 1 0 -5 0M1038.3 670.5a2.5 2.5 0 1 0 5 0a2.5 2.5 0 1 0 -5 0M1038.3 693.1a2.5 2.5 0 1 0 5 0a2.5 2.5 0 1 0 -5 0M1041 680.6a2.5 2.5 0 1 0 5 0a2.5 2.5 0 1 0 -5 0M1041 690a2.5 2.5 0 1 0 5 0a2.5 2.5 0 1 0 -5 0M1046.3 686.9a2.5 2.5 0 1 0 5 0a2.5 2.5 0 1 0 -5 0M1050.8 675.9a2.5 2.5 0 1 0 5 0a2.5 2.5 0 1 0 -5 0M1050.8 679.8a2.5 2.5 0 1 0 5 0a2.5 2.5 0 1 0 -5 0M1051.9 661.7a2.5 2.5 0 1 0 5 0a2.5 2.5 0 1 0 -5 0M1056.2 654.1a2.5 2.5 0 1 0 5 0a2.5 2.5 0 1 0 -5 0M1056.2 658.8a2.5 2.5 0 1 0 5 0a2.5 2.5 0 1 0 -5 0M1056.2 659.5a2.5 2.5 0 1 0 5 0a2.5 2.5 0 1 0 -5 0M1056.2 663.4a2.5 2.5 0 1 0 5 0a2.5 2.5 0 1 0 -5 0M1057.2 671.9a2.5 2.5 0 1 0 5 0a2.5 2.5 0 1 0 -5 0M1058.8 672.8a2.5 2.5 0 1 0 5 0a2.5 2.5 0 1 0 -5 0M1060.6 654.1a2.5 2.5 0 1 0 5 0a2.5 2.5 0 1 0 -5 0M1060.6 661.9a2.5 2.5 0 1 0 5 0a2.5 2.5 0 1 0 -5 0M1061.7 671.9a2.5 2.5 0 1 0 5 0a2.5 2.5 0 1 0 -5 0M1062.6 674.2a2.5 2.5 0 1 0 5 0a2.5 2.5 0 1 0 -5 0M1063.3 683.8a2.5 2.5 0 1 0 5 0a2.5 2.5 0 1 0 -5 0M1064.2 669.7a2.5 2.5 0 1 0 5 0a2.5 2.5 0 1 0 -5 0M1064.2 672.8a2.5 2.5 0 1 0 5 0a2.5 2.5 0 1 0 -5 0M1066.2 662.5a2.5 2.5 0 1 0 5 0a2.5 2.5 0 1 0 -5 0M1066.3 663.1a2.5 2.5 0 1 0 5 0a2.5 2.5 0 1 0 -5 0M1069.6 637.8a2.5 2.5 0 1 0 5 0a2.5 2.5 0 1 0 -5 0M1069.6 648.8a2.5 2.5 0 1 0 5 0a2.5 2.5 0 1 0 -5 0M1069.6 650.9a2.5 2.5 0 1 0 5 0a2.5 2.5 0 1 0 -5 0M1072.6 667.8a2.5 2.5 0 1 0 5 0a2.5 2.5 0 1 0 -5 0M1073.3 674.2a2.5 2.5 0 1 0 5 0a2.5 2.5 0 1 0 -5 0M1073.5 602.2a2.5 2.5 0 1 0 5 0a2.5 2.5 0 1 0 -5 0M1073.5 639.7a2.5 2.5 0 1 0 5 0a2.5 2.5 0 1 0 -5 0M1074 634.7a2.5 2.5 0 1 0 5 0a2.5 2.5 0 1 0 -5 0M1074 652.5a2.5 2.5 0 1 0 5 0a2.5 2.5 0 1 0 -5 0M1075.1 668a2.5 2.5 0 1 0 5 0a2.5 2.5 0 1 0 -5 0M1075.3 663.1a2.5 2.5 0 1 0 5 0a2.5 2.5 0 1 0 -5 0M1076 668a2.5 2.5 0 1 0 5 0a2.5 2.5 0 1 0 -5 0M1076.2 664.7a2.5 2.5 0 1 0 5 0a2.5 2.5 0 1 0 -5 0M1076.2 674.1a2.5 2.5 0 1 0 5 0a2.5 2.5 0 1 0 -5 0M1076.9 670.3a2.5 2.5 0 1 0 5 0a2.5 2.5 0 1 0 -5 0M1079.4 638.4a2.5 2.5 0 1 0 5 0a2.5 2.5 0 1 0 -5 0M1079.4 641.6a2.5 2.5 0 1 0 5 0a2.5 2.5 0 1 0 -5 0M1079.6 651.6a2.5 2.5 0 1 0 5 0a2.5 2.5 0 1 0 -5 0M1081 639a2.5 2.5 0 1 0 5 0a2.5 2.5 0 1 0 -5 0M1081 672.8a2.5 2.5 0 1 0 5 0a2.5 2.5 0 1 0 -5 0M1081.2 622.8a2.5 2.5 0 1 0 5 0a2.5 2.5 0 1 0 -5 0M1081.2 640a2.5 2.5 0 1 0 5 0a2.5 2.5 0 1 0 -5 0M1082.7 645.3a2.5 2.5 0 1 0 5 0a2.5 2.5 0 1 0 -5 0M1082.9 632.2a2.5 2.5 0 1 0 5 0a2.5 2.5 0 1 0 -5 0M1084.2 645.2a2.5 2.5 0 1 0 5 0a2.5 2.5 0 1 0 -5 0M1084.5 630a2.5 2.5 0 1 0 5 0a2.5 2.5 0 1 0 -5 0M1084.5 637.8a2.5 2.5 0 1 0 5 0a2.5 2.5 0 1 0 -5 0M1084.9 668a2.5 2.5 0 1 0 5 0a2.5 2.5 0 1 0 -5 0M1085.1 653.8a2.5 2.5 0 1 0 5 0a2.5 2.5 0 1 0 -5 0M1085.1 663.1a2.5 2.5 0 1 0 5 0a2.5 2.5 0 1 0 -5 0M1085.8 636.7a2.5 2.5 0 1 0 5 0a2.5 2.5 0 1 0 -5 0M1085.8 638.3a2.5 2.5 0 1 0 5 0a2.5 2.5 0 1 0 -5 0M1086.9 653a2.5 2.5 0 1 0 5 0a2.5 2.5 0 1 0 -5 0M1086.9 660.8a2.5 2.5 0 1 0 5 0a2.5 2.5 0 1 0 -5 0M1087.8 631.1a2.5 2.5 0 1 0 5 0a2.5 2.5 0 1 0 -5 0M1088.7 618.6a2.5 2.5 0 1 0 5 0a2.5 2.5 0 1 0 -5 0M1088.7 630.3a2.5 2.5 0 1 0 5 0a2.5 2.5 0 1 0 -5 0M1088.7 653.8a2.5 2.5 0 1 0 5 0a2.5 2.5 0 1 0 -5 0M1089.5 645.2a2.5 2.5 0 1 0 5 0a2.5 2.5 0 1 0 -5 0M1090.4 625.6a2.5 2.5 0 1 0 5 0a2.5 2.5 0 1 0 -5 0M1090.4 646.7a2.5 2.5 0 1 0 5 0a2.5 2.5 0 1 0 -5 0M1090.4 649.1a2.5 2.5 0 1 0 5 0a2.5 2.5 0 1 0 -5 0M1090.4 653a2.5 2.5 0 1 0 5 0a2.5 2.5 0 1 0 -5 0M1090.4 654.5a2.5 2.5 0 1 0 5 0a2.5 2.5 0 1 0 -5 0M1091.3 639.7a2.5 2.5 0 1 0 5 0a2.5 2.5 0 1 0 -5 0M1091.3 641.2a2.5 2.5 0 1 0 5 0a2.5 2.5 0 1 0 -5 0M1092.2 643.6a2.5 2.5 0 1 0 5 0a2.5 2.5 0 1 0 -5 0M1092.2 645.2a2.5 2.5 0 1 0 5 0a2.5 2.5 0 1 0 -5 0M1092.2 653.8a2.5 2.5 0 1 0 5 0a2.5 2.5 0 1 0 -5 0M1092.2 658.4a2.5 2.5 0 1 0 5 0a2.5 2.5 0 1 0 -5 0M1092.2 660a2.5 2.5 0 1 0 5 0a2.5 2.5 0 1 0 -5 0M1092.6 675.2a2.5 2.5 0 1 0 5 0a2.5 2.5 0 1 0 -5 0M1093.7 628.3a2.5 2.5 0 1 0 5 0a2.5 2.5 0 1 0 -5 0M1094 561.6a2.5 2.5 0 1 0 5 0a2.5 2.5 0 1 0 -5 0M1094 623.3a2.5 2.5 0 1 0 5 0a2.5 2.5 0 1 0 -5 0M1094 630.3a2.5 2.5 0 1 0 5 0a2.5 2.5 0 1 0 -5 0M1094 633.4a2.5 2.5 0 1 0 5 0a2.5 2.5 0 1 0 -5 0M1094 645.9a2.5 2.5 0 1 0 5 0a2.5 2.5 0 1 0 -5 0M1094.7 625.8a2.5 2.5 0 1 0 5 0a2.5 2.5 0 1 0 -5 0M1094.7 636.7a2.5 2.5 0 1 0 5 0a2.5 2.5 0 1 0 -5 0M1095.8 629.5a2.5 2.5 0 1 0 5 0a2.5 2.5 0 1 0 -5 0M1095.8 639.7a2.5 2.5 0 1 0 5 0a2.5 2.5 0 1 0 -5 0M1095.8 641.2a2.5 2.5 0 1 0 5 0a2.5 2.5 0 1 0 -5 0M1095.8 644.4a2.5 2.5 0 1 0 5 0a2.5 2.5 0 1 0 -5 0M1095.8 660a2.5 2.5 0 1 0 5 0a2.5 2.5 0 1 0 -5 0M1096.7 625.6a2.5 2.5 0 1 0 5 0a2.5 2.5 0 1 0 -5 0M1096.7 627.2a2.5 2.5 0 1 0 5 0a2.5 2.5 0 1 0 -5 0M1096.7 639.7a2.5 2.5 0 1 0 5 0a2.5 2.5 0 1 0 -5 0M1097.6 633.4a2.5 2.5 0 1 0 5 0a2.5 2.5 0 1 0 -5 0M1097.6 641.2a2.5 2.5 0 1 0 5 0a2.5 2.5 0 1 0 -5 0M1098.5 620.2a2.5 2.5 0 1 0 5 0a2.5 2.5 0 1 0 -5 0M1098.5 625.6a2.5 2.5 0 1 0 5 0a2.5 2.5 0 1 0 -5 0M1098.5 627.2a2.5 2.5 0 1 0 5 0a2.5 2.5 0 1 0 -5 0M1099.4 628.8a2.5 2.5 0 1 0 5 0a2.5 2.5 0 1 0 -5 0M1099.4 638.1a2.5 2.5 0 1 0 5 0a2.5 2.5 0 1 0 -5 0M1099.4 645.2a2.5 2.5 0 1 0 5 0a2.5 2.5 0 1 0 -5 0M1100.3 617.8a2.5 2.5 0 1 0 5 0a2.5 2.5 0 1 0 -5 0M1100.3 620.9a2.5 2.5 0 1 0 5 0a2.5 2.5 0 1 0 -5 0M1100.3 635a2.5 2.5 0 1 0 5 0a2.5 2.5 0 1 0 -5 0M1101.2 629.5a2.5 2.5 0 1 0 5 0a2.5 2.5 0 1 0 -5 0M1101.2 633.4a2.5 2.5 0 1 0 5 0a2.5 2.5 0 1 0 -5 0M1102.9 631.9a2.5 2.5 0 1 0 5 0a2.5 2.5 0 1 0 -5 0M1103.3 593.3a2.5 2.5 0 1 0 5 0a2.5 2.5 0 1 0 -5 0M1103.3 613.6a2.5 2.5 0 1 0 5 0a2.5 2.5 0 1 0 -5 0M1103.7 628.1a2.5 2.5 0 1 0 5 0a2.5 2.5 0 1 0 -5 0M1103.7 633.3a2.5 2.5 0 1 0 5 0a2.5 2.5 0 1 0 -5 0M1103.8 636.6a2.5 2.5 0 1 0 5 0a2.5 2.5 0 1 0 -5 0M1105.6 630.3a2.5 2.5 0 1 0 5 0a2.5 2.5 0 1 0 -5 0M1105.6 631.1a2.5 2.5 0 1 0 5 0a2.5 2.5 0 1 0 -5 0M1105.6 634.2a2.5 2.5 0 1 0 5 0a2.5 2.5 0 1 0 -5 0M1105.6 638.1a2.5 2.5 0 1 0 5 0a2.5 2.5 0 1 0 -5 0M1106.9 615.2a2.5 2.5 0 1 0 5 0a2.5 2.5 0 1 0 -5 0M1107.2 668a2.5 2.5 0 1 0 5 0a2.5 2.5 0 1 0 -5 0M1108.1 627.3a2.5 2.5 0 1 0 5 0a2.5 2.5 0 1 0 -5 0M1108.1 632.3a2.5 2.5 0 1 0 5 0a2.5 2.5 0 1 0 -5 0M1109 607a2.5 2.5 0 1 0 5 0a2.5 2.5 0 1 0 -5 0M1109 625.8a2.5 2.5 0 1 0 5 0a2.5 2.5 0 1 0 -5 0M1109.2 626.4a2.5 2.5 0 1 0 5 0a2.5 2.5 0 1 0 -5 0M1109.2 629.5a2.5 2.5 0 1 0 5 0a2.5 2.5 0 1 0 -5 0M1109.2 636.6a2.5 2.5 0 1 0 5 0a2.5 2.5 0 1 0 -5 0M1109.2 645.2a2.5 2.5 0 1 0 5 0a2.5 2.5 0 1 0 -5 0M1109.5 582.3a2.5 2.5 0 1 0 5 0a2.5 2.5 0 1 0 -5 0M1109.5 610.5a2.5 2.5 0 1 0 5 0a2.5 2.5 0 1 0 -5 0M1111 633.4a2.5 2.5 0 1 0 5 0a2.5 2.5 0 1 0 -5 0M1113.6 617a2.5 2.5 0 1 0 5 0a2.5 2.5 0 1 0 -5 0M1114.4 626.6a2.5 2.5 0 1 0 5 0a2.5 2.5 0 1 0 -5 0M1114.4 631.3a2.5 2.5 0 1 0 5 0a2.5 2.5 0 1 0 -5 0M1114.9 611.2a2.5 2.5 0 1 0 5 0a2.5 2.5 0 1 0 -5 0M1116.3 628.8a2.5 2.5 0 1 0 5 0a2.5 2.5 0 1 0 -5 0M1116.5 618.8a2.5 2.5 0 1 0 5 0a2.5 2.5 0 1 0 -5 0M1117.6 619.1a2.5 2.5 0 1 0 5 0a2.5 2.5 0 1 0 -5 0M1118.8 620.3a2.5 2.5 0 1 0 5 0a2.5 2.5 0 1 0 -5 0M1120.6 607a2.5 2.5 0 1 0 5 0a2.5 2.5 0 1 0 -5 0M1123.3 605.5a2.5 2.5 0 1 0 5 0a2.5 2.5 0 1 0 -5 0M1123.3 614.1a2.5 2.5 0 1 0 5 0a2.5 2.5 0 1 0 -5 0M1124.2 582a2.5 2.5 0 1 0 5 0a2.5 2.5 0 1 0 -5 0M1124.2 585.2a2.5 2.5 0 1 0 5 0a2.5 2.5 0 1 0 -5 0M1124.2 590.6a2.5 2.5 0 1 0 5 0a2.5 2.5 0 1 0 -5 0M1124.7 582.3a2.5 2.5 0 1 0 5 0a2.5 2.5 0 1 0 -5 0M1124.7 611.2a2.5 2.5 0 1 0 5 0a2.5 2.5 0 1 0 -5 0M1124.7 615.2a2.5 2.5 0 1 0 5 0a2.5 2.5 0 1 0 -5 0M1124.7 626.9a2.5 2.5 0 1 0 5 0a2.5 2.5 0 1 0 -5 0M1128.6 610.2a2.5 2.5 0 1 0 5 0a2.5 2.5 0 1 0 -5 0M1130.1 594.1a2.5 2.5 0 1 0 5 0a2.5 2.5 0 1 0 -5 0M1130.1 606.6a2.5 2.5 0 1 0 5 0a2.5 2.5 0 1 0 -5 0M1130.1 615.2a2.5 2.5 0 1 0 5 0a2.5 2.5 0 1 0 -5 0M1130.4 607.8a2.5 2.5 0 1 0 5 0a2.5 2.5 0 1 0 -5 0M1132.2 582a2.5 2.5 0 1 0 5 0a2.5 2.5 0 1 0 -5 0M1132.2 595.3a2.5 2.5 0 1 0 5 0a2.5 2.5 0 1 0 -5 0M1132.2 661.7a2.5 2.5 0 1 0 5 0a2.5 2.5 0 1 0 -5 0M1134 605.5a2.5 2.5 0 1 0 5 0a2.5 2.5 0 1 0 -5 0M1134.9 604.7a2.5 2.5 0 1 0 5 0a2.5 2.5 0 1 0 -5 0M1135.4 605.8a2.5 2.5 0 1 0 5 0a2.5 2.5 0 1 0 -5 0M1137.2 606.6a2.5 2.5 0 1 0 5 0a2.5 2.5 0 1 0 -5 0M1137.2 608.1a2.5 2.5 0 1 0 5 0a2.5 2.5 0 1 0 -5 0M1137.6 603.1a2.5 2.5 0 1 0 5 0a2.5 2.5 0 1 0 -5 0M1137.6 604.7a2.5 2.5 0 1 0 5 0a2.5 2.5 0 1 0 -5 0M1137.6 607.8a2.5 2.5 0 1 0 5 0a2.5 2.5 0 1 0 -5 0M1138.1 587.8a2.5 2.5 0 1 0 5 0a2.5 2.5 0 1 0 -5 0M1140.2 589.1a2.5 2.5 0 1 0 5 0a2.5 2.5 0 1 0 -5 0M1141.1 579.7a2.5 2.5 0 1 0 5 0a2.5 2.5 0 1 0 -5 0M1141.1 600a2.5 2.5 0 1 0 5 0a2.5 2.5 0 1 0 -5 0M1141.1 603.9a2.5 2.5 0 1 0 5 0a2.5 2.5 0 1 0 -5 0M1141.7 593.3a2.5 2.5 0 1 0 5 0a2.5 2.5 0 1 0 -5 0M1142 602.3a2.5 2.5 0 1 0 5 0a2.5 2.5 0 1 0 -5 0M1143.8 607.8a2.5 2.5 0 1 0 5 0a2.5 2.5 0 1 0 -5 0M1144.7 595.3a2.5 2.5 0 1 0 5 0a2.5 2.5 0 1 0 -5 0M1144.7 602.3a2.5 2.5 0 1 0 5 0a2.5 2.5 0 1 0 -5 0M1144.7 604.7a2.5 2.5 0 1 0 5 0a2.5 2.5 0 1 0 -5 0M1144.7 605.5a2.5 2.5 0 1 0 5 0a2.5 2.5 0 1 0 -5 0M1146.5 564.1a2.5 2.5 0 1 0 5 0a2.5 2.5 0 1 0 -5 0M1146.5 603.9a2.5 2.5 0 1 0 5 0a2.5 2.5 0 1 0 -5 0M1146.5 609.4a2.5 2.5 0 1 0 5 0a2.5 2.5 0 1 0 -5 0M1147.4 578.1a2.5 2.5 0 1 0 5 0a2.5 2.5 0 1 0 -5 0M1147.4 578.9a2.5 2.5 0 1 0 5 0a2.5 2.5 0 1 0 -5 0M1147.4 579.7a2.5 2.5 0 1 0 5 0a2.5 2.5 0 1 0 -5 0M1148.3 593.8a2.5 2.5 0 1 0 5 0a2.5 2.5 0 1 0 -5 0M1148.3 603.9a2.5 2.5 0 1 0 5 0a2.5 2.5 0 1 0 -5 0M1149.2 599.2a2.5 2.5 0 1 0 5 0a2.5 2.5 0 1 0 -5 0M1150.1 593.8a2.5 2.5 0 1 0 5 0a2.5 2.5 0 1 0 -5 0M1150.1 602.3a2.5 2.5 0 1 0 5 0a2.5 2.5 0 1 0 -5 0M1150.1 603.1a2.5 2.5 0 1 0 5 0a2.5 2.5 0 1 0 -5 0M1150.1 607a2.5 2.5 0 1 0 5 0a2.5 2.5 0 1 0 -5 0M1151 593.8a2.5 2.5 0 1 0 5 0a2.5 2.5 0 1 0 -5 0M1151 596.9a2.5 2.5 0 1 0 5 0a2.5 2.5 0 1 0 -5 0M1151 603.9a2.5 2.5 0 1 0 5 0a2.5 2.5 0 1 0 -5 0M1151 618.8a2.5 2.5 0 1 0 5 0a2.5 2.5 0 1 0 -5 0M1151.5 567.5a2.5 2.5 0 1 0 5 0a2.5 2.5 0 1 0 -5 0M1151.5 576.1a2.5 2.5 0 1 0 5 0a2.5 2.5 0 1 0 -5 0M1151.8 595.3a2.5 2.5 0 1 0 5 0a2.5 2.5 0 1 0 -5 0M1152.7 594.5a2.5 2.5 0 1 0 5 0a2.5 2.5 0 1 0 -5 0M1152.7 604.7a2.5 2.5 0 1 0 5 0a2.5 2.5 0 1 0 -5 0M1153.6 578.9a2.5 2.5 0 1 0 5 0a2.5 2.5 0 1 0 -5 0M1153.6 589.8a2.5 2.5 0 1 0 5 0a2.5 2.5 0 1 0 -5 0M1153.6 595.3a2.5 2.5 0 1 0 5 0a2.5 2.5 0 1 0 -5 0M1153.6 603.9a2.5 2.5 0 1 0 5 0a2.5 2.5 0 1 0 -5 0M1154.5 592.2a2.5 2.5 0 1 0 5 0a2.5 2.5 0 1 0 -5 0M1154.5 599.2a2.5 2.5 0 1 0 5 0a2.5 2.5 0 1 0 -5 0M1155.1 565.9a2.5 2.5 0 1 0 5 0a2.5 2.5 0 1 0 -5 0M1155.1 569.8a2.5 2.5 0 1 0 5 0a2.5 2.5 0 1 0 -5 0M1155.1 578.4a2.5 2.5 0 1 0 5 0a2.5 2.5 0 1 0 -5 0M1155.4 590.6a2.5 2.5 0 1 0 5 0a2.5 2.5 0 1 0 -5 0M1155.4 602.3a2.5 2.5 0 1 0 5 0a2.5 2.5 0 1 0 -5 0M1156.3 590.6a2.5 2.5 0 1 0 5 0a2.5 2.5 0 1 0 -5 0M1156.3 594.5a2.5 2.5 0 1 0 5 0a2.5 2.5 0 1 0 -5 0M1157.2 600a2.5 2.5 0 1 0 5 0a2.5 2.5 0 1 0 -5 0M1158.1 588.3a2.5 2.5 0 1 0 5 0a2.5 2.5 0 1 0 -5 0M1158.1 596.9a2.5 2.5 0 1 0 5 0a2.5 2.5 0 1 0 -5 0M1158.6 575.3a2.5 2.5 0 1 0 5 0a2.5 2.5 0 1 0 -5 0M1159 564.1a2.5 2.5 0 1 0 5 0a2.5 2.5 0 1 0 -5 0M1159 581.2a2.5 2.5 0 1 0 5 0a2.5 2.5 0 1 0 -5 0M1159 582a2.5 2.5 0 1 0 5 0a2.5 2.5 0 1 0 -5 0M1159 587.5a2.5 2.5 0 1 0 5 0a2.5 2.5 0 1 0 -5 0M1159 596.9a2.5 2.5 0 1 0 5 0a2.5 2.5 0 1 0 -5 0M1159.5 557.3a2.5 2.5 0 1 0 5 0a2.5 2.5 0 1 0 -5 0M1159.5 562.8a2.5 2.5 0 1 0 5 0a2.5 2.5 0 1 0 -5 0M1159.9 585.9a2.5 2.5 0 1 0 5 0a2.5 2.5 0 1 0 -5 0M1159.9 593.8a2.5 2.5 0 1 0 5 0a2.5 2.5 0 1 0 -5 0M1160.4 563.6a2.5 2.5 0 1 0 5 0a2.5 2.5 0 1 0 -5 0M1161.3 562.8a2.5 2.5 0 1 0 5 0a2.5 2.5 0 1 0 -5 0M1161.3 569.8a2.5 2.5 0 1 0 5 0a2.5 2.5 0 1 0 -5 0M1161.7 584.4a2.5 2.5 0 1 0 5 0a2.5 2.5 0 1 0 -5 0M1161.7 590.6a2.5 2.5 0 1 0 5 0a2.5 2.5 0 1 0 -5 0M1161.7 595.3a2.5 2.5 0 1 0 5 0a2.5 2.5 0 1 0 -5 0M1161.7 600a2.5 2.5 0 1 0 5 0a2.5 2.5 0 1 0 -5 0M1161.7 603.9a2.5 2.5 0 1 0 5 0a2.5 2.5 0 1 0 -5 0M1162.6 573.4a2.5 2.5 0 1 0 5 0a2.5 2.5 0 1 0 -5 0M1162.6 578.9a2.5 2.5 0 1 0 5 0a2.5 2.5 0 1 0 -5 0M1163.5 590.6a2.5 2.5 0 1 0 5 0a2.5 2.5 0 1 0 -5 0M1163.5 593.8a2.5 2.5 0 1 0 5 0a2.5 2.5 0 1 0 -5 0M1163.5 607a2.5 2.5 0 1 0 5 0a2.5 2.5 0 1 0 -5 0M1164.3 577.3a2.5 2.5 0 1 0 5 0a2.5 2.5 0 1 0 -5 0M1164.3 579.7a2.5 2.5 0 1 0 5 0a2.5 2.5 0 1 0 -5 0M1164.3 580.5a2.5 2.5 0 1 0 5 0a2.5 2.5 0 1 0 -5 0M1164.3 584.4a2.5 2.5 0 1 0 5 0a2.5 2.5 0 1 0 -5 0M1164.3 585.2a2.5 2.5 0 1 0 5 0a2.5 2.5 0 1 0 -5 0M1164.3 595.3a2.5 2.5 0 1 0 5 0a2.5 2.5 0 1 0 -5 0M1164.3 596.9a2.5 2.5 0 1 0 5 0a2.5 2.5 0 1 0 -5 0M1166.1 579.7a2.5 2.5 0 1 0 5 0a2.5 2.5 0 1 0 -5 0M1166.1 600a2.5 2.5 0 1 0 5 0a2.5 2.5 0 1 0 -5 0M1167 577.3a2.5 2.5 0 1 0 5 0a2.5 2.5 0 1 0 -5 0M1167 581.2a2.5 2.5 0 1 0 5 0a2.5 2.5 0 1 0 -5 0M1167 590.6a2.5 2.5 0 1 0 5 0a2.5 2.5 0 1 0 -5 0M1167 600a2.5 2.5 0 1 0 5 0a2.5 2.5 0 1 0 -5 0M1167 601.6a2.5 2.5 0 1 0 5 0a2.5 2.5 0 1 0 -5 0M1167 610.2a2.5 2.5 0 1 0 5 0a2.5 2.5 0 1 0 -5 0M1167.6 558.9a2.5 2.5 0 1 0 5 0a2.5 2.5 0 1 0 -5 0M1167.6 583.9a2.5 2.5 0 1 0 5 0a2.5 2.5 0 1 0 -5 0M1167.9 571.9a2.5 2.5 0 1 0 5 0a2.5 2.5 0 1 0 -5 0M1167.9 575.8a2.5 2.5 0 1 0 5 0a2.5 2.5 0 1 0 -5 0M1167.9 580.5a2.5 2.5 0 1 0 5 0a2.5 2.5 0 1 0 -5 0M1167.9 581.2a2.5 2.5 0 1 0 5 0a2.5 2.5 0 1 0 -5 0M1167.9 582.8a2.5 2.5 0 1 0 5 0a2.5 2.5 0 1 0 -5 0M1167.9 589.1a2.5 2.5 0 1 0 5 0a2.5 2.5 0 1 0 -5 0M1167.9 593a2.5 2.5 0 1 0 5 0a2.5 2.5 0 1 0 -5 0M1167.9 596.9a2.5 2.5 0 1 0 5 0a2.5 2.5 0 1 0 -5 0M1169.7 578.1a2.5 2.5 0 1 0 5 0a2.5 2.5 0 1 0 -5 0M1169.7 601.6a2.5 2.5 0 1 0 5 0a2.5 2.5 0 1 0 -5 0M1171.5 567.2a2.5 2.5 0 1 0 5 0a2.5 2.5 0 1 0 -5 0M1171.5 568a2.5 2.5 0 1 0 5 0a2.5 2.5 0 1 0 -5 0M1171.5 571.1a2.5 2.5 0 1 0 5 0a2.5 2.5 0 1 0 -5 0M1171.5 573.4a2.5 2.5 0 1 0 5 0a2.5 2.5 0 1 0 -5 0M1171.5 574.2a2.5 2.5 0 1 0 5 0a2.5 2.5 0 1 0 -5 0M1171.5 582.8a2.5 2.5 0 1 0 5 0a2.5 2.5 0 1 0 -5 0M1171.5 592.2a2.5 2.5 0 1 0 5 0a2.5 2.5 0 1 0 -5 0M1172 588.6a2.5 2.5 0 1 0 5 0a2.5 2.5 0 1 0 -5 0M1172.4 555.5a2.5 2.5 0 1 0 5 0a2.5 2.5 0 1 0 -5 0M1172.9 588.6a2.5 2.5 0 1 0 5 0a2.5 2.5 0 1 0 -5 0M1173.3 565.6a2.5 2.5 0 1 0 5 0a2.5 2.5 0 1 0 -5 0M1173.3 570.3a2.5 2.5 0 1 0 5 0a2.5 2.5 0 1 0 -5 0M1173.3 571.9a2.5 2.5 0 1 0 5 0a2.5 2.5 0 1 0 -5 0M1173.3 573.4a2.5 2.5 0 1 0 5 0a2.5 2.5 0 1 0 -5 0M1173.3 575.8a2.5 2.5 0 1 0 5 0a2.5 2.5 0 1 0 -5 0M1173.3 580.5a2.5 2.5 0 1 0 5 0a2.5 2.5 0 1 0 -5 0M1173.3 581.2a2.5 2.5 0 1 0 5 0a2.5 2.5 0 1 0 -5 0M1173.3 586.7a2.5 2.5 0 1 0 5 0a2.5 2.5 0 1 0 -5 0M1173.3 590.6a2.5 2.5 0 1 0 5 0a2.5 2.5 0 1 0 -5 0M1173.8 570.6a2.5 2.5 0 1 0 5 0a2.5 2.5 0 1 0 -5 0M1173.8 575.3a2.5 2.5 0 1 0 5 0a2.5 2.5 0 1 0 -5 0M1174.2 571.1a2.5 2.5 0 1 0 5 0a2.5 2.5 0 1 0 -5 0M1174.2 585.9a2.5 2.5 0 1 0 5 0a2.5 2.5 0 1 0 -5 0M1174.2 596.9a2.5 2.5 0 1 0 5 0a2.5 2.5 0 1 0 -5 0M1175.1 550a2.5 2.5 0 1 0 5 0a2.5 2.5 0 1 0 -5 0M1175.1 557.8a2.5 2.5 0 1 0 5 0a2.5 2.5 0 1 0 -5 0M1175.1 575a2.5 2.5 0 1 0 5 0a2.5 2.5 0 1 0 -5 0M1175.1 575.8a2.5 2.5 0 1 0 5 0a2.5 2.5 0 1 0 -5 0M1175.1 584.4a2.5 2.5 0 1 0 5 0a2.5 2.5 0 1 0 -5 0M1178.6 528.1a2.5 2.5 0 1 0 5 0a2.5 2.5 0 1 0 -5 0M1178.6 538.3a2.5 2.5 0 1 0 5 0a2.5 2.5 0 1 0 -5 0M1178.6 568a2.5 2.5 0 1 0 5 0a2.5 2.5 0 1 0 -5 0M1178.6 568.8a2.5 2.5 0 1 0 5 0a2.5 2.5 0 1 0 -5 0M1178.6 571.1a2.5 2.5 0 1 0 5 0a2.5 2.5 0 1 0 -5 0M1178.6 573.4a2.5 2.5 0 1 0 5 0a2.5 2.5 0 1 0 -5 0M1178.6 575.8a2.5 2.5 0 1 0 5 0a2.5 2.5 0 1 0 -5 0M1178.6 576.6a2.5 2.5 0 1 0 5 0a2.5 2.5 0 1 0 -5 0M1178.6 577.3a2.5 2.5 0 1 0 5 0a2.5 2.5 0 1 0 -5 0M1178.6 580.5a2.5 2.5 0 1 0 5 0a2.5 2.5 0 1 0 -5 0M1178.6 581.2a2.5 2.5 0 1 0 5 0a2.5 2.5 0 1 0 -5 0M1178.6 593a2.5 2.5 0 1 0 5 0a2.5 2.5 0 1 0 -5 0M1180.1 558.9a2.5 2.5 0 1 0 5 0a2.5 2.5 0 1 0 -5 0M1180.1 567.5a2.5 2.5 0 1 0 5 0a2.5 2.5 0 1 0 -5 0M1180.1 570.6a2.5 2.5 0 1 0 5 0a2.5 2.5 0 1 0 -5 0M1180.4 564.1a2.5 2.5 0 1 0 5 0a2.5 2.5 0 1 0 -5 0M1180.4 565.6a2.5 2.5 0 1 0 5 0a2.5 2.5 0 1 0 -5 0M1180.4 580.5a2.5 2.5 0 1 0 5 0a2.5 2.5 0 1 0 -5 0M1180.4 585.2a2.5 2.5 0 1 0 5 0a2.5 2.5 0 1 0 -5 0M1180.8 594.5a2.5 2.5 0 1 0 5 0a2.5 2.5 0 1 0 -5 0M1180.9 565.9a2.5 2.5 0 1 0 5 0a2.5 2.5 0 1 0 -5 0M1182.2 547.7a2.5 2.5 0 1 0 5 0a2.5 2.5 0 1 0 -5 0M1182.2 557.8a2.5 2.5 0 1 0 5 0a2.5 2.5 0 1 0 -5 0M1182.2 565.6a2.5 2.5 0 1 0 5 0a2.5 2.5 0 1 0 -5 0M1182.2 582.8a2.5 2.5 0 1 0 5 0a2.5 2.5 0 1 0 -5 0M1184 568.8a2.5 2.5 0 1 0 5 0a2.5 2.5 0 1 0 -5 0M1184 571.9a2.5 2.5 0 1 0 5 0a2.5 2.5 0 1 0 -5 0M1184.5 564.4a2.5 2.5 0 1 0 5 0a2.5 2.5 0 1 0 -5 0M1184.5 574.5a2.5 2.5 0 1 0 5 0a2.5 2.5 0 1 0 -5 0M1184.5 583.9a2.5 2.5 0 1 0 5 0a2.5 2.5 0 1 0 -5 0M1184.9 568a2.5 2.5 0 1 0 5 0a2.5 2.5 0 1 0 -5 0M1184.9 568.8a2.5 2.5 0 1 0 5 0a2.5 2.5 0 1 0 -5 0M1184.9 575a2.5 2.5 0 1 0 5 0a2.5 2.5 0 1 0 -5 0M1184.9 576.6a2.5 2.5 0 1 0 5 0a2.5 2.5 0 1 0 -5 0M1185.8 550a2.5 2.5 0 1 0 5 0a2.5 2.5 0 1 0 -5 0M1185.8 557.8a2.5 2.5 0 1 0 5 0a2.5 2.5 0 1 0 -5 0M1185.8 569.5a2.5 2.5 0 1 0 5 0a2.5 2.5 0 1 0 -5 0M1186.7 564.8a2.5 2.5 0 1 0 5 0a2.5 2.5 0 1 0 -5 0M1187.6 555.5a2.5 2.5 0 1 0 5 0a2.5 2.5 0 1 0 -5 0M1187.6 560.9a2.5 2.5 0 1 0 5 0a2.5 2.5 0 1 0 -5 0M1187.6 568.8a2.5 2.5 0 1 0 5 0a2.5 2.5 0 1 0 -5 0M1189 553.4a2.5 2.5 0 1 0 5 0a2.5 2.5 0 1 0 -5 0M1189 562a2.5 2.5 0 1 0 5 0a2.5 2.5 0 1 0 -5 0M1189 563.6a2.5 2.5 0 1 0 5 0a2.5 2.5 0 1 0 -5 0M1189.3 521.9a2.5 2.5 0 1 0 5 0a2.5 2.5 0 1 0 -5 0M1189.7 560.9a2.5 2.5 0 1 0 5 0a2.5 2.5 0 1 0 -5 0M1189.7 568a2.5 2.5 0 1 0 5 0a2.5 2.5 0 1 0 -5 0M1190.2 528.1a2.5 2.5 0 1 0 5 0a2.5 2.5 0 1 0 -5 0M1191.1 564.8a2.5 2.5 0 1 0 5 0a2.5 2.5 0 1 0 -5 0M1192 523.4a2.5 2.5 0 1 0 5 0a2.5 2.5 0 1 0 -5 0M1192 533.6a2.5 2.5 0 1 0 5 0a2.5 2.5 0 1 0 -5 0M1192.5 565.9a2.5 2.5 0 1 0 5 0a2.5 2.5 0 1 0 -5 0M1192.5 572.2a2.5 2.5 0 1 0 5 0a2.5 2.5 0 1 0 -5 0M1193.4 562a2.5 2.5 0 1 0 5 0a2.5 2.5 0 1 0 -5 0M1193.8 544.5a2.5 2.5 0 1 0 5 0a2.5 2.5 0 1 0 -5 0M1193.8 553.9a2.5 2.5 0 1 0 5 0a2.5 2.5 0 1 0 -5 0M1193.8 562.5a2.5 2.5 0 1 0 5 0a2.5 2.5 0 1 0 -5 0M1193.8 564.1a2.5 2.5 0 1 0 5 0a2.5 2.5 0 1 0 -5 0M1193.8 564.8a2.5 2.5 0 1 0 5 0a2.5 2.5 0 1 0 -5 0M1193.8 571.9a2.5 2.5 0 1 0 5 0a2.5 2.5 0 1 0 -5 0M1195.6 551.6a2.5 2.5 0 1 0 5 0a2.5 2.5 0 1 0 -5 0M1195.6 555.5a2.5 2.5 0 1 0 5 0a2.5 2.5 0 1 0 -5 0M1195.6 556.2a2.5 2.5 0 1 0 5 0a2.5 2.5 0 1 0 -5 0M1195.6 561.7a2.5 2.5 0 1 0 5 0a2.5 2.5 0 1 0 -5 0M1196.1 548a2.5 2.5 0 1 0 5 0a2.5 2.5 0 1 0 -5 0M1196.1 556.6a2.5 2.5 0 1 0 5 0a2.5 2.5 0 1 0 -5 0M1196.1 559.7a2.5 2.5 0 1 0 5 0a2.5 2.5 0 1 0 -5 0M1199.2 562.5a2.5 2.5 0 1 0 5 0a2.5 2.5 0 1 0 -5 0M1200 521.9a2.5 2.5 0 1 0 5 0a2.5 2.5 0 1 0 -5 0M1200 553.1a2.5 2.5 0 1 0 5 0a2.5 2.5 0 1 0 -5 0M1200 553.9a2.5 2.5 0 1 0 5 0a2.5 2.5 0 1 0 -5 0M1200 554.7a2.5 2.5 0 1 0 5 0a2.5 2.5 0 1 0 -5 0M1201.8 544.5a2.5 2.5 0 1 0 5 0a2.5 2.5 0 1 0 -5 0M1201.8 550a2.5 2.5 0 1 0 5 0a2.5 2.5 0 1 0 -5 0M1201.8 559.4a2.5 2.5 0 1 0 5 0a2.5 2.5 0 1 0 -5 0M1201.8 562.5a2.5 2.5 0 1 0 5 0a2.5 2.5 0 1 0 -5 0M1202.7 516.4a2.5 2.5 0 1 0 5 0a2.5 2.5 0 1 0 -5 0M1202.7 553.9a2.5 2.5 0 1 0 5 0a2.5 2.5 0 1 0 -5 0M1203.6 551.6a2.5 2.5 0 1 0 5 0a2.5 2.5 0 1 0 -5 0M1207.2 554.7a2.5 2.5 0 1 0 5 0a2.5 2.5 0 1 0 -5 0M1209 549.2a2.5 2.5 0 1 0 5 0a2.5 2.5 0 1 0 -5 0M1214.3 538.3a2.5 2.5 0 1 0 5 0a2.5 2.5 0 1 0 -5 0M1217.9 516.4a2.5 2.5 0 1 0 5 0a2.5 2.5 0 1 0 -5 0M1220.6 513.3a2.5 2.5 0 1 0 5 0a2.5 2.5 0 1 0 -5 0M1220.6 532.8a2.5 2.5 0 1 0 5 0a2.5 2.5 0 1 0 -5 0M1220.6 556.2a2.5 2.5 0 1 0 5 0a2.5 2.5 0 1 0 -5 0M1221.5 539.8a2.5 2.5 0 1 0 5 0a2.5 2.5 0 1 0 -5 0M1222.4 564.1a2.5 2.5 0 1 0 5 0a2.5 2.5 0 1 0 -5 0M1223.3 535.9a2.5 2.5 0 1 0 5 0a2.5 2.5 0 1 0 -5 0M1224.1 570.3a2.5 2.5 0 1 0 5 0a2.5 2.5 0 1 0 -5 0M1225 532.8a2.5 2.5 0 1 0 5 0a2.5 2.5 0 1 0 -5 0M1225 541.4a2.5 2.5 0 1 0 5 0a2.5 2.5 0 1 0 -5 0M1225.9 532a2.5 2.5 0 1 0 5 0a2.5 2.5 0 1 0 -5 0M1227.7 553.9a2.5 2.5 0 1 0 5 0a2.5 2.5 0 1 0 -5 0M1231.3 532.8a2.5 2.5 0 1 0 5 0a2.5 2.5 0 1 0 -5 0M1233.1 532a2.5 2.5 0 1 0 5 0a2.5 2.5 0 1 0 -5 0M1233.1 548.4a2.5 2.5 0 1 0 5 0a2.5 2.5 0 1 0 -5 0M1234.9 556.2a2.5 2.5 0 1 0 5 0a2.5 2.5 0 1 0 -5 0M1239.3 547.7a2.5 2.5 0 1 0 5 0a2.5 2.5 0 1 0 -5 0M1239.3 557a2.5 2.5 0 1 0 5 0a2.5 2.5 0 1 0 -5 0M1241.1 548.4a2.5 2.5 0 1 0 5 0a2.5 2.5 0 1 0 -5 0M1241.1 552.3a2.5 2.5 0 1 0 5 0a2.5 2.5 0 1 0 -5 0M1241.1 561.7a2.5 2.5 0 1 0 5 0a2.5 2.5 0 1 0 -5 0M1242.9 530.5a2.5 2.5 0 1 0 5 0a2.5 2.5 0 1 0 -5 0M1244.7 526.6a2.5 2.5 0 1 0 5 0a2.5 2.5 0 1 0 -5 0M1246.5 551.6a2.5 2.5 0 1 0 5 0a2.5 2.5 0 1 0 -5 0M1246.5 556.2a2.5 2.5 0 1 0 5 0a2.5 2.5 0 1 0 -5 0M1248.2 540.6a2.5 2.5 0 1 0 5 0a2.5 2.5 0 1 0 -5 0M1248.2 549.2a2.5 2.5 0 1 0 5 0a2.5 2.5 0 1 0 -5 0M1248.2 556.2a2.5 2.5 0 1 0 5 0a2.5 2.5 0 1 0 -5 0M1248.2 570.3a2.5 2.5 0 1 0 5 0a2.5 2.5 0 1 0 -5 0M1250.9 542.2a2.5 2.5 0 1 0 5 0a2.5 2.5 0 1 0 -5 0M1251.8 487.5a2.5 2.5 0 1 0 5 0a2.5 2.5 0 1 0 -5 0M1251.8 496.1a2.5 2.5 0 1 0 5 0a2.5 2.5 0 1 0 -5 0M1255.4 487.5a2.5 2.5 0 1 0 5 0a2.5 2.5 0 1 0 -5 0M1255.4 506.2a2.5 2.5 0 1 0 5 0a2.5 2.5 0 1 0 -5 0M1255.4 526.6a2.5 2.5 0 1 0 5 0a2.5 2.5 0 1 0 -5 0M1255.4 552.3a2.5 2.5 0 1 0 5 0a2.5 2.5 0 1 0 -5 0M1259 552.3a2.5 2.5 0 1 0 5 0a2.5 2.5 0 1 0 -5 0M1261.6 562.5a2.5 2.5 0 1 0 5 0a2.5 2.5 0 1 0 -5 0M1263.4 510.9a2.5 2.5 0 1 0 5 0a2.5 2.5 0 1 0 -5 0M1264.3 534.4a2.5 2.5 0 1 0 5 0a2.5 2.5 0 1 0 -5 0M1264.3 539.1a2.5 2.5 0 1 0 5 0a2.5 2.5 0 1 0 -5 0M1265.2 540.6a2.5 2.5 0 1 0 5 0a2.5 2.5 0 1 0 -5 0M1266.1 524.2a2.5 2.5 0 1 0 5 0a2.5 2.5 0 1 0 -5 0M1266.1 534.4a2.5 2.5 0 1 0 5 0a2.5 2.5 0 1 0 -5 0M1267.9 518.8a2.5 2.5 0 1 0 5 0a2.5 2.5 0 1 0 -5 0M1270.6 521.9a2.5 2.5 0 1 0 5 0a2.5 2.5 0 1 0 -5 0M1270.6 528.1a2.5 2.5 0 1 0 5 0a2.5 2.5 0 1 0 -5 0M1275 524.2a2.5 2.5 0 1 0 5 0a2.5 2.5 0 1 0 -5 0M1284.8 510.2a2.5 2.5 0 1 0 5 0a2.5 2.5 0 1 0 -5 0" fill="#377cbf" clip-path="url(#cd)"/>
<path d="M1000.7 310.21L1330.19 21.6" stroke="#000" stroke-width="2.3" fill="none" stroke-dasharray="9 3.9" clip-path="url(#cc)"/>
<path d="M1000.7 297.39L1330.19 51" stroke="#d62728" stroke-width="3.6" fill="none" clip-path="url(#cc)"/>
<path d="M1000.7 717.3L1330.19 428.9" stroke="#000" stroke-width="2.3" fill="none" stroke-dasharray="9 3.9" clip-path="url(#cd)"/>
<path d="M1000.7 704.61L1330.19 466.97" stroke="#d62728" stroke-width="3.6" fill="none" clip-path="url(#cd)"/>
<path d="M93.7 21.7H876.9V310.0H93.7ZM93.7 428.9H876.9V717.7H93.7ZM1000.7 21.6H1330.2V310.2H1000.7ZM1000.7 428.9H1330.2V717.7H1000.7Z" stroke="#000" stroke-width="1.9" fill="none" stroke-linejoin="miter" stroke-linecap="square"/>
<path d="M145.6 310.0v8.4M145.6 717.7v8.4M229.15 310.0v8.4M229.15 717.7v8.4M312.7 310.0v8.4M312.7 717.7v8.4M396.25 310.0v8.4M396.25 717.7v8.4M479.8 310.0v8.4M479.8 717.7v8.4M563.35 310.0v8.4M563.35 717.7v8.4M646.9 310.0v8.4M646.9 717.7v8.4M730.45 310.0v8.4M730.45 717.7v8.4M814 310.0v8.4M814 717.7v8.4M93.7 268.6h-8.4M93.7 186.3h-8.4M93.7 104h-8.4M93.7 21.7h-8.4M93.7 676.1h-8.4M93.7 593.7h-8.4M93.7 511.3h-8.4M93.7 428.9h-8.4M1000.7 268.98h-8.4M1047.77 310.2v8.4M1000.7 186.52h-8.4M1141.91 310.2v8.4M1000.7 104.06h-8.4M1236.05 310.2v8.4M1000.7 21.6h-8.4M1330.19 310.2v8.4M1000.7 676.1h-8.4M1047.77 717.7v8.4M1000.7 593.7h-8.4M1141.91 717.7v8.4M1000.7 511.3h-8.4M1236.05 717.7v8.4M1000.7 428.9h-8.4M1330.19 717.7v8.4" stroke="#000" stroke-width="1.9" fill="none"/>
<rect x="737.8" y="34.2" width="127.4" height="78.3" rx="5" ry="5" fill="#fff" fill-opacity="0.8" stroke="#cccccc" stroke-width="1.8"/>
<circle cx="771.7" cy="53.4" r="2.95" fill="#5abba3"/><circle cx="771.7" cy="89.7" r="2.95" fill="#d7b763"/>
<text transform="translate(822.83 62) scale(1.049 1)" x="-7.62" font-size="24.96">T</text><text transform="translate(837.49 62) scale(1.049 1)" x="-7.62" font-size="24.96">T</text>
<text transform="translate(823.04 97.8) scale(0.857 1)" x="-8.32" font-size="24.96">S</text><text transform="translate(842.41 97.8) scale(0.948 1)" x="-11.79" font-size="24.96">W</text>
<rect x="1010.3" y="31.6" width="131.6" height="91.9" rx="5" ry="5" fill="#fff" fill-opacity="0.8" stroke="#cccccc" stroke-width="1.8"/>
<circle cx="1038.1" cy="47.5" r="2.5" fill="#377cbf"/>
<path d="M1018.4 76.9L1057.6 76.9" stroke="#000" stroke-width="2.3" fill="none" stroke-dasharray="9 3.9"/>
<path d="M1018.4 105H1057.6" stroke="#d62728" stroke-width="3.6" stroke-linecap="square"/>
<text x="1072.92" y="54.6" font-size="20.8">D</text><text transform="translate(1093.92 54.6) scale(0.865 1)" x="-6.23" font-size="20.8">a</text><text transform="translate(1104.31 54.6) scale(1.285 1)" x="-2.97" font-size="20.8">t</text><text transform="translate(1114.02 54.6) scale(0.865 1)" x="-6.23" font-size="20.8">a</text>
<text transform="translate(1079.28 83.1) scale(1.067 1)" x="-5.21" font-size="20.8">x</text><text transform="translate(1099.97 83.1) scale(1.239 1)" x="-6.07" font-size="20.8">=</text><text transform="translate(1120.63 83.1) scale(1.033 1)" x="-5.21" font-size="20.8">y</text>
<text x="1072.51" y="111.9" font-size="20.8">L</text><text x="1083.92" y="111.9" font-size="20.8">i</text><text transform="translate(1095.4 111.9) scale(1.037 1)" x="-5.8" font-size="20.8">n</text><text transform="translate(1104.84 111.9) scale(1.040 1)" x="-2.89" font-size="20.8">.</text><text transform="translate(1118.33 111.9) scale(1.263 1)" x="-3.05" font-size="20.8">f</text><text x="1121.91" y="111.9" font-size="20.8">i</text><text transform="translate(1130.94 111.9) scale(1.285 1)" x="-2.97" font-size="20.8">t</text>
<text transform="translate(46.2 30.7) scale(0.968 1)" x="-7.37" font-size="25.27">1</text><text transform="translate(57.57 30.7) scale(1.040 1)" x="-3.51" font-size="25.27">.</text><text x="62.14" y="30.7" font-size="25.27">0</text>
<text transform="translate(953.2 30.6) scale(0.968 1)" x="-7.37" font-size="25.27">1</text><text transform="translate(964.57 30.6) scale(1.040 1)" x="-3.51" font-size="25.27">.</text><text x="969.14" y="30.6" font-size="25.27">0</text>
<text transform="translate(1318.81 345.2) scale(0.968 1)" x="-7.37" font-size="25.27">1</text><text transform="translate(1330.18 345.2) scale(1.040 1)" x="-3.51" font-size="25.27">.</text><text x="1334.75" y="345.2" font-size="25.27">0</text>
<text x="38.95" y="113" font-size="25.27">0</text><text transform="translate(57.57 113) scale(1.040 1)" x="-3.51" font-size="25.27">.</text><text x="62.14" y="113" font-size="25.27">8</text>
<text x="945.95" y="113.06" font-size="25.27">0</text><text transform="translate(964.57 113.06) scale(1.040 1)" x="-3.51" font-size="25.27">.</text><text x="969.14" y="113.06" font-size="25.27">8</text>
<text x="1217.42" y="345.2" font-size="25.27">0</text><text transform="translate(1236.04 345.2) scale(1.040 1)" x="-3.51" font-size="25.27">.</text><text x="1240.61" y="345.2" font-size="25.27">8</text>
<text x="38.95" y="195.3" font-size="25.27">0</text><text transform="translate(57.57 195.3) scale(1.040 1)" x="-3.51" font-size="25.27">.</text><text transform="translate(69.25 195.3) scale(1.049 1)" x="-7.11" font-size="25.27">6</text>
<text x="945.95" y="195.52" font-size="25.27">0</text><text transform="translate(964.57 195.52) scale(1.040 1)" x="-3.51" font-size="25.27">.</text><text transform="translate(976.25 195.52) scale(1.049 1)" x="-7.11" font-size="25.27">6</text>
<text x="1123.28" y="345.2" font-size="25.27">0</text><text transform="translate(1141.9 345.2) scale(1.040 1)" x="-3.51" font-size="25.27">.</text><text transform="translate(1153.59 345.2) scale(1.049 1)" x="-7.11" font-size="25.27">6</text>
<text x="38.95" y="277.6" font-size="25.27">0</text><text transform="translate(57.57 277.6) scale(1.040 1)" x="-3.51" font-size="25.27">.</text><text x="62.13" y="277.6" font-size="25.27">4</text>
<text x="945.95" y="277.98" font-size="25.27">0</text><text transform="translate(964.57 277.98) scale(1.040 1)" x="-3.51" font-size="25.27">.</text><text x="969.13" y="277.98" font-size="25.27">4</text>
<text x="1029.14" y="345.2" font-size="25.27">0</text><text transform="translate(1047.76 345.2) scale(1.040 1)" x="-3.51" font-size="25.27">.</text><text x="1052.33" y="345.2" font-size="25.27">4</text>
<text x="62.17" y="685.1" font-size="25.27">3</text>
<text x="969.17" y="685.1" font-size="25.27">3</text>
<text x="1040.77" y="752.8" font-size="25.27">3</text>
<text x="62.13" y="602.7" font-size="25.27">4</text>
<text x="969.13" y="602.7" font-size="25.27">4</text>
<text x="1134.87" y="752.8" font-size="25.27">4</text>
<text transform="translate(69.05 520.3) scale(0.957 1)" x="-7" font-size="25.27">5</text>
<text transform="translate(976.05 520.3) scale(0.957 1)" x="-7" font-size="25.27">5</text>
<text transform="translate(1235.93 752.8) scale(0.957 1)" x="-7" font-size="25.27">5</text>
<text transform="translate(69.25 437.9) scale(1.049 1)" x="-7.11" font-size="25.27">6</text>
<text transform="translate(976.25 437.9) scale(1.049 1)" x="-7.11" font-size="25.27">6</text>
<text transform="translate(1330.27 752.8) scale(1.049 1)" x="-7.11" font-size="25.27">6</text>
<text x="0.39" y="20.9" font-size="34.32" font-weight="bold">a</text>
<text transform="translate(12.46 434.4) scale(1.120 1)" x="-10.91" font-size="34.32" font-weight="bold">b</text>
<text transform="translate(915.39 20.9) scale(0.952 1)" x="-9.71" font-size="34.32" font-weight="bold">c</text>
<text transform="translate(917.17 434.4) scale(1.120 1)" x="-10.05" font-size="34.32" font-weight="bold">d</text>
<g transform="translate(67.63,794.25) rotate(-30)"><text x="0.7" y="0" font-size="25.27">0</text><text x="16.15" y="0" font-size="25.27">4</text><text transform="translate(35.31 0) scale(1.037 1)" x="-4.21" font-size="25.27">-</text><text transform="translate(48.78 0) scale(0.950 1)" x="-9.13" font-size="25.27">N</text><text x="58.28" y="0" font-size="25.27">o</text><text transform="translate(79.92 0) scale(1.038 1)" x="-6.32" font-size="25.27">v</text></g>
<g transform="translate(151.18,794.25) rotate(-30)"><text x="0.7" y="0" font-size="25.27">0</text><text transform="translate(23.07 0) scale(0.957 1)" x="-7" font-size="25.27">5</text><text transform="translate(35.31 0) scale(1.037 1)" x="-4.21" font-size="25.27">-</text><text transform="translate(48.78 0) scale(0.950 1)" x="-9.13" font-size="25.27">N</text><text x="58.28" y="0" font-size="25.27">o</text><text transform="translate(79.92 0) scale(1.038 1)" x="-6.32" font-size="25.27">v</text></g>
<g transform="translate(234.73,794.25) rotate(-30)"><text x="0.7" y="0" font-size="25.27">0</text><text transform="translate(23.27 0) scale(1.049 1)" x="-7.11" font-size="25.27">6</text><text transform="translate(35.31 0) scale(1.037 1)" x="-4.21" font-size="25.27">-</text><text transform="translate(48.78 0) scale(0.950 1)" x="-9.13" font-size="25.27">N</text><text x="58.28" y="0" font-size="25.27">o</text><text transform="translate(79.92 0) scale(1.038 1)" x="-6.32" font-size="25.27">v</text></g>
<g transform="translate(318.28,794.25) rotate(-30)"><text x="0.7" y="0" font-size="25.27">0</text><text x="16.11" y="0" font-size="25.27">7</text><text transform="translate(35.31 0) scale(1.037 1)" x="-4.21" font-size="25.27">-</text><text transform="translate(48.78 0) scale(0.950 1)" x="-9.13" font-size="25.27">N</text><text x="58.28" y="0" font-size="25.27">o</text><text transform="translate(79.92 0) scale(1.038 1)" x="-6.32" font-size="25.27">v</text></g>
<g transform="translate(401.83,794.25) rotate(-30)"><text x="0.7" y="0" font-size="25.27">0</text><text x="16.16" y="0" font-size="25.27">8</text><text transform="translate(35.31 0) scale(1.037 1)" x="-4.21" font-size="25.27">-</text><text transform="translate(48.78 0) scale(0.950 1)" x="-9.13" font-size="25.27">N</text><text x="58.28" y="0" font-size="25.27">o</text><text transform="translate(79.92 0) scale(1.038 1)" x="-6.32" font-size="25.27">v</text></g>
<g transform="translate(485.38,794.25) rotate(-30)"><text x="0.7" y="0" font-size="25.27">0</text><text transform="translate(23.1 0) scale(1.047 1)" x="-7.02" font-size="25.27">9</text><text transform="translate(35.31 0) scale(1.037 1)" x="-4.21" font-size="25.27">-</text><text transform="translate(48.78 0) scale(0.950 1)" x="-9.13" font-size="25.27">N</text><text x="58.28" y="0" font-size="25.27">o</text><text transform="translate(79.92 0) scale(1.038 1)" x="-6.32" font-size="25.27">v</text></g>
<g transform="translate(568.93,794.25) rotate(-30)"><text transform="translate(7.94 0) scale(0.968 1)" x="-7.37" font-size="25.27">1</text><text x="16.16" y="0" font-size="25.27">0</text><text transform="translate(35.31 0) scale(1.037 1)" x="-4.21" font-size="25.27">-</text><text transform="translate(48.78 0) scale(0.950 1)" x="-9.13" font-size="25.27">N</text><text x="58.28" y="0" font-size="25.27">o</text><text transform="translate(79.92 0) scale(1.038 1)" x="-6.32" font-size="25.27">v</text></g>
<g transform="translate(652.48,794.25) rotate(-30)"><text transform="translate(7.94 0) scale(0.968 1)" x="-7.37" font-size="25.27">1</text><text transform="translate(23.4 0) scale(0.968 1)" x="-7.37" font-size="25.27">1</text><text transform="translate(35.31 0) scale(1.037 1)" x="-4.21" font-size="25.27">-</text><text transform="translate(48.78 0) scale(0.950 1)" x="-9.13" font-size="25.27">N</text><text x="58.28" y="0" font-size="25.27">o</text><text transform="translate(79.92 0) scale(1.038 1)" x="-6.32" font-size="25.27">v</text></g>
<g transform="translate(736.03,794.25) rotate(-30)"><text transform="translate(7.94 0) scale(0.968 1)" x="-7.37" font-size="25.27">1</text><text x="15.84" y="0" font-size="25.27">2</text><text transform="translate(35.31 0) scale(1.037 1)" x="-4.21" font-size="25.27">-</text><text transform="translate(48.78 0) scale(0.950 1)" x="-9.13" font-size="25.27">N</text><text x="58.28" y="0" font-size="25.27">o</text><text transform="translate(79.92 0) scale(1.038 1)" x="-6.32" font-size="25.27">v</text></g>
<text transform="translate(380.52 826.6) scale(1.049 1)" x="-7.71" font-size="25.27">T</text><text x="388.52" y="826.6" font-size="25.27">i</text><text transform="translate(406.6 826.6) scale(1.096 1)" x="-10.53" font-size="25.27">m</text><text transform="translate(425.86 826.6) scale(1.039 1)" x="-7" font-size="25.27">e</text><text transform="translate(445.85 826.6) scale(0.813 1)" x="-4.92" font-size="25.27">(</text><text transform="translate(459.03 826.6) scale(0.893 1)" x="-9.29" font-size="25.27">C</text><text transform="translate(475.32 826.6) scale(0.857 1)" x="-8.42" font-size="25.27">S</text><text transform="translate(490.33 826.6) scale(1.049 1)" x="-7.71" font-size="25.27">T</text><text transform="translate(501.85 826.6) scale(1.166 1)" x="-3.51" font-size="25.27">/</text><text transform="translate(514.84 826.6) scale(0.945 1)" x="-9.13" font-size="25.27">U</text><text transform="translate(531.15 826.6) scale(1.049 1)" x="-7.71" font-size="25.27">T</text><text transform="translate(547.08 826.6) scale(0.893 1)" x="-9.29" font-size="25.27">C</text><text transform="translate(565.72 826.6) scale(1.239 1)" x="-7.39" font-size="25.27">−</text><text transform="translate(583.71 826.6) scale(1.049 1)" x="-7.11" font-size="25.27">6</text><text transform="translate(596.03 826.6) scale(0.813 1)" x="-3.5" font-size="25.27">)</text>
<g transform="translate(22.5,165.85) rotate(-90)"><text transform="translate(-37.11 0.01) scale(0.970 1)" x="-9.53" font-size="25.27" font-style="italic">H</text><text x="-27.92" y="3.95" font-size="17.69" font-style="italic">s</text><text x="5.41" y="0.01" font-size="25.27">[</text><text transform="translate(26.01 0.01) scale(1.087 1)" x="-10.15" font-size="25.27" font-style="italic">m</text><text x="40.37" y="0.01" font-size="25.27">]</text></g>
<g transform="translate(45.8,573.2) rotate(-90)"><text transform="translate(-34.35 0.01) scale(1.049 1)" x="-9.6" font-size="25.27" font-style="italic">T</text><text transform="translate(-20.26 3.95) scale(1.087 1)" x="-7.1" font-size="17.69" font-style="italic">m</text><text x="12.84" y="0.01" font-size="25.27">[</text><text x="22.13" y="0.01" font-size="25.27" font-style="italic">s</text><text x="36.81" y="0.01" font-size="25.27">]</text></g>
<g transform="translate(927.6,165.85) rotate(-90)"><text transform="translate(-55.24 0.01) scale(0.970 1)" x="-9.53" font-size="25.27" font-style="italic">H</text><text x="-46.05" y="3.95" font-size="17.69" font-style="italic">s</text><text transform="translate(-34.77 3.95) scale(1.300 1)" x="-2.46" font-size="17.69">,</text><text transform="translate(-23.41 3.95) scale(0.914 1)" x="-6.06" font-size="17.69" font-style="italic">S</text><text transform="translate(-8.32 3.95) scale(0.949 1)" x="-9.81" font-size="17.69" font-style="italic">W</text><text x="23.54" y="0.01" font-size="25.27">[</text><text transform="translate(44.14 0.01) scale(1.087 1)" x="-10.15" font-size="25.27" font-style="italic">m</text><text x="58.5" y="0.01" font-size="25.27">]</text></g>
<g transform="translate(950,572.95) rotate(-90)"><text transform="translate(-52.48 0.01) scale(1.049 1)" x="-9.6" font-size="25.27" font-style="italic">T</text><text transform="translate(-38.4 3.95) scale(1.087 1)" x="-7.1" font-size="17.69" font-style="italic">m</text><text transform="translate(-27.33 3.95) scale(1.300 1)" x="-2.46" font-size="17.69">,</text><text transform="translate(-15.98 3.95) scale(0.914 1)" x="-6.06" font-size="17.69" font-style="italic">S</text><text transform="translate(-0.89 3.95) scale(0.949 1)" x="-9.81" font-size="17.69" font-style="italic">W</text><text x="30.97" y="0.01" font-size="25.27">[</text><text x="40.26" y="0.01" font-size="25.27" font-style="italic">s</text><text x="54.94" y="0.01" font-size="25.27">]</text></g>
<text transform="translate(1113.77 380.01) scale(0.970 1)" x="-9.53" font-size="25.27" font-style="italic">H</text><text x="1122.96" y="383.95" font-size="17.69" font-style="italic">s</text><text transform="translate(1134.24 383.95) scale(1.300 1)" x="-2.46" font-size="17.69">,</text><text transform="translate(1146.53 383.95) scale(1.049 1)" x="-6.72" font-size="17.69" font-style="italic">T</text><text transform="translate(1156.9 383.95) scale(1.049 1)" x="-6.72" font-size="17.69" font-style="italic">T</text><text x="1185.73" y="380.01" font-size="25.27">[</text><text transform="translate(1206.33 380.01) scale(1.087 1)" x="-10.15" font-size="25.27" font-style="italic">m</text><text x="1220.69" y="380.01" font-size="25.27">]</text>
<text transform="translate(1116.78 787.01) scale(1.049 1)" x="-9.6" font-size="25.27" font-style="italic">T</text><text transform="translate(1130.87 790.95) scale(1.087 1)" x="-7.1" font-size="17.69" font-style="italic">m</text><text transform="translate(1141.93 790.95) scale(1.300 1)" x="-2.46" font-size="17.69">,</text><text transform="translate(1154.21 790.95) scale(1.049 1)" x="-6.72" font-size="17.69" font-style="italic">T</text><text transform="translate(1164.58 790.95) scale(1.049 1)" x="-6.72" font-size="17.69" font-style="italic">T</text><text x="1193.41" y="787.01" font-size="25.27">[</text><text x="1202.7" y="787.01" font-size="25.27" font-style="italic">s</text><text x="1217.38" y="787.01" font-size="25.27">]</text>
<text transform="translate(1143.5 249.29) scale(1.175 1)" x="-4.84" font-size="25.27" font-style="italic">r</text><text transform="translate(1162.32 249.29) scale(1.239 1)" x="-7.37" font-size="25.27">=</text><text x="1177.88" y="249.29" font-size="25.27">0</text><text transform="translate(1196.46 249.29) scale(1.040 1)" x="-3.51" font-size="25.27">.</text><text transform="translate(1207.96 249.29) scale(1.047 1)" x="-7.02" font-size="25.27">9</text><text x="1216.44" y="249.29" font-size="25.27">4</text>
<text transform="translate(1145.26 290.19) scale(0.834 1)" x="-9.13" font-size="25.27" font-style="italic">R</text><text transform="translate(1164.98 290.19) scale(0.970 1)" x="-10.91" font-size="25.27" font-style="italic">M</text><text transform="translate(1182.82 290.19) scale(0.914 1)" x="-8.65" font-size="25.27" font-style="italic">S</text><text transform="translate(1198.79 290.19) scale(0.898 1)" x="-8.93" font-size="25.27" font-style="italic">E</text><text transform="translate(1221.04 290.19) scale(1.239 1)" x="-7.37" font-size="25.27">=</text><text x="1236.6" y="290.19" font-size="25.27">0</text><text transform="translate(1255.18 290.19) scale(1.040 1)" x="-3.51" font-size="25.27">.</text><text x="1259.74" y="290.19" font-size="25.27">0</text><text transform="translate(1282.07 290.19) scale(0.957 1)" x="-7" font-size="25.27">5</text><text transform="translate(1309.51 290.19) scale(1.096 1)" x="-10.53" font-size="25.27">m</text>
<text transform="translate(1148.5 652.59) scale(1.175 1)" x="-4.84" font-size="25.27" font-style="italic">r</text><text transform="translate(1167.32 652.59) scale(1.239 1)" x="-7.37" font-size="25.27">=</text><text x="1182.88" y="652.59" font-size="25.27">0</text><text transform="translate(1201.46 652.59) scale(1.040 1)" x="-3.51" font-size="25.27">.</text><text transform="translate(1212.96 652.59) scale(1.047 1)" x="-7.02" font-size="25.27">9</text><text x="1221.48" y="652.59" font-size="25.27">3</text>
<text transform="translate(1150.26 693.59) scale(0.834 1)" x="-9.13" font-size="25.27" font-style="italic">R</text><text transform="translate(1169.98 693.59) scale(0.970 1)" x="-10.91" font-size="25.27" font-style="italic">M</text><text transform="translate(1187.82 693.59) scale(0.914 1)" x="-8.65" font-size="25.27" font-style="italic">S</text><text transform="translate(1203.79 693.59) scale(0.898 1)" x="-8.93" font-size="25.27" font-style="italic">E</text><text transform="translate(1226.04 693.59) scale(1.239 1)" x="-7.37" font-size="25.27">=</text><text x="1241.6" y="693.59" font-size="25.27">0</text><text transform="translate(1260.18 693.59) scale(1.040 1)" x="-3.51" font-size="25.27">.</text><text x="1263.04" y="693.59" font-size="25.27">2</text><text x="1278.79" y="693.59" font-size="25.27">4</text><text transform="translate(1307.63 693.59) scale(0.922 1)" x="-6.21" font-size="25.27">s</text></svg></body></html>
